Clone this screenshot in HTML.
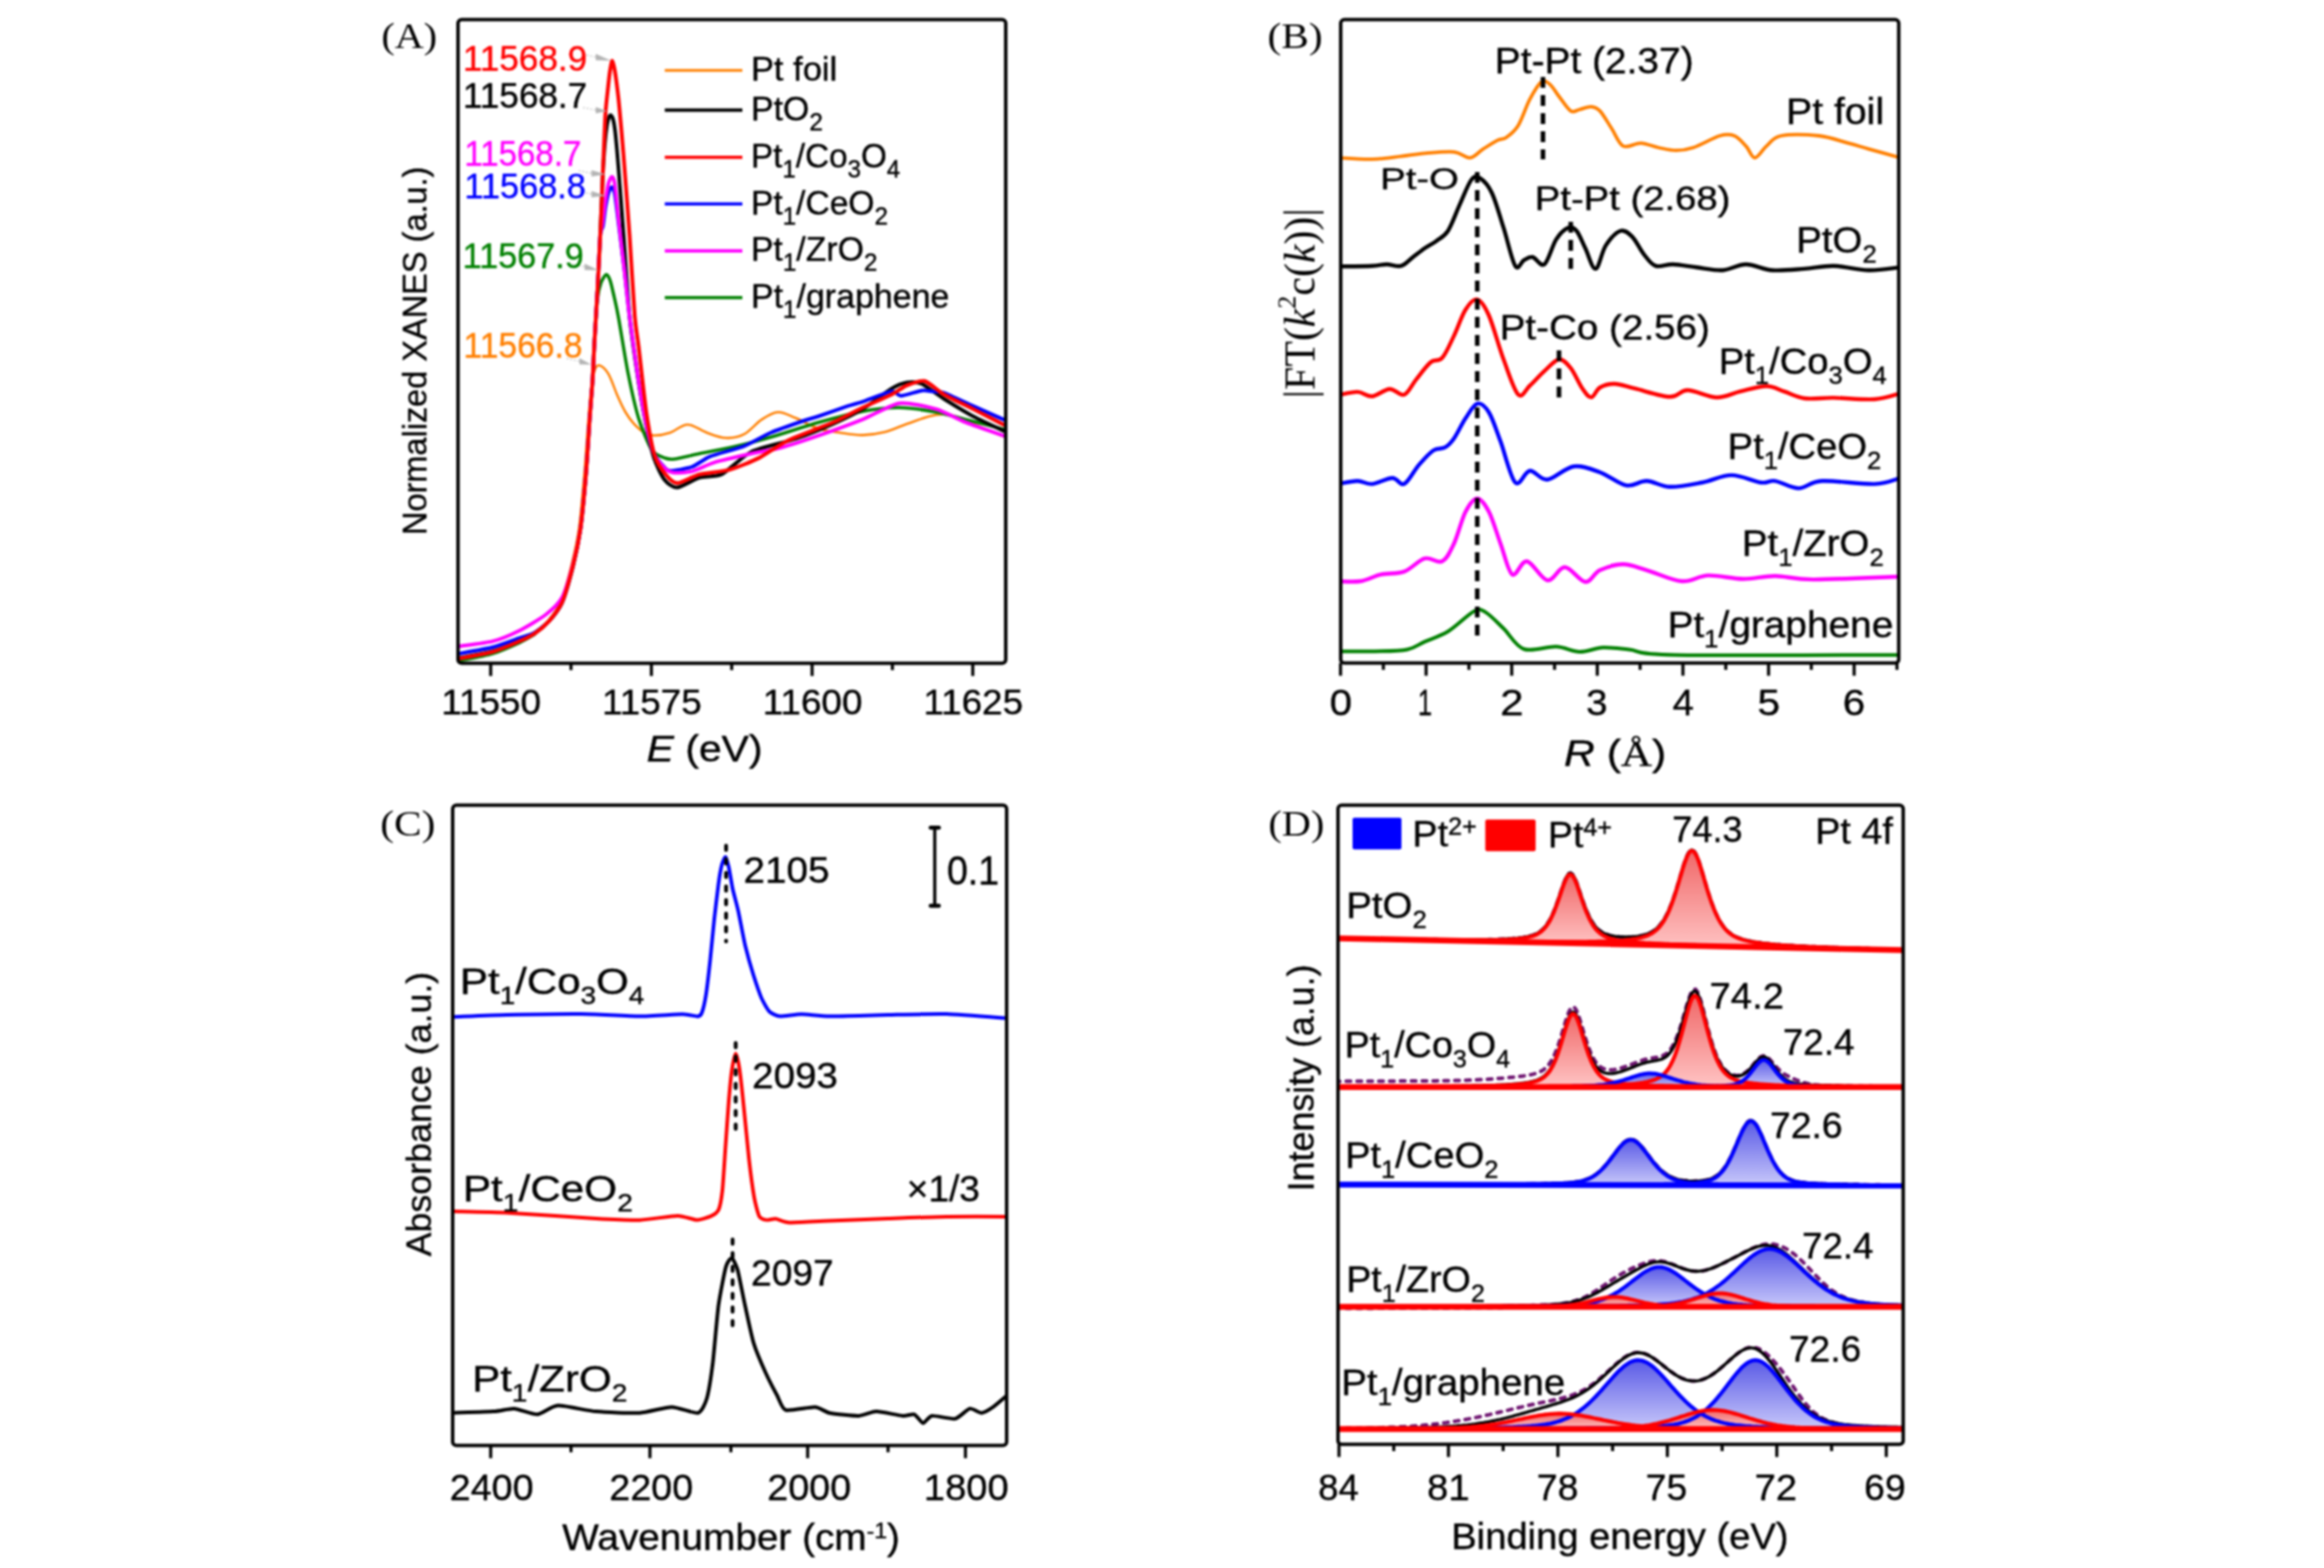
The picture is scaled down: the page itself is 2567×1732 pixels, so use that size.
<!DOCTYPE html>
<html><head><meta charset="utf-8"><style>
html,body{margin:0;padding:0;background:#fff;}
svg{display:block;}
#wrap{filter:blur(1px);width:2567px;height:1732px;overflow:hidden;}
</style></head><body><div id="wrap">
<svg width="2567" height="1732" viewBox="0 0 2567 1732">
<rect width="2567" height="1732" fill="#fff"/>
<line x1="542.0" y1="732.7" x2="542.0" y2="746.7" stroke="#000" stroke-width="3.4" />
<line x1="719.5" y1="732.7" x2="719.5" y2="746.7" stroke="#000" stroke-width="3.4" />
<line x1="897.0" y1="732.7" x2="897.0" y2="746.7" stroke="#000" stroke-width="3.4" />
<line x1="1074.5" y1="732.7" x2="1074.5" y2="746.7" stroke="#000" stroke-width="3.4" />
<line x1="630.7" y1="732.7" x2="630.7" y2="740.2" stroke="#000" stroke-width="3.4" />
<line x1="808.2" y1="732.7" x2="808.2" y2="740.2" stroke="#000" stroke-width="3.4" />
<line x1="985.7" y1="732.7" x2="985.7" y2="740.2" stroke="#000" stroke-width="3.4" />
<g clip-path="url(#clipA)">
<clipPath id="clipA"><rect x="505.9" y="21.6" width="605.0000000000001" height="711.1"/></clipPath>
<path d="M506.5,728.0 C512.8,726.8 532.9,724.2 544.0,721.0 C555.1,717.8 565.7,712.5 573.4,709.0 C581.1,705.5 584.6,704.0 590.0,700.0 C595.4,696.0 601.1,691.0 606.0,685.0 C610.9,679.0 615.3,674.0 619.5,664.0 C623.7,654.0 627.7,638.3 631.0,625.0 C634.3,611.7 637.1,601.0 639.5,584.0 C641.9,567.0 643.8,542.0 645.5,523.0 C647.2,504.0 648.2,485.5 649.5,470.0 C650.8,454.5 651.8,440.0 653.0,430.0 C654.2,420.0 655.1,414.4 656.5,410.0 C657.9,405.6 659.1,403.1 661.6,403.5 C664.1,403.9 668.4,407.1 671.8,412.7 C675.2,418.3 678.9,429.9 682.0,437.0 C685.1,444.1 687.7,449.9 690.7,455.0 C693.7,460.1 696.5,464.0 700.0,467.8 C703.5,471.6 708.2,475.8 712.0,478.0 C715.8,480.2 718.3,481.0 723.0,481.0 C727.7,481.0 733.9,480.0 740.0,478.0 C746.1,476.0 752.8,469.0 759.6,469.0 C766.4,469.0 773.8,475.5 780.9,478.0 C788.0,480.5 795.2,483.5 802.0,483.8 C808.8,484.1 815.2,483.1 821.8,479.7 C828.4,476.3 835.1,467.5 841.4,463.4 C847.7,459.3 853.1,455.5 859.4,455.2 C865.7,454.9 871.6,458.8 879.0,461.8 C886.4,464.8 895.3,470.5 903.5,473.2 C911.7,475.9 919.8,476.8 928.0,478.0 C936.2,479.2 944.4,480.7 952.6,480.6 C960.8,480.5 968.8,479.4 977.0,477.3 C985.2,475.2 993.4,471.2 1001.6,468.3 C1009.8,465.4 1019.2,461.8 1026.0,460.0 C1032.8,458.2 1037.0,457.5 1042.5,457.7 C1048.0,457.9 1052.0,458.7 1058.8,461.0 C1065.6,463.3 1074.5,467.9 1083.4,471.6 C1092.3,475.4 1107.2,481.5 1112.0,483.5" fill="none" stroke="#ff7f00" stroke-width="2.6" stroke-linejoin="round" stroke-linecap="round" />
<path d="M506.5,730.0 C511.5,728.9 535.1,724.7 544.0,722.0 C552.9,719.3 567.3,712.8 573.4,710.0 C579.5,707.2 587.8,702.3 590.0,701.0 C592.2,699.7 588.0,702.0 590.2,700.0 C592.4,698.0 602.4,690.6 606.5,686.0 C610.6,681.4 617.3,673.8 620.8,665.7 C624.3,657.6 630.3,635.9 633.0,625.0 C635.7,614.1 639.3,597.6 641.2,584.0 C643.1,570.4 645.9,539.2 647.3,522.9 C648.7,506.6 650.4,475.2 651.4,461.6 C652.4,448.0 653.8,431.7 654.5,420.8 C655.2,409.9 655.8,392.1 656.5,380.0 C657.2,367.9 659.0,339.1 660.0,330.0 C661.0,320.9 662.7,315.6 664.0,312.0 C665.3,308.4 668.3,303.6 669.6,303.3 C670.9,303.0 672.9,306.8 674.0,310.0 C675.1,313.2 677.0,321.9 678.2,327.2 C679.4,332.5 680.9,338.5 683.0,349.8 C685.1,361.1 690.7,397.0 693.7,412.0 C696.7,427.0 701.9,450.7 705.4,462.0 C708.9,473.3 716.1,491.1 720.0,497.0 C723.9,502.9 731.4,504.7 734.7,506.0 C738.0,507.3 739.9,507.7 745.0,507.0 C750.1,506.3 763.6,502.9 772.7,501.0 C781.8,499.1 802.7,495.3 813.6,492.8 C824.5,490.3 842.5,485.5 854.5,482.0 C866.5,478.5 890.4,470.4 903.5,466.7 C916.6,463.0 940.6,456.6 952.6,454.4 C964.6,452.2 982.5,450.2 993.4,450.3 C1004.3,450.4 1024.5,453.5 1034.3,455.2 C1044.1,456.9 1056.6,460.8 1067.0,463.4 C1077.4,466.0 1106.0,473.5 1112.0,475.0" fill="none" stroke="#008000" stroke-width="3.6" stroke-linejoin="round" stroke-linecap="round" />
<path d="M506.5,727.0 C510.9,726.1 536.2,721.7 544.0,719.5 C551.8,717.3 568.0,710.7 573.4,708.4 C578.8,706.1 586.3,702.6 590.2,700.0 C594.1,697.4 602.9,690.0 606.5,686.0 C610.1,682.0 617.7,672.8 620.8,665.7 C623.9,658.6 630.6,634.5 633.0,625.0 C635.4,615.5 639.5,595.9 641.2,584.0 C642.9,572.1 646.1,537.2 647.3,522.9 C648.5,508.6 650.6,473.5 651.4,461.6 C652.2,449.7 653.9,430.3 654.5,420.8 C655.1,411.3 655.9,391.8 656.5,380.0 C657.1,368.2 659.2,334.0 660.0,320.0 C660.8,306.0 662.3,274.8 663.0,260.0 C663.7,245.2 665.2,205.1 665.8,193.4 C666.4,181.7 667.5,166.5 668.0,160.0 C668.5,153.5 669.9,141.7 670.5,138.0 C671.1,134.3 672.5,129.7 673.0,128.5 C673.5,127.3 674.5,126.9 675.0,127.4 C675.5,127.9 676.9,130.4 677.5,133.0 C678.1,135.6 679.4,144.1 680.0,150.0 C680.6,155.9 682.0,171.0 683.0,183.8 C684.0,196.6 687.4,240.6 688.8,260.0 C690.2,279.4 693.9,333.5 695.4,349.8 C696.9,366.1 700.2,387.6 702.0,400.0 C703.8,412.4 708.7,443.8 711.0,456.0 C713.3,468.2 719.3,496.4 722.0,505.0 C724.7,513.6 731.0,526.1 734.0,530.0 C737.0,533.9 743.5,538.8 748.0,538.5 C752.5,538.2 767.0,529.2 772.7,527.5 C778.4,525.8 790.5,527.2 797.2,523.9 C803.9,520.6 820.5,503.6 830.0,499.0 C839.5,494.4 868.5,488.2 879.0,484.6 C889.5,481.0 911.3,472.1 919.9,468.3 C928.5,464.5 945.0,456.6 952.6,452.0 C960.2,447.4 979.5,432.4 985.2,429.0 C990.9,425.6 997.8,423.1 1001.6,422.5 C1005.4,421.9 1013.2,421.9 1018.0,424.0 C1022.8,426.1 1035.8,436.3 1042.5,440.5 C1049.2,444.7 1067.1,455.7 1075.2,460.0 C1083.3,464.3 1107.7,475.5 1112.0,477.5" fill="none" stroke="#000" stroke-width="4" stroke-linejoin="round" stroke-linecap="round" />
<path d="M506.5,722.0 C510.9,721.2 536.2,717.0 544.0,715.0 C551.8,713.0 568.0,706.9 573.4,705.0 C578.8,703.1 586.3,701.2 590.2,699.0 C594.1,696.8 602.9,689.9 606.5,686.0 C610.1,682.1 617.7,672.8 620.8,665.7 C623.9,658.6 630.6,634.5 633.0,625.0 C635.4,615.5 639.5,595.9 641.2,584.0 C642.9,572.1 646.1,537.2 647.3,522.9 C648.5,508.6 650.6,473.5 651.4,461.6 C652.2,449.7 653.9,430.3 654.5,420.8 C655.1,411.3 655.9,391.8 656.5,380.0 C657.1,368.2 659.2,334.0 660.0,320.0 C660.8,306.0 662.3,268.2 663.0,260.0 C663.7,251.8 665.3,253.7 666.0,250.0 C666.7,246.3 668.2,232.4 669.0,228.0 C669.8,223.6 671.7,214.5 672.5,212.0 C673.3,209.5 675.0,206.6 675.8,206.8 C676.6,207.0 678.2,209.5 679.0,214.0 C679.8,218.5 681.8,235.1 683.0,245.0 C684.2,254.9 688.3,286.4 689.7,298.6 C691.1,310.8 693.8,337.4 695.4,349.8 C697.0,362.2 701.1,392.1 703.0,405.0 C704.9,417.9 709.8,448.9 712.0,460.0 C714.2,471.1 719.7,493.7 722.0,500.0 C724.3,506.3 729.9,511.7 732.0,514.0 C734.1,516.3 736.2,519.8 740.0,520.0 C743.8,520.2 759.4,517.5 764.5,515.7 C769.6,513.9 777.3,507.0 784.0,504.3 C790.7,501.6 814.0,495.9 821.8,492.8 C829.6,489.7 843.6,481.2 851.2,478.0 C858.8,474.8 880.9,467.1 887.0,465.0 C893.1,462.9 897.8,461.9 903.5,460.0 C909.2,458.1 930.3,450.6 936.0,448.7 C941.7,446.8 946.9,445.7 952.6,443.8 C958.3,441.9 980.1,433.1 985.0,432.3 C989.9,431.5 991.1,437.3 995.0,437.2 C998.9,437.1 1014.0,432.1 1018.0,431.5 C1022.0,430.9 1026.5,432.0 1029.4,432.3 C1032.3,432.6 1037.2,432.1 1042.5,434.0 C1047.8,435.9 1067.1,445.1 1075.2,448.7 C1083.3,452.3 1107.7,463.1 1112.0,465.0" fill="none" stroke="#0000ff" stroke-width="4" stroke-linejoin="round" stroke-linecap="round" />
<path d="M506.5,714.0 C510.9,713.3 536.2,710.4 544.0,708.4 C551.8,706.4 566.6,700.1 573.4,696.7 C580.2,693.3 597.2,683.3 602.7,679.0 C608.2,674.7 617.3,666.5 620.8,660.0 C624.3,653.5 630.6,631.9 633.0,623.0 C635.4,614.1 639.5,595.7 641.2,584.0 C642.9,572.3 646.1,537.2 647.3,522.9 C648.5,508.6 650.6,473.5 651.4,461.6 C652.2,449.7 653.9,430.3 654.5,420.8 C655.1,411.3 655.9,391.8 656.5,380.0 C657.1,368.2 659.2,334.0 660.0,320.0 C660.8,306.0 662.4,268.2 663.0,260.0 C663.6,251.8 664.3,254.4 665.0,250.0 C665.7,245.6 667.9,227.5 668.7,222.0 C669.5,216.5 671.2,206.1 672.0,203.0 C672.8,199.9 675.0,195.3 675.8,195.3 C676.6,195.3 678.2,197.7 679.0,203.0 C679.8,208.3 681.8,229.8 683.0,241.0 C684.2,252.2 688.3,285.9 689.7,298.6 C691.1,311.3 693.8,337.4 695.4,349.8 C697.0,362.2 701.1,392.1 703.0,405.0 C704.9,417.9 709.8,448.9 712.0,460.0 C714.2,471.1 719.5,493.5 722.0,500.0 C724.5,506.5 730.5,513.4 733.0,516.0 C735.5,518.6 739.8,521.5 743.5,522.0 C747.2,522.5 759.2,521.9 764.5,520.6 C769.8,519.3 781.4,513.1 789.0,510.8 C796.6,508.5 821.4,502.9 830.0,501.0 C838.6,499.1 854.0,496.8 862.6,494.5 C871.2,492.2 893.0,485.0 903.5,481.4 C914.0,477.8 942.1,467.6 952.6,463.4 C963.1,459.2 983.9,446.7 993.4,445.4 C1002.9,444.1 1025.7,449.5 1034.3,452.0 C1042.9,454.5 1057.9,463.1 1067.0,466.7 C1076.1,470.3 1106.8,480.7 1112.0,482.5" fill="none" stroke="#ff00ff" stroke-width="4" stroke-linejoin="round" stroke-linecap="round" />
<path d="M506.5,727.5 C510.9,726.6 536.2,722.2 544.0,720.0 C551.8,717.8 568.0,710.7 573.4,708.4 C578.8,706.1 586.3,702.6 590.2,700.0 C594.1,697.4 602.9,690.0 606.5,686.0 C610.1,682.0 617.7,672.8 620.8,665.7 C623.9,658.6 630.6,634.5 633.0,625.0 C635.4,615.5 639.5,595.9 641.2,584.0 C642.9,572.1 646.1,537.2 647.3,522.9 C648.5,508.6 650.6,473.5 651.4,461.6 C652.2,449.7 653.9,430.3 654.5,420.8 C655.1,411.3 655.9,391.8 656.5,380.0 C657.1,368.2 659.2,334.0 660.0,320.0 C660.8,306.0 662.3,274.8 663.0,260.0 C663.7,245.2 665.1,209.0 665.8,193.4 C666.5,177.8 668.0,137.7 668.7,126.5 C669.4,115.3 670.9,103.6 671.5,97.8 C672.1,92.0 673.4,80.4 674.0,76.8 C674.6,73.2 675.7,67.0 676.3,67.2 C676.9,67.4 678.4,74.0 679.2,78.7 C680.0,83.4 682.1,99.7 683.0,107.4 C683.9,115.1 685.7,136.1 686.5,145.0 C687.3,153.9 688.7,170.4 689.7,183.8 C690.7,197.2 694.1,240.6 695.4,260.0 C696.7,279.4 700.0,335.5 701.2,349.8 C702.4,364.1 703.9,370.3 705.4,382.7 C706.9,395.1 711.9,442.0 714.0,456.0 C716.1,470.0 720.6,495.1 723.0,503.0 C725.4,510.9 731.8,519.9 734.7,523.5 C737.6,527.1 743.6,533.6 748.0,533.7 C752.4,533.8 766.0,525.7 772.7,524.0 C779.4,522.3 797.8,521.1 805.4,519.0 C813.0,516.9 830.4,509.8 838.0,506.0 C845.6,502.2 861.2,490.9 870.8,486.3 C880.4,481.7 910.4,470.9 919.9,466.7 C929.4,462.5 945.0,453.9 952.6,450.3 C960.2,446.7 979.5,438.5 985.2,435.6 C990.9,432.7 997.4,427.5 1001.6,425.8 C1005.8,424.1 1016.4,419.8 1021.2,420.9 C1026.0,422.0 1036.2,432.0 1042.5,435.6 C1048.8,439.2 1067.1,447.9 1075.2,452.0 C1083.3,456.1 1107.7,468.8 1112.0,471.0" fill="none" stroke="#ff0000" stroke-width="4.2" stroke-linejoin="round" stroke-linecap="round" />
</g>
<line x1="644.0" y1="60.0" x2="658.0" y2="63.0" stroke="#ccc" stroke-width="1.5" stroke-dasharray="2,2"/>
<polygon points="658.0,59.5 658.0,66.5 675.0,67.0" fill="#b4b4b4"/>
<line x1="644.0" y1="118.7" x2="658.0" y2="121.7" stroke="#ccc" stroke-width="1.5" stroke-dasharray="2,2"/>
<polygon points="658.0,118.2 658.0,125.2 670.6,122.7" fill="#b4b4b4"/>
<line x1="639.4" y1="188.5" x2="653.4" y2="191.5" stroke="#ccc" stroke-width="1.5" stroke-dasharray="2,2"/>
<polygon points="653.4,188.0 653.4,195.0 668.7,192.4" fill="#b4b4b4"/>
<line x1="639.4" y1="211.4" x2="653.4" y2="214.4" stroke="#ccc" stroke-width="1.5" stroke-dasharray="2,2"/>
<polygon points="653.4,210.9 653.4,217.9 668.7,216.3" fill="#b4b4b4"/>
<line x1="631.7" y1="291.7" x2="645.7" y2="294.7" stroke="#ccc" stroke-width="1.5" stroke-dasharray="2,2"/>
<polygon points="645.7,291.2 645.7,298.2 661.0,298.6" fill="#b4b4b4"/>
<line x1="626.0" y1="396.0" x2="640.0" y2="399.0" stroke="#ccc" stroke-width="1.5" stroke-dasharray="2,2"/>
<polygon points="640.0,395.5 640.0,402.5 653.0,402.8" fill="#b4b4b4"/>
<line x1="734.3" y1="77.8" x2="820.0" y2="77.8" stroke="#ff7f00" stroke-width="3" />
<line x1="734.3" y1="121.6" x2="820.0" y2="121.6" stroke="#000" stroke-width="3.6" />
<line x1="734.3" y1="173.7" x2="820.0" y2="173.7" stroke="#ff0000" stroke-width="3.6" />
<line x1="734.3" y1="225.3" x2="820.0" y2="225.3" stroke="#0000ff" stroke-width="3.6" />
<line x1="734.3" y1="277.1" x2="820.0" y2="277.1" stroke="#ff00ff" stroke-width="3.6" />
<line x1="734.3" y1="328.8" x2="820.0" y2="328.8" stroke="#008000" stroke-width="3.6" />
<rect x="505.9" y="21.6" width="605.0" height="711.1" rx="4" ry="4" fill="none" stroke="#000" stroke-width="3.8"/>
<line x1="1480.7" y1="732.4" x2="1480.7" y2="746.4" stroke="#000" stroke-width="3.4" />
<line x1="1575.2" y1="732.4" x2="1575.2" y2="746.4" stroke="#000" stroke-width="3.4" />
<line x1="1669.8" y1="732.4" x2="1669.8" y2="746.4" stroke="#000" stroke-width="3.4" />
<line x1="1764.3" y1="732.4" x2="1764.3" y2="746.4" stroke="#000" stroke-width="3.4" />
<line x1="1858.9" y1="732.4" x2="1858.9" y2="746.4" stroke="#000" stroke-width="3.4" />
<line x1="1953.5" y1="732.4" x2="1953.5" y2="746.4" stroke="#000" stroke-width="3.4" />
<line x1="2048.0" y1="732.4" x2="2048.0" y2="746.4" stroke="#000" stroke-width="3.4" />
<line x1="1528.0" y1="732.4" x2="1528.0" y2="739.9" stroke="#000" stroke-width="3.4" />
<line x1="1622.5" y1="732.4" x2="1622.5" y2="739.9" stroke="#000" stroke-width="3.4" />
<line x1="1717.1" y1="732.4" x2="1717.1" y2="739.9" stroke="#000" stroke-width="3.4" />
<line x1="1811.6" y1="732.4" x2="1811.6" y2="739.9" stroke="#000" stroke-width="3.4" />
<line x1="1906.2" y1="732.4" x2="1906.2" y2="739.9" stroke="#000" stroke-width="3.4" />
<line x1="2000.7" y1="732.4" x2="2000.7" y2="739.9" stroke="#000" stroke-width="3.4" />
<line x1="2095.3" y1="732.4" x2="2095.3" y2="739.9" stroke="#000" stroke-width="3.4" />
<clipPath id="clipB"><rect x="1480.9" y="21.6" width="616.4000000000001" height="710.8"/></clipPath>
<g clip-path="url(#clipB)">
<path d="M1478.0,174.3 C1484.2,174.6 1503.9,176.2 1515.5,175.9 C1527.1,175.6 1538.1,173.8 1547.8,172.7 C1557.5,171.6 1563.9,170.2 1573.6,169.4 C1583.3,168.6 1597.6,167.0 1605.9,167.8 C1614.2,168.6 1618.3,174.8 1623.7,174.3 C1629.1,173.8 1633.1,167.8 1638.2,164.6 C1643.3,161.4 1650.0,157.1 1654.3,154.9 C1658.6,152.8 1660.2,154.4 1664.0,151.7 C1667.8,149.0 1672.6,145.8 1676.9,138.8 C1681.2,131.8 1685.5,117.8 1689.8,109.7 C1694.1,101.6 1698.9,93.1 1702.7,90.4 C1706.5,87.7 1709.2,90.9 1712.4,93.6 C1715.6,96.3 1718.2,101.7 1722.0,106.5 C1725.8,111.3 1731.2,120.2 1735.0,122.6 C1738.8,125.0 1740.9,121.8 1744.7,121.0 C1748.5,120.2 1753.8,117.5 1757.6,117.8 C1761.4,118.1 1763.5,118.6 1767.3,122.6 C1771.1,126.6 1775.9,135.5 1780.2,142.0 C1784.5,148.5 1787.6,158.7 1793.0,161.4 C1798.4,164.1 1805.9,157.8 1812.4,158.1 C1818.9,158.4 1825.3,161.7 1831.8,163.0 C1838.3,164.3 1844.8,166.2 1851.2,166.2 C1857.7,166.2 1862.4,165.7 1870.5,163.0 C1878.6,160.3 1892.1,152.2 1899.6,150.0 C1907.1,147.8 1910.9,148.1 1915.7,150.0 C1920.5,151.9 1924.8,157.3 1928.6,161.4 C1932.4,165.5 1934.5,174.3 1938.3,174.3 C1942.1,174.3 1946.4,165.5 1951.2,161.4 C1956.0,157.3 1957.6,151.9 1967.3,150.0 C1977.0,148.1 1996.9,148.7 2009.3,150.0 C2021.7,151.3 2032.4,155.7 2041.6,158.1 C2050.8,160.5 2054.6,161.9 2064.2,164.6 C2073.8,167.3 2093.2,172.7 2099.0,174.3" fill="none" stroke="#ff7f00" stroke-width="3.8" stroke-linejoin="round" stroke-linecap="round" />
<path d="M1478.0,294.3 C1484.2,294.2 1506.5,294.1 1515.5,293.7 C1524.5,293.3 1526.3,292.0 1531.7,292.0 C1537.1,292.0 1543.0,295.0 1547.8,293.7 C1552.6,292.4 1556.4,287.2 1560.7,284.0 C1565.0,280.8 1569.3,277.3 1573.6,274.3 C1577.9,271.3 1582.2,269.4 1586.5,266.2 C1590.8,263.0 1595.1,261.7 1599.4,255.0 C1603.7,248.3 1608.1,235.3 1612.4,225.9 C1616.7,216.5 1621.5,203.3 1625.3,198.5 C1629.0,193.7 1631.2,194.5 1634.9,196.9 C1638.7,199.3 1643.5,203.9 1647.8,213.0 C1652.1,222.1 1656.5,238.2 1660.8,251.7 C1665.1,265.1 1669.9,287.8 1673.7,293.7 C1677.5,299.6 1680.2,288.8 1683.4,287.2 C1686.6,285.6 1689.2,283.2 1693.0,284.0 C1696.8,284.8 1701.6,295.2 1705.9,292.0 C1710.2,288.8 1714.5,271.3 1718.8,264.6 C1723.1,257.9 1728.0,253.3 1731.8,251.7 C1735.6,250.1 1738.2,251.2 1741.4,255.0 C1744.6,258.8 1747.6,267.3 1751.1,274.3 C1754.6,281.3 1758.6,297.4 1762.4,296.9 C1766.2,296.4 1769.1,278.1 1773.7,271.1 C1778.3,264.1 1785.0,256.6 1789.8,255.0 C1794.6,253.4 1798.5,257.1 1802.8,261.4 C1807.1,265.7 1811.4,275.4 1815.7,280.8 C1820.0,286.2 1823.2,291.8 1828.6,293.7 C1834.0,295.6 1840.5,291.7 1848.0,292.0 C1855.5,292.3 1864.7,294.2 1873.8,295.3 C1882.9,296.4 1893.7,299.1 1902.8,298.5 C1911.9,297.9 1919.4,292.0 1928.6,292.0 C1937.8,292.0 1946.9,297.7 1957.7,298.5 C1968.5,299.3 1981.9,297.7 1993.2,296.9 C2004.5,296.1 2013.6,293.4 2025.4,293.7 C2037.2,294.0 2051.9,298.2 2064.2,298.5 C2076.5,298.8 2093.2,295.8 2099.0,295.3" fill="none" stroke="#000" stroke-width="4.4" stroke-linejoin="round" stroke-linecap="round" />
<path d="M1478.0,436.5 C1481.6,435.9 1493.2,432.7 1499.4,432.9 C1505.7,433.1 1509.6,438.2 1515.5,437.7 C1521.4,437.2 1529.0,430.0 1534.9,429.7 C1540.8,429.4 1546.2,437.7 1551.0,436.0 C1555.8,434.3 1559.2,425.5 1564.0,419.5 C1568.8,413.5 1575.3,404.2 1580.1,400.2 C1584.9,396.2 1588.7,400.1 1593.0,395.3 C1597.3,390.5 1601.6,380.0 1605.9,371.1 C1610.2,362.2 1614.5,348.7 1618.8,342.0 C1623.1,335.3 1627.4,329.7 1631.7,330.8 C1636.0,331.9 1639.8,337.5 1644.6,348.5 C1649.4,359.5 1655.4,382.5 1660.8,397.0 C1666.2,411.5 1672.1,430.9 1676.9,435.7 C1681.7,440.5 1685.0,430.3 1689.8,426.0 C1694.6,421.7 1700.5,414.7 1705.9,409.9 C1711.3,405.1 1717.2,397.6 1722.0,397.0 C1726.8,396.4 1730.7,401.2 1735.0,406.6 C1739.3,412.0 1744.1,423.8 1747.9,429.2 C1751.7,434.6 1754.4,439.1 1757.6,438.9 C1760.8,438.7 1763.0,430.5 1767.3,428.0 C1771.6,425.5 1777.0,423.8 1783.4,424.0 C1789.9,424.2 1795.8,426.8 1806.0,429.2 C1816.2,431.6 1835.0,438.0 1844.7,438.3 C1854.4,438.6 1855.4,430.9 1864.0,431.0 C1872.6,431.1 1886.6,438.8 1896.3,439.0 C1906.0,439.2 1913.0,434.5 1922.2,432.4 C1931.4,430.3 1943.1,426.5 1951.2,426.5 C1959.3,426.5 1963.6,430.1 1970.6,432.4 C1977.6,434.6 1984.1,438.8 1993.2,440.0 C2002.3,441.2 2012.5,439.2 2025.4,439.4 C2038.3,439.6 2058.3,441.8 2070.6,441.0 C2082.9,440.2 2094.3,435.6 2099.0,434.5" fill="none" stroke="#ff0000" stroke-width="4.4" stroke-linejoin="round" stroke-linecap="round" />
<path d="M1478.0,534.6 C1481.6,534.0 1493.2,531.3 1499.4,531.3 C1505.7,531.3 1509.1,535.1 1515.5,534.6 C1521.9,534.1 1532.1,528.0 1538.0,528.0 C1543.9,528.0 1546.1,537.0 1551.0,534.6 C1555.9,532.2 1561.8,519.8 1567.2,513.6 C1572.6,507.4 1578.5,500.7 1583.3,497.5 C1588.1,494.3 1592.4,496.4 1596.2,494.2 C1600.0,492.0 1602.1,489.9 1605.9,484.5 C1609.7,479.1 1614.5,468.4 1618.8,462.0 C1623.1,455.6 1627.4,446.9 1631.7,445.8 C1636.0,444.7 1640.3,448.5 1644.6,455.5 C1648.9,462.5 1652.7,474.9 1657.5,487.8 C1662.3,500.7 1668.3,527.6 1673.7,533.0 C1679.1,538.4 1683.9,520.5 1689.8,520.0 C1695.7,519.5 1701.1,530.5 1709.2,529.7 C1717.3,528.9 1728.5,516.5 1738.2,515.2 C1747.9,513.9 1757.6,518.2 1767.3,521.7 C1777.0,525.2 1787.7,534.6 1796.3,536.2 C1804.9,537.8 1810.8,531.0 1818.9,531.3 C1827.0,531.6 1834.5,537.5 1844.7,537.8 C1854.9,538.1 1868.9,535.1 1880.2,533.0 C1891.5,530.9 1901.7,524.9 1912.5,524.9 C1923.3,524.9 1936.7,531.9 1944.8,533.0 C1952.9,534.1 1953.9,530.2 1960.9,531.3 C1967.9,532.4 1978.1,539.4 1986.7,539.4 C1995.3,539.4 1998.5,532.1 2012.5,531.3 C2026.5,530.5 2056.2,535.1 2070.6,534.6 C2085.0,534.1 2094.3,529.1 2099.0,528.0" fill="none" stroke="#0000ff" stroke-width="4.4" stroke-linejoin="round" stroke-linecap="round" />
<path d="M1478.0,642.0 C1482.1,642.0 1494.7,643.2 1502.6,642.0 C1510.5,640.8 1517.1,636.4 1525.2,634.6 C1533.3,632.8 1542.9,634.4 1551.0,631.4 C1559.1,628.4 1566.6,618.8 1573.6,616.9 C1580.6,615.0 1587.6,622.7 1593.0,620.0 C1598.4,617.3 1601.6,609.8 1605.9,600.7 C1610.2,591.6 1614.5,573.5 1618.8,565.2 C1623.1,556.9 1627.4,550.7 1631.7,550.7 C1636.0,550.7 1640.3,556.9 1644.6,565.2 C1648.9,573.5 1653.2,589.1 1657.5,600.7 C1661.8,612.3 1665.6,631.4 1670.4,634.6 C1675.2,637.8 1680.1,618.9 1686.6,620.0 C1693.1,621.1 1702.2,639.9 1709.2,641.0 C1716.2,642.1 1721.5,626.2 1728.5,626.5 C1735.5,626.8 1744.6,642.2 1751.1,642.7 C1757.6,643.2 1760.3,633.0 1767.3,629.8 C1774.3,626.6 1784.4,623.3 1793.0,623.3 C1801.6,623.3 1808.1,626.7 1818.9,629.8 C1829.7,632.9 1846.3,641.0 1857.6,642.0 C1868.9,643.0 1875.4,636.0 1886.7,635.6 C1898.0,635.2 1913.0,639.4 1925.4,639.5 C1937.8,639.6 1948.0,636.1 1960.9,636.2 C1973.8,636.3 1979.8,640.0 2002.8,640.1 C2025.8,640.2 2083.0,637.4 2099.0,636.9" fill="none" stroke="#ff00ff" stroke-width="4.4" stroke-linejoin="round" stroke-linecap="round" />
<path d="M1478.0,719.5 C1484.8,719.5 1506.1,719.8 1518.8,719.5 C1531.5,719.2 1545.2,719.3 1554.3,717.5 C1563.4,715.7 1566.1,712.1 1573.6,708.8 C1581.1,705.5 1590.2,703.1 1599.4,697.5 C1608.6,691.9 1621.5,678.5 1628.5,675.0 C1635.5,671.5 1636.0,673.4 1641.4,676.6 C1646.8,679.8 1653.8,687.6 1660.8,694.3 C1667.8,701.0 1673.7,713.7 1683.4,717.0 C1693.1,720.3 1708.6,713.8 1718.8,714.3 C1729.0,714.8 1736.1,719.8 1744.7,720.0 C1753.3,720.2 1761.4,715.7 1770.5,715.3 C1779.6,714.9 1786.0,716.1 1799.5,717.5 C1813.0,718.9 1801.3,722.4 1851.2,723.4 C1901.1,724.4 2057.7,723.4 2099.0,723.4" fill="none" stroke="#008000" stroke-width="4" stroke-linejoin="round" stroke-linecap="round" />
</g>
<line x1="1631.7" y1="190" x2="1631.7" y2="702" stroke="#000" stroke-width="5" stroke-dasharray="12,8"/>
<line x1="1704.3" y1="85" x2="1704.3" y2="176" stroke="#000" stroke-width="5" stroke-dasharray="12,8"/>
<line x1="1735" y1="245" x2="1735" y2="300" stroke="#000" stroke-width="5" stroke-dasharray="12,8"/>
<line x1="1722" y1="387" x2="1722" y2="441" stroke="#000" stroke-width="5" stroke-dasharray="12,8"/>
<rect x="1480.9" y="21.6" width="616.4" height="710.8" rx="4" ry="4" fill="none" stroke="#000" stroke-width="3.8"/>
<line x1="542.0" y1="1596.7" x2="542.0" y2="1610.7" stroke="#000" stroke-width="3.4" />
<line x1="717.9" y1="1596.7" x2="717.9" y2="1610.7" stroke="#000" stroke-width="3.4" />
<line x1="892.1" y1="1596.7" x2="892.1" y2="1610.7" stroke="#000" stroke-width="3.4" />
<line x1="1066.4" y1="1596.7" x2="1066.4" y2="1610.7" stroke="#000" stroke-width="3.4" />
<line x1="630.7" y1="1596.7" x2="630.7" y2="1604.2" stroke="#000" stroke-width="3.4" />
<line x1="807.3" y1="1596.7" x2="807.3" y2="1604.2" stroke="#000" stroke-width="3.4" />
<line x1="980.9" y1="1596.7" x2="980.9" y2="1604.2" stroke="#000" stroke-width="3.4" />
<clipPath id="clipC"><rect x="500" y="889.4" width="611.9000000000001" height="707.3000000000001"/></clipPath>
<g clip-path="url(#clipC)">
<path d="M498.0,1123.3 C504.2,1123.1 545.6,1121.3 560.0,1121.0 C574.4,1120.7 627.3,1119.8 642.0,1120.0 C656.7,1120.2 695.4,1122.5 706.6,1122.5 C717.8,1122.5 747.4,1120.3 753.8,1120.3 C760.2,1120.3 768.5,1122.9 770.6,1122.7 C772.7,1122.5 774.3,1121.2 775.2,1118.8 C776.1,1116.4 778.9,1104.7 779.8,1098.9 C780.7,1093.1 783.5,1069.1 784.4,1060.7 C785.3,1052.3 788.1,1023.2 789.0,1014.8 C789.9,1006.4 792.8,982.5 793.6,976.5 C794.4,970.5 796.6,958.1 797.4,955.1 C798.2,952.1 800.7,946.3 801.5,946.6 C802.3,946.9 804.2,954.6 805.0,958.0 C805.8,961.4 808.1,976.1 809.1,981.0 C810.1,985.9 814.1,1000.1 815.5,1006.5 C816.9,1012.9 821.5,1037.8 823.2,1044.8 C824.9,1051.8 830.3,1071.0 832.1,1076.7 C833.9,1082.4 839.2,1098.1 841.0,1102.2 C842.8,1106.3 848.0,1115.5 850.0,1117.5 C852.0,1119.5 857.9,1122.3 861.4,1122.6 C864.9,1122.9 879.9,1120.3 885.4,1120.3 C890.9,1120.3 906.8,1122.4 916.3,1122.5 C925.8,1122.6 968.0,1121.3 980.9,1121.1 C993.8,1120.8 1032.1,1119.6 1045.4,1120.0 C1058.7,1120.4 1107.1,1124.4 1114.0,1124.9" fill="none" stroke="#0000ff" stroke-width="4" stroke-linejoin="round" stroke-linecap="round" />
<path d="M498.0,1338.0 C504.3,1338.2 545.4,1338.9 561.4,1339.7 C577.4,1340.5 643.7,1345.3 658.2,1346.1 C672.7,1346.9 697.6,1348.0 706.6,1347.7 C715.6,1347.4 742.2,1342.9 748.5,1342.9 C754.8,1342.9 766.1,1347.5 769.8,1347.6 C773.5,1347.6 782.8,1344.5 785.2,1343.4 C787.6,1342.3 792.4,1339.2 793.7,1336.4 C795.0,1333.6 797.1,1322.3 797.9,1315.3 C798.7,1308.3 800.7,1276.0 801.4,1266.2 C802.1,1256.4 804.2,1225.5 804.9,1217.1 C805.6,1208.7 807.6,1187.4 808.4,1182.1 C809.2,1176.8 811.8,1163.9 812.6,1163.8 C813.4,1163.7 815.9,1174.7 816.8,1180.7 C817.7,1186.7 820.7,1214.2 821.7,1224.2 C822.8,1234.2 826.2,1270.5 827.3,1280.3 C828.4,1290.1 831.9,1316.1 833.0,1322.4 C834.1,1328.7 837.2,1340.9 838.6,1343.4 C840.0,1345.9 845.2,1347.3 847.0,1347.6 C848.8,1347.9 854.3,1345.9 856.8,1346.2 C859.3,1346.5 866.2,1350.2 872.2,1350.4 C878.2,1350.6 905.4,1348.8 916.3,1348.4 C927.2,1348.0 968.0,1346.5 980.9,1346.1 C993.8,1345.6 1032.1,1344.1 1045.4,1343.9 C1058.7,1343.7 1107.1,1343.9 1114.0,1343.9" fill="none" stroke="#ff0000" stroke-width="4" stroke-linejoin="round" stroke-linecap="round" />
<path d="M498.0,1560.7 C502.7,1560.5 538.2,1559.6 545.2,1559.1 C552.2,1558.6 563.0,1555.6 567.8,1555.9 C572.6,1556.2 588.8,1562.6 593.6,1562.3 C598.4,1562.0 609.7,1552.9 616.2,1552.6 C622.7,1552.3 649.2,1558.3 658.2,1559.1 C667.2,1559.9 698.2,1561.2 706.6,1560.7 C715.0,1560.2 735.5,1554.2 742.0,1554.2 C748.5,1554.2 767.2,1561.7 771.1,1560.7 C775.0,1559.7 779.2,1550.0 780.8,1544.5 C782.4,1539.0 786.0,1516.1 787.3,1505.8 C788.6,1495.5 792.2,1451.9 793.7,1441.3 C795.2,1430.7 800.3,1404.6 801.8,1399.4 C803.2,1394.2 806.9,1389.4 808.2,1389.7 C809.5,1390.0 813.2,1397.4 814.7,1402.6 C816.2,1407.8 821.0,1433.2 822.8,1441.3 C824.6,1449.4 830.1,1475.9 832.4,1483.3 C834.6,1490.7 842.7,1509.7 845.3,1515.5 C847.9,1521.3 856.0,1537.1 858.3,1541.3 C860.6,1545.5 863.7,1556.2 867.9,1557.5 C872.1,1558.8 895.4,1553.9 900.2,1554.2 C905.0,1554.5 911.5,1559.7 916.3,1560.7 C921.1,1561.7 943.4,1564.1 948.6,1563.9 C953.8,1563.7 963.2,1559.1 968.0,1559.1 C972.8,1559.1 992.8,1563.6 997.0,1563.9 C1001.2,1564.2 1007.6,1561.5 1009.9,1562.3 C1012.2,1563.1 1017.7,1571.8 1019.6,1572.0 C1021.5,1572.2 1025.8,1564.4 1029.3,1563.9 C1032.8,1563.4 1050.9,1567.9 1055.1,1567.1 C1059.3,1566.3 1068.3,1556.5 1071.2,1555.9 C1074.1,1555.3 1081.6,1560.9 1084.2,1560.7 C1086.8,1560.5 1094.0,1556.3 1097.0,1554.2 C1100.0,1552.1 1112.3,1541.4 1114.0,1540.0" fill="none" stroke="#000" stroke-width="4" stroke-linejoin="round" stroke-linecap="round" />
</g>
<line x1="802" y1="934" x2="802" y2="1040" stroke="#000" stroke-width="4.2" stroke-dasharray="5,10" stroke-linecap="round"/>
<line x1="812.6" y1="1152" x2="812.6" y2="1257" stroke="#000" stroke-width="4.2" stroke-dasharray="5,10" stroke-linecap="round"/>
<line x1="809.2" y1="1369" x2="809.2" y2="1474" stroke="#000" stroke-width="4.2" stroke-dasharray="5,10" stroke-linecap="round"/>
<line x1="1032.5" y1="913.6" x2="1032.5" y2="1000.7" stroke="#000" stroke-width="3.5" />
<line x1="1028.0" y1="914.3" x2="1037.0" y2="914.3" stroke="#000" stroke-width="4.5" stroke-linecap="round"/>
<line x1="1028.0" y1="1000.5" x2="1037.0" y2="1000.5" stroke="#000" stroke-width="4.5" stroke-linecap="round"/>
<rect x="500.0" y="889.4" width="611.9" height="707.3" rx="4" ry="4" fill="none" stroke="#000" stroke-width="3.8"/>
<line x1="1479.0" y1="1595.4" x2="1479.0" y2="1609.4" stroke="#000" stroke-width="3.4" />
<line x1="1599.9" y1="1595.4" x2="1599.9" y2="1609.4" stroke="#000" stroke-width="3.4" />
<line x1="1720.8" y1="1595.4" x2="1720.8" y2="1609.4" stroke="#000" stroke-width="3.4" />
<line x1="1841.7" y1="1595.4" x2="1841.7" y2="1609.4" stroke="#000" stroke-width="3.4" />
<line x1="1962.6" y1="1595.4" x2="1962.6" y2="1609.4" stroke="#000" stroke-width="3.4" />
<line x1="2083.5" y1="1595.4" x2="2083.5" y2="1609.4" stroke="#000" stroke-width="3.4" />
<line x1="1539.5" y1="1595.4" x2="1539.5" y2="1602.9" stroke="#000" stroke-width="3.4" />
<line x1="1660.3" y1="1595.4" x2="1660.3" y2="1602.9" stroke="#000" stroke-width="3.4" />
<line x1="1781.2" y1="1595.4" x2="1781.2" y2="1602.9" stroke="#000" stroke-width="3.4" />
<line x1="1902.2" y1="1595.4" x2="1902.2" y2="1602.9" stroke="#000" stroke-width="3.4" />
<line x1="2023.1" y1="1595.4" x2="2023.1" y2="1602.9" stroke="#000" stroke-width="3.4" />
<defs>
<linearGradient id="gR" x1="0" y1="0" x2="0" y2="1"><stop offset="0" stop-color="#f06868"/><stop offset="1" stop-color="#ffc4c4"/></linearGradient>
<linearGradient id="gB" x1="0" y1="0" x2="0" y2="1"><stop offset="0" stop-color="#5a5ae6"/><stop offset="1" stop-color="#c8c8fa"/></linearGradient>
</defs>
<clipPath id="clipD"><rect x="1477.9" y="889.3" width="624.2999999999997" height="706.1000000000001"/></clipPath>
<g clip-path="url(#clipD)">
<path d="M1586.9,1038.2 L1588.9,1038.2 L1590.9,1038.2 L1592.9,1038.2 L1594.9,1038.3 L1596.9,1038.3 L1598.9,1038.3 L1600.9,1038.3 L1602.9,1038.3 L1604.9,1038.4 L1606.9,1038.4 L1608.9,1038.4 L1610.9,1038.4 L1612.9,1038.4 L1614.9,1038.4 L1616.9,1038.4 L1618.9,1038.4 L1620.9,1038.5 L1622.9,1038.5 L1624.9,1038.5 L1626.9,1038.5 L1628.9,1038.5 L1630.9,1038.5 L1632.9,1038.5 L1634.9,1038.4 L1636.9,1038.4 L1638.9,1038.4 L1640.9,1038.4 L1642.9,1038.4 L1644.9,1038.4 L1646.9,1038.3 L1648.9,1038.3 L1650.9,1038.3 L1652.9,1038.2 L1654.9,1038.2 L1656.9,1038.1 L1658.9,1038.0 L1660.9,1037.9 L1662.9,1037.9 L1664.9,1037.8 L1666.9,1037.7 L1668.9,1037.5 L1670.9,1037.4 L1672.9,1037.3 L1674.9,1037.1 L1676.9,1036.9 L1678.9,1036.7 L1680.9,1036.4 L1682.9,1036.2 L1684.9,1035.8 L1686.9,1035.5 L1688.9,1035.0 L1690.9,1034.5 L1692.9,1033.9 L1694.9,1033.2 L1696.9,1032.4 L1698.9,1031.3 L1700.9,1030.0 L1702.9,1028.5 L1704.9,1026.7 L1706.9,1024.4 L1708.9,1021.8 L1710.9,1018.7 L1712.9,1015.1 L1714.9,1010.9 L1716.9,1006.3 L1718.9,1001.1 L1720.9,995.5 L1722.9,989.7 L1724.9,983.7 L1726.9,978.0 L1728.9,972.9 L1730.9,968.9 L1732.9,966.4 L1734.9,965.9 L1736.9,967.3 L1738.9,970.5 L1740.9,975.1 L1742.9,980.6 L1744.9,986.5 L1746.9,992.5 L1748.9,998.4 L1750.9,1003.9 L1752.9,1009.0 L1754.9,1013.5 L1756.9,1017.5 L1758.9,1021.0 L1760.9,1024.0 L1762.9,1026.6 L1764.9,1028.7 L1766.9,1030.5 L1768.9,1032.0 L1770.9,1033.3 L1772.9,1034.3 L1774.9,1035.2 L1776.9,1036.0 L1778.9,1036.6 L1780.9,1037.2 L1782.9,1037.6 L1784.9,1038.1 L1786.9,1038.5 L1788.9,1038.8 L1790.9,1039.1 L1792.9,1039.4 L1794.9,1039.7 L1796.9,1039.9 L1798.9,1040.1 L1800.9,1040.4 L1802.9,1040.6 L1804.9,1040.7 L1806.9,1040.9 L1808.9,1041.1 L1810.9,1041.2 L1812.9,1041.4 L1814.9,1041.5 L1816.9,1041.7 L1818.9,1041.8 L1820.9,1041.9 L1822.9,1042.0 L1824.9,1042.1 L1826.9,1042.2 L1828.9,1042.3 L1830.9,1042.4 L1832.9,1042.5 L1834.9,1042.6 L1836.9,1042.7 L1838.9,1042.8 L1840.9,1042.9 L1842.9,1043.0 L1844.9,1043.1 L1846.9,1043.1 L1848.9,1043.2 L1850.9,1043.3 L1852.9,1043.4 L1854.9,1043.4 L1856.9,1043.5 L1858.9,1043.6 L1860.9,1043.6 L1862.9,1043.7 L1864.9,1043.8 L1866.9,1043.8 L1868.9,1043.9 L1870.9,1044.0 L1872.9,1044.0 L1874.9,1044.1 L1876.9,1044.2 L1878.9,1044.2 L1880.9,1044.3 L1882.9,1044.3 L1882.9,1044.9 L1586.9,1038.8 Z" fill="url(#gR)" stroke="none"/>
<path d="M1656.9,1039.6 L1658.9,1039.7 L1660.9,1039.7 L1662.9,1039.7 L1664.9,1039.7 L1666.9,1039.8 L1668.9,1039.8 L1670.9,1039.8 L1672.9,1039.9 L1674.9,1039.9 L1676.9,1039.9 L1678.9,1039.9 L1680.9,1040.0 L1682.9,1040.0 L1684.9,1040.0 L1686.9,1040.0 L1688.9,1040.1 L1690.9,1040.1 L1692.9,1040.1 L1694.9,1040.1 L1696.9,1040.1 L1698.9,1040.2 L1700.9,1040.2 L1702.9,1040.2 L1704.9,1040.2 L1706.9,1040.2 L1708.9,1040.3 L1710.9,1040.3 L1712.9,1040.3 L1714.9,1040.3 L1716.9,1040.3 L1718.9,1040.3 L1720.9,1040.3 L1722.9,1040.3 L1724.9,1040.4 L1726.9,1040.4 L1728.9,1040.4 L1730.9,1040.4 L1732.9,1040.4 L1734.9,1040.4 L1736.9,1040.4 L1738.9,1040.4 L1740.9,1040.3 L1742.9,1040.3 L1744.9,1040.3 L1746.9,1040.3 L1748.9,1040.3 L1750.9,1040.3 L1752.9,1040.3 L1754.9,1040.2 L1756.9,1040.2 L1758.9,1040.2 L1760.9,1040.1 L1762.9,1040.1 L1764.9,1040.0 L1766.9,1040.0 L1768.9,1039.9 L1770.9,1039.9 L1772.9,1039.8 L1774.9,1039.7 L1776.9,1039.6 L1778.9,1039.6 L1780.9,1039.5 L1782.9,1039.3 L1784.9,1039.2 L1786.9,1039.1 L1788.9,1039.0 L1790.9,1038.8 L1792.9,1038.6 L1794.9,1038.5 L1796.9,1038.2 L1798.9,1038.0 L1800.9,1037.8 L1802.9,1037.5 L1804.9,1037.2 L1806.9,1036.9 L1808.9,1036.5 L1810.9,1036.1 L1812.9,1035.6 L1814.9,1035.0 L1816.9,1034.4 L1818.9,1033.7 L1820.9,1032.9 L1822.9,1031.9 L1824.9,1030.8 L1826.9,1029.4 L1828.9,1027.9 L1830.9,1026.0 L1832.9,1023.9 L1834.9,1021.4 L1836.9,1018.6 L1838.9,1015.3 L1840.9,1011.6 L1842.9,1007.3 L1844.9,1002.6 L1846.9,997.4 L1848.9,991.7 L1850.9,985.6 L1852.9,979.1 L1854.9,972.4 L1856.9,965.6 L1858.9,958.9 L1860.9,952.7 L1862.9,947.4 L1864.9,943.2 L1866.9,940.5 L1868.9,939.6 L1870.9,940.6 L1872.9,943.4 L1874.9,947.6 L1876.9,953.1 L1878.9,959.3 L1880.9,966.1 L1882.9,973.0 L1884.9,979.8 L1886.9,986.3 L1888.9,992.6 L1890.9,998.3 L1892.9,1003.6 L1894.9,1008.4 L1896.9,1012.7 L1898.9,1016.5 L1900.9,1019.9 L1902.9,1022.8 L1904.9,1025.4 L1906.9,1027.6 L1908.9,1029.5 L1910.9,1031.2 L1912.9,1032.6 L1914.9,1033.8 L1916.9,1034.9 L1918.9,1035.8 L1920.9,1036.6 L1922.9,1037.3 L1924.9,1037.9 L1926.9,1038.5 L1928.9,1039.0 L1930.9,1039.5 L1932.9,1039.9 L1934.9,1040.3 L1936.9,1040.6 L1938.9,1040.9 L1940.9,1041.2 L1942.9,1041.5 L1944.9,1041.8 L1946.9,1042.1 L1948.9,1042.3 L1950.9,1042.5 L1952.9,1042.7 L1954.9,1042.9 L1956.9,1043.1 L1958.9,1043.3 L1960.9,1043.5 L1962.9,1043.6 L1964.9,1043.8 L1966.9,1044.0 L1968.9,1044.1 L1970.9,1044.2 L1972.9,1044.4 L1974.9,1044.5 L1976.9,1044.6 L1978.9,1044.7 L1980.9,1044.9 L1982.9,1045.0 L1984.9,1045.1 L1986.9,1045.2 L1988.9,1045.3 L1990.9,1045.4 L1992.9,1045.5 L1994.9,1045.6 L1996.9,1045.7 L1998.9,1045.8 L2000.9,1045.9 L2002.9,1045.9 L2004.9,1046.0 L2006.9,1046.1 L2008.9,1046.2 L2010.9,1046.3 L2012.9,1046.3 L2014.9,1046.4 L2016.9,1046.5 L2018.9,1046.6 L2020.9,1046.6 L2022.9,1046.7 L2024.9,1046.8 L2026.9,1046.9 L2028.9,1046.9 L2030.9,1047.0 L2032.9,1047.1 L2034.9,1047.1 L2036.9,1047.2 L2038.9,1047.3 L2040.9,1047.3 L2042.9,1047.4 L2044.9,1047.4 L2046.9,1047.5 L2048.9,1047.6 L2050.9,1047.6 L2052.9,1047.7 L2054.9,1047.7 L2056.9,1047.8 L2058.9,1047.9 L2060.9,1047.9 L2062.9,1048.0 L2064.9,1048.0 L2066.9,1048.1 L2068.9,1048.1 L2070.9,1048.2 L2072.9,1048.2 L2074.9,1048.3 L2076.9,1048.3 L2078.9,1048.4 L2080.9,1048.5 L2080.9,1049.1 L1656.9,1040.2 Z" fill="url(#gR)" stroke="none"/>
<path d="M1474.9,1036.1 L1476.9,1036.1 L1478.9,1036.1 L1480.9,1036.2 L1482.9,1036.2 L1484.9,1036.2 L1486.9,1036.3 L1488.9,1036.3 L1490.9,1036.4 L1492.9,1036.4 L1494.9,1036.4 L1496.9,1036.5 L1498.9,1036.5 L1500.9,1036.5 L1502.9,1036.6 L1504.9,1036.6 L1506.9,1036.6 L1508.9,1036.7 L1510.9,1036.7 L1512.9,1036.7 L1514.9,1036.8 L1516.9,1036.8 L1518.9,1036.8 L1520.9,1036.9 L1522.9,1036.9 L1524.9,1036.9 L1526.9,1037.0 L1528.9,1037.0 L1530.9,1037.0 L1532.9,1037.1 L1534.9,1037.1 L1536.9,1037.1 L1538.9,1037.2 L1540.9,1037.2 L1542.9,1037.2 L1544.9,1037.3 L1546.9,1037.3 L1548.9,1037.3 L1550.9,1037.4 L1552.9,1037.4 L1554.9,1037.4 L1556.9,1037.4 L1558.9,1037.5 L1560.9,1037.5 L1562.9,1037.5 L1564.9,1037.6 L1566.9,1037.6 L1568.9,1037.6 L1570.9,1037.6 L1572.9,1037.7 L1574.9,1037.7 L1576.9,1037.7 L1578.9,1037.7 L1580.9,1037.8 L1582.9,1037.8 L1584.9,1037.8 L1586.9,1037.8 L1588.9,1037.8 L1590.9,1037.9 L1592.9,1037.9 L1594.9,1037.9 L1596.9,1037.9 L1598.9,1037.9 L1600.9,1037.9 L1602.9,1038.0 L1604.9,1038.0 L1606.9,1038.0 L1608.9,1038.0 L1610.9,1038.0 L1612.9,1038.0 L1614.9,1038.0 L1616.9,1038.0 L1618.9,1038.0 L1620.9,1038.0 L1622.9,1038.0 L1624.9,1038.0 L1626.9,1038.0 L1628.9,1038.0 L1630.9,1038.0 L1632.9,1038.0 L1634.9,1038.0 L1636.9,1037.9 L1638.9,1037.9 L1640.9,1037.9 L1642.9,1037.9 L1644.9,1037.8 L1646.9,1037.8 L1648.9,1037.7 L1650.9,1037.7 L1652.9,1037.6 L1654.9,1037.6 L1656.9,1037.5 L1658.9,1037.4 L1660.9,1037.3 L1662.9,1037.2 L1664.9,1037.1 L1666.9,1037.0 L1668.9,1036.9 L1670.9,1036.7 L1672.9,1036.5 L1674.9,1036.4 L1676.9,1036.2 L1678.9,1035.9 L1680.9,1035.7 L1682.9,1035.4 L1684.9,1035.0 L1686.9,1034.7 L1688.9,1034.2 L1690.9,1033.7 L1692.9,1033.1 L1694.9,1032.3 L1696.9,1031.4 L1698.9,1030.4 L1700.9,1029.1 L1702.9,1027.5 L1704.9,1025.7 L1706.9,1023.4 L1708.9,1020.7 L1710.9,1017.6 L1712.9,1014.0 L1714.9,1009.8 L1716.9,1005.1 L1718.9,999.9 L1720.9,994.3 L1722.9,988.4 L1724.9,982.4 L1726.9,976.6 L1728.9,971.5 L1730.9,967.5 L1732.9,965.0 L1734.9,964.4 L1736.9,965.8 L1738.9,968.9 L1740.9,973.4 L1742.9,978.9 L1744.9,984.8 L1746.9,990.8 L1748.9,996.6 L1750.9,1002.0 L1752.9,1007.0 L1754.9,1011.5 L1756.9,1015.4 L1758.9,1018.8 L1760.9,1021.7 L1762.9,1024.2 L1764.9,1026.3 L1766.9,1028.0 L1768.9,1029.4 L1770.9,1030.5 L1772.9,1031.5 L1774.9,1032.2 L1776.9,1032.9 L1778.9,1033.4 L1780.9,1033.8 L1782.9,1034.1 L1784.9,1034.4 L1786.9,1034.6 L1788.9,1034.8 L1790.9,1034.9 L1792.9,1035.0 L1794.9,1035.0 L1796.9,1035.0 L1798.9,1035.0 L1800.9,1034.9 L1802.9,1034.8 L1804.9,1034.6 L1806.9,1034.4 L1808.9,1034.2 L1810.9,1033.9 L1812.9,1033.5 L1814.9,1033.1 L1816.9,1032.5 L1818.9,1031.9 L1820.9,1031.1 L1822.9,1030.2 L1824.9,1029.2 L1826.9,1027.9 L1828.9,1026.4 L1830.9,1024.6 L1832.9,1022.6 L1834.9,1020.1 L1836.9,1017.3 L1838.9,1014.1 L1840.9,1010.4 L1842.9,1006.2 L1844.9,1001.5 L1846.9,996.4 L1848.9,990.7 L1850.9,984.6 L1852.9,978.2 L1854.9,971.5 L1856.9,964.7 L1858.9,958.1 L1860.9,951.9 L1862.9,946.6 L1864.9,942.4 L1866.9,939.8 L1868.9,938.9 L1870.9,939.9 L1872.9,942.7 L1874.9,947.0 L1876.9,952.4 L1878.9,958.7 L1880.9,965.5 L1882.9,972.4 L1884.9,979.2 L1886.9,985.8 L1888.9,992.0 L1890.9,997.8 L1892.9,1003.1 L1894.9,1007.9 L1896.9,1012.2 L1898.9,1016.0 L1900.9,1019.4 L1902.9,1022.4 L1904.9,1024.9 L1906.9,1027.2 L1908.9,1029.1 L1910.9,1030.7 L1912.9,1032.2 L1914.9,1033.4 L1916.9,1034.5 L1918.9,1035.4 L1920.9,1036.2 L1922.9,1036.9 L1924.9,1037.6 L1926.9,1038.1 L1928.9,1038.6 L1930.9,1039.1 L1932.9,1039.5 L1934.9,1039.9 L1936.9,1040.3 L1938.9,1040.6 L1940.9,1040.9 L1942.9,1041.2 L1944.9,1041.5 L1946.9,1041.8 L1948.9,1042.0 L1950.9,1042.2 L1952.9,1042.4 L1954.9,1042.7 L1956.9,1042.9 L1958.9,1043.0 L1960.9,1043.2 L1962.9,1043.4 L1964.9,1043.5 L1966.9,1043.7 L1968.9,1043.9 L1970.9,1044.0 L1972.9,1044.1 L1974.9,1044.3 L1976.9,1044.4 L1978.9,1044.5 L1980.9,1044.6 L1982.9,1044.8 L1984.9,1044.9 L1986.9,1045.0 L1988.9,1045.1 L1990.9,1045.2 L1992.9,1045.3 L1994.9,1045.4 L1996.9,1045.5 L1998.9,1045.6 L2000.9,1045.7 L2002.9,1045.8 L2004.9,1045.8 L2006.9,1045.9 L2008.9,1046.0 L2010.9,1046.1 L2012.9,1046.2 L2014.9,1046.3 L2016.9,1046.3 L2018.9,1046.4 L2020.9,1046.5 L2022.9,1046.6 L2024.9,1046.6 L2026.9,1046.7 L2028.9,1046.8 L2030.9,1046.8 L2032.9,1046.9 L2034.9,1047.0 L2036.9,1047.0 L2038.9,1047.1 L2040.9,1047.2 L2042.9,1047.2 L2044.9,1047.3 L2046.9,1047.4 L2048.9,1047.4 L2050.9,1047.5 L2052.9,1047.5 L2054.9,1047.6 L2056.9,1047.7 L2058.9,1047.7 L2060.9,1047.8 L2062.9,1047.8 L2064.9,1047.9 L2066.9,1048.0 L2068.9,1048.0 L2070.9,1048.1 L2072.9,1048.1 L2074.9,1048.2 L2076.9,1048.2 L2078.9,1048.3 L2080.9,1048.3 L2082.9,1048.4 L2084.9,1048.5 L2086.9,1048.5 L2088.9,1048.6 L2090.9,1048.6 L2092.9,1048.7 L2094.9,1048.7 L2096.9,1048.8 L2098.9,1048.8 L2100.9,1048.9 L2102.9,1048.9 L2104.9,1049.0" fill="none" stroke="#6e1470" stroke-width="4" stroke-dasharray="5,7" stroke-linecap="round"/>
<path d="M1474.9,1036.1 L1476.9,1036.1 L1478.9,1036.1 L1480.9,1036.2 L1482.9,1036.2 L1484.9,1036.2 L1486.9,1036.3 L1488.9,1036.3 L1490.9,1036.4 L1492.9,1036.4 L1494.9,1036.4 L1496.9,1036.5 L1498.9,1036.5 L1500.9,1036.5 L1502.9,1036.6 L1504.9,1036.6 L1506.9,1036.6 L1508.9,1036.7 L1510.9,1036.7 L1512.9,1036.7 L1514.9,1036.8 L1516.9,1036.8 L1518.9,1036.8 L1520.9,1036.9 L1522.9,1036.9 L1524.9,1036.9 L1526.9,1037.0 L1528.9,1037.0 L1530.9,1037.0 L1532.9,1037.1 L1534.9,1037.1 L1536.9,1037.1 L1538.9,1037.2 L1540.9,1037.2 L1542.9,1037.2 L1544.9,1037.3 L1546.9,1037.3 L1548.9,1037.3 L1550.9,1037.4 L1552.9,1037.4 L1554.9,1037.4 L1556.9,1037.4 L1558.9,1037.5 L1560.9,1037.5 L1562.9,1037.5 L1564.9,1037.6 L1566.9,1037.6 L1568.9,1037.6 L1570.9,1037.6 L1572.9,1037.7 L1574.9,1037.7 L1576.9,1037.7 L1578.9,1037.7 L1580.9,1037.8 L1582.9,1037.8 L1584.9,1037.8 L1586.9,1037.8 L1588.9,1037.8 L1590.9,1037.9 L1592.9,1037.9 L1594.9,1037.9 L1596.9,1037.9 L1598.9,1037.9 L1600.9,1037.9 L1602.9,1038.0 L1604.9,1038.0 L1606.9,1038.0 L1608.9,1038.0 L1610.9,1038.0 L1612.9,1038.0 L1614.9,1038.0 L1616.9,1038.0 L1618.9,1038.0 L1620.9,1038.0 L1622.9,1038.0 L1624.9,1038.0 L1626.9,1038.0 L1628.9,1038.0 L1630.9,1038.0 L1632.9,1038.0 L1634.9,1038.0 L1636.9,1037.9 L1638.9,1037.9 L1640.9,1037.9 L1642.9,1037.9 L1644.9,1037.8 L1646.9,1037.8 L1648.9,1037.7 L1650.9,1037.7 L1652.9,1037.6 L1654.9,1037.6 L1656.9,1037.5 L1658.9,1037.4 L1660.9,1037.3 L1662.9,1037.2 L1664.9,1037.1 L1666.9,1037.0 L1668.9,1036.9 L1670.9,1036.7 L1672.9,1036.5 L1674.9,1036.4 L1676.9,1036.2 L1678.9,1035.9 L1680.9,1035.7 L1682.9,1035.4 L1684.9,1035.0 L1686.9,1034.7 L1688.9,1034.2 L1690.9,1033.7 L1692.9,1033.1 L1694.9,1032.3 L1696.9,1031.4 L1698.9,1030.4 L1700.9,1029.1 L1702.9,1027.5 L1704.9,1025.7 L1706.9,1023.4 L1708.9,1020.7 L1710.9,1017.6 L1712.9,1014.0 L1714.9,1009.8 L1716.9,1005.1 L1718.9,999.9 L1720.9,994.3 L1722.9,988.4 L1724.9,982.4 L1726.9,976.6 L1728.9,971.5 L1730.9,967.5 L1732.9,965.0 L1734.9,964.4 L1736.9,965.8 L1738.9,968.9 L1740.9,973.4 L1742.9,978.9 L1744.9,984.8 L1746.9,990.8 L1748.9,996.6 L1750.9,1002.0 L1752.9,1007.0 L1754.9,1011.5 L1756.9,1015.4 L1758.9,1018.8 L1760.9,1021.7 L1762.9,1024.2 L1764.9,1026.3 L1766.9,1028.0 L1768.9,1029.4 L1770.9,1030.5 L1772.9,1031.5 L1774.9,1032.2 L1776.9,1032.9 L1778.9,1033.4 L1780.9,1033.8 L1782.9,1034.1 L1784.9,1034.4 L1786.9,1034.6 L1788.9,1034.8 L1790.9,1034.9 L1792.9,1035.0 L1794.9,1035.0 L1796.9,1035.0 L1798.9,1035.0 L1800.9,1034.9 L1802.9,1034.8 L1804.9,1034.6 L1806.9,1034.4 L1808.9,1034.2 L1810.9,1033.9 L1812.9,1033.5 L1814.9,1033.1 L1816.9,1032.5 L1818.9,1031.9 L1820.9,1031.1 L1822.9,1030.2 L1824.9,1029.2 L1826.9,1027.9 L1828.9,1026.4 L1830.9,1024.6 L1832.9,1022.6 L1834.9,1020.1 L1836.9,1017.3 L1838.9,1014.1 L1840.9,1010.4 L1842.9,1006.2 L1844.9,1001.5 L1846.9,996.4 L1848.9,990.7 L1850.9,984.6 L1852.9,978.2 L1854.9,971.5 L1856.9,964.7 L1858.9,958.1 L1860.9,951.9 L1862.9,946.6 L1864.9,942.4 L1866.9,939.8 L1868.9,938.9 L1870.9,939.9 L1872.9,942.7 L1874.9,947.0 L1876.9,952.4 L1878.9,958.7 L1880.9,965.5 L1882.9,972.4 L1884.9,979.2 L1886.9,985.8 L1888.9,992.0 L1890.9,997.8 L1892.9,1003.1 L1894.9,1007.9 L1896.9,1012.2 L1898.9,1016.0 L1900.9,1019.4 L1902.9,1022.4 L1904.9,1024.9 L1906.9,1027.2 L1908.9,1029.1 L1910.9,1030.7 L1912.9,1032.2 L1914.9,1033.4 L1916.9,1034.5 L1918.9,1035.4 L1920.9,1036.2 L1922.9,1036.9 L1924.9,1037.6 L1926.9,1038.1 L1928.9,1038.6 L1930.9,1039.1 L1932.9,1039.5 L1934.9,1039.9 L1936.9,1040.3 L1938.9,1040.6 L1940.9,1040.9 L1942.9,1041.2 L1944.9,1041.5 L1946.9,1041.8 L1948.9,1042.0 L1950.9,1042.2 L1952.9,1042.4 L1954.9,1042.7 L1956.9,1042.9 L1958.9,1043.0 L1960.9,1043.2 L1962.9,1043.4 L1964.9,1043.5 L1966.9,1043.7 L1968.9,1043.9 L1970.9,1044.0 L1972.9,1044.1 L1974.9,1044.3 L1976.9,1044.4 L1978.9,1044.5 L1980.9,1044.6 L1982.9,1044.8 L1984.9,1044.9 L1986.9,1045.0 L1988.9,1045.1 L1990.9,1045.2 L1992.9,1045.3 L1994.9,1045.4 L1996.9,1045.5 L1998.9,1045.6 L2000.9,1045.7 L2002.9,1045.8 L2004.9,1045.8 L2006.9,1045.9 L2008.9,1046.0 L2010.9,1046.1 L2012.9,1046.2 L2014.9,1046.3 L2016.9,1046.3 L2018.9,1046.4 L2020.9,1046.5 L2022.9,1046.6 L2024.9,1046.6 L2026.9,1046.7 L2028.9,1046.8 L2030.9,1046.8 L2032.9,1046.9 L2034.9,1047.0 L2036.9,1047.0 L2038.9,1047.1 L2040.9,1047.2 L2042.9,1047.2 L2044.9,1047.3 L2046.9,1047.4 L2048.9,1047.4 L2050.9,1047.5 L2052.9,1047.5 L2054.9,1047.6 L2056.9,1047.7 L2058.9,1047.7 L2060.9,1047.8 L2062.9,1047.8 L2064.9,1047.9 L2066.9,1048.0 L2068.9,1048.0 L2070.9,1048.1 L2072.9,1048.1 L2074.9,1048.2 L2076.9,1048.2 L2078.9,1048.3 L2080.9,1048.3 L2082.9,1048.4 L2084.9,1048.5 L2086.9,1048.5 L2088.9,1048.6 L2090.9,1048.6 L2092.9,1048.7 L2094.9,1048.7 L2096.9,1048.8 L2098.9,1048.8 L2100.9,1048.9 L2102.9,1048.9 L2104.9,1049.0" fill="none" stroke="#000" stroke-width="3.4" stroke-linejoin="round"/>
<path d="M1586.9,1038.2 L1588.9,1038.2 L1590.9,1038.2 L1592.9,1038.2 L1594.9,1038.3 L1596.9,1038.3 L1598.9,1038.3 L1600.9,1038.3 L1602.9,1038.3 L1604.9,1038.4 L1606.9,1038.4 L1608.9,1038.4 L1610.9,1038.4 L1612.9,1038.4 L1614.9,1038.4 L1616.9,1038.4 L1618.9,1038.4 L1620.9,1038.5 L1622.9,1038.5 L1624.9,1038.5 L1626.9,1038.5 L1628.9,1038.5 L1630.9,1038.5 L1632.9,1038.5 L1634.9,1038.4 L1636.9,1038.4 L1638.9,1038.4 L1640.9,1038.4 L1642.9,1038.4 L1644.9,1038.4 L1646.9,1038.3 L1648.9,1038.3 L1650.9,1038.3 L1652.9,1038.2 L1654.9,1038.2 L1656.9,1038.1 L1658.9,1038.0 L1660.9,1037.9 L1662.9,1037.9 L1664.9,1037.8 L1666.9,1037.7 L1668.9,1037.5 L1670.9,1037.4 L1672.9,1037.3 L1674.9,1037.1 L1676.9,1036.9 L1678.9,1036.7 L1680.9,1036.4 L1682.9,1036.2 L1684.9,1035.8 L1686.9,1035.5 L1688.9,1035.0 L1690.9,1034.5 L1692.9,1033.9 L1694.9,1033.2 L1696.9,1032.4 L1698.9,1031.3 L1700.9,1030.0 L1702.9,1028.5 L1704.9,1026.7 L1706.9,1024.4 L1708.9,1021.8 L1710.9,1018.7 L1712.9,1015.1 L1714.9,1010.9 L1716.9,1006.3 L1718.9,1001.1 L1720.9,995.5 L1722.9,989.7 L1724.9,983.7 L1726.9,978.0 L1728.9,972.9 L1730.9,968.9 L1732.9,966.4 L1734.9,965.9 L1736.9,967.3 L1738.9,970.5 L1740.9,975.1 L1742.9,980.6 L1744.9,986.5 L1746.9,992.5 L1748.9,998.4 L1750.9,1003.9 L1752.9,1009.0 L1754.9,1013.5 L1756.9,1017.5 L1758.9,1021.0 L1760.9,1024.0 L1762.9,1026.6 L1764.9,1028.7 L1766.9,1030.5 L1768.9,1032.0 L1770.9,1033.3 L1772.9,1034.3 L1774.9,1035.2 L1776.9,1036.0 L1778.9,1036.6 L1780.9,1037.2 L1782.9,1037.6 L1784.9,1038.1 L1786.9,1038.5 L1788.9,1038.8 L1790.9,1039.1 L1792.9,1039.4 L1794.9,1039.7 L1796.9,1039.9 L1798.9,1040.1 L1800.9,1040.4 L1802.9,1040.6 L1804.9,1040.7 L1806.9,1040.9 L1808.9,1041.1 L1810.9,1041.2 L1812.9,1041.4 L1814.9,1041.5 L1816.9,1041.7 L1818.9,1041.8 L1820.9,1041.9 L1822.9,1042.0 L1824.9,1042.1 L1826.9,1042.2 L1828.9,1042.3 L1830.9,1042.4 L1832.9,1042.5 L1834.9,1042.6 L1836.9,1042.7 L1838.9,1042.8 L1840.9,1042.9 L1842.9,1043.0 L1844.9,1043.1 L1846.9,1043.1 L1848.9,1043.2 L1850.9,1043.3 L1852.9,1043.4 L1854.9,1043.4 L1856.9,1043.5 L1858.9,1043.6 L1860.9,1043.6 L1862.9,1043.7 L1864.9,1043.8 L1866.9,1043.8 L1868.9,1043.9 L1870.9,1044.0 L1872.9,1044.0 L1874.9,1044.1 L1876.9,1044.2 L1878.9,1044.2 L1880.9,1044.3 L1882.9,1044.3" fill="none" stroke="#ff0000" stroke-width="4.3" stroke-linejoin="round"/>
<path d="M1656.9,1039.6 L1658.9,1039.7 L1660.9,1039.7 L1662.9,1039.7 L1664.9,1039.7 L1666.9,1039.8 L1668.9,1039.8 L1670.9,1039.8 L1672.9,1039.9 L1674.9,1039.9 L1676.9,1039.9 L1678.9,1039.9 L1680.9,1040.0 L1682.9,1040.0 L1684.9,1040.0 L1686.9,1040.0 L1688.9,1040.1 L1690.9,1040.1 L1692.9,1040.1 L1694.9,1040.1 L1696.9,1040.1 L1698.9,1040.2 L1700.9,1040.2 L1702.9,1040.2 L1704.9,1040.2 L1706.9,1040.2 L1708.9,1040.3 L1710.9,1040.3 L1712.9,1040.3 L1714.9,1040.3 L1716.9,1040.3 L1718.9,1040.3 L1720.9,1040.3 L1722.9,1040.3 L1724.9,1040.4 L1726.9,1040.4 L1728.9,1040.4 L1730.9,1040.4 L1732.9,1040.4 L1734.9,1040.4 L1736.9,1040.4 L1738.9,1040.4 L1740.9,1040.3 L1742.9,1040.3 L1744.9,1040.3 L1746.9,1040.3 L1748.9,1040.3 L1750.9,1040.3 L1752.9,1040.3 L1754.9,1040.2 L1756.9,1040.2 L1758.9,1040.2 L1760.9,1040.1 L1762.9,1040.1 L1764.9,1040.0 L1766.9,1040.0 L1768.9,1039.9 L1770.9,1039.9 L1772.9,1039.8 L1774.9,1039.7 L1776.9,1039.6 L1778.9,1039.6 L1780.9,1039.5 L1782.9,1039.3 L1784.9,1039.2 L1786.9,1039.1 L1788.9,1039.0 L1790.9,1038.8 L1792.9,1038.6 L1794.9,1038.5 L1796.9,1038.2 L1798.9,1038.0 L1800.9,1037.8 L1802.9,1037.5 L1804.9,1037.2 L1806.9,1036.9 L1808.9,1036.5 L1810.9,1036.1 L1812.9,1035.6 L1814.9,1035.0 L1816.9,1034.4 L1818.9,1033.7 L1820.9,1032.9 L1822.9,1031.9 L1824.9,1030.8 L1826.9,1029.4 L1828.9,1027.9 L1830.9,1026.0 L1832.9,1023.9 L1834.9,1021.4 L1836.9,1018.6 L1838.9,1015.3 L1840.9,1011.6 L1842.9,1007.3 L1844.9,1002.6 L1846.9,997.4 L1848.9,991.7 L1850.9,985.6 L1852.9,979.1 L1854.9,972.4 L1856.9,965.6 L1858.9,958.9 L1860.9,952.7 L1862.9,947.4 L1864.9,943.2 L1866.9,940.5 L1868.9,939.6 L1870.9,940.6 L1872.9,943.4 L1874.9,947.6 L1876.9,953.1 L1878.9,959.3 L1880.9,966.1 L1882.9,973.0 L1884.9,979.8 L1886.9,986.3 L1888.9,992.6 L1890.9,998.3 L1892.9,1003.6 L1894.9,1008.4 L1896.9,1012.7 L1898.9,1016.5 L1900.9,1019.9 L1902.9,1022.8 L1904.9,1025.4 L1906.9,1027.6 L1908.9,1029.5 L1910.9,1031.2 L1912.9,1032.6 L1914.9,1033.8 L1916.9,1034.9 L1918.9,1035.8 L1920.9,1036.6 L1922.9,1037.3 L1924.9,1037.9 L1926.9,1038.5 L1928.9,1039.0 L1930.9,1039.5 L1932.9,1039.9 L1934.9,1040.3 L1936.9,1040.6 L1938.9,1040.9 L1940.9,1041.2 L1942.9,1041.5 L1944.9,1041.8 L1946.9,1042.1 L1948.9,1042.3 L1950.9,1042.5 L1952.9,1042.7 L1954.9,1042.9 L1956.9,1043.1 L1958.9,1043.3 L1960.9,1043.5 L1962.9,1043.6 L1964.9,1043.8 L1966.9,1044.0 L1968.9,1044.1 L1970.9,1044.2 L1972.9,1044.4 L1974.9,1044.5 L1976.9,1044.6 L1978.9,1044.7 L1980.9,1044.9 L1982.9,1045.0 L1984.9,1045.1 L1986.9,1045.2 L1988.9,1045.3 L1990.9,1045.4 L1992.9,1045.5 L1994.9,1045.6 L1996.9,1045.7 L1998.9,1045.8 L2000.9,1045.9 L2002.9,1045.9 L2004.9,1046.0 L2006.9,1046.1 L2008.9,1046.2 L2010.9,1046.3 L2012.9,1046.3 L2014.9,1046.4 L2016.9,1046.5 L2018.9,1046.6 L2020.9,1046.6 L2022.9,1046.7 L2024.9,1046.8 L2026.9,1046.9 L2028.9,1046.9 L2030.9,1047.0 L2032.9,1047.1 L2034.9,1047.1 L2036.9,1047.2 L2038.9,1047.3 L2040.9,1047.3 L2042.9,1047.4 L2044.9,1047.4 L2046.9,1047.5 L2048.9,1047.6 L2050.9,1047.6 L2052.9,1047.7 L2054.9,1047.7 L2056.9,1047.8 L2058.9,1047.9 L2060.9,1047.9 L2062.9,1048.0 L2064.9,1048.0 L2066.9,1048.1 L2068.9,1048.1 L2070.9,1048.2 L2072.9,1048.2 L2074.9,1048.3 L2076.9,1048.3 L2078.9,1048.4 L2080.9,1048.5" fill="none" stroke="#ff0000" stroke-width="4.3" stroke-linejoin="round"/>
<line x1="1474.9" y1="1036.4" x2="2105.2" y2="1049.6" stroke="#ff0000" stroke-width="6.5"/>
<path d="M1598.9,1200.1 L1600.9,1200.1 L1602.9,1200.1 L1604.9,1200.0 L1606.9,1200.0 L1608.9,1200.0 L1610.9,1200.0 L1612.9,1200.0 L1614.9,1199.9 L1616.9,1199.9 L1618.9,1199.9 L1620.9,1199.9 L1622.9,1199.8 L1624.9,1199.8 L1626.9,1199.8 L1628.9,1199.7 L1630.9,1199.7 L1632.9,1199.7 L1634.9,1199.6 L1636.9,1199.6 L1638.9,1199.5 L1640.9,1199.5 L1642.9,1199.4 L1644.9,1199.4 L1646.9,1199.3 L1648.9,1199.3 L1650.9,1199.2 L1652.9,1199.1 L1654.9,1199.0 L1656.9,1199.0 L1658.9,1198.9 L1660.9,1198.8 L1662.9,1198.7 L1664.9,1198.6 L1666.9,1198.5 L1668.9,1198.3 L1670.9,1198.2 L1672.9,1198.1 L1674.9,1197.9 L1676.9,1197.7 L1678.9,1197.5 L1680.9,1197.3 L1682.9,1197.1 L1684.9,1196.8 L1686.9,1196.5 L1688.9,1196.2 L1690.9,1195.8 L1692.9,1195.4 L1694.9,1194.8 L1696.9,1194.2 L1698.9,1193.5 L1700.9,1192.6 L1702.9,1191.6 L1704.9,1190.2 L1706.9,1188.6 L1708.9,1186.6 L1710.9,1184.2 L1712.9,1181.2 L1714.9,1177.7 L1716.9,1173.6 L1718.9,1168.8 L1720.9,1163.4 L1722.9,1157.4 L1724.9,1150.9 L1726.9,1144.2 L1728.9,1137.4 L1730.9,1131.0 L1732.9,1125.6 L1734.9,1121.7 L1736.9,1119.8 L1738.9,1120.3 L1740.9,1123.0 L1742.9,1127.6 L1744.9,1133.5 L1746.9,1140.1 L1748.9,1146.9 L1750.9,1153.6 L1752.9,1159.9 L1754.9,1165.7 L1756.9,1170.8 L1758.9,1175.3 L1760.9,1179.2 L1762.9,1182.5 L1764.9,1185.2 L1766.9,1187.5 L1768.9,1189.3 L1770.9,1190.8 L1772.9,1192.0 L1774.9,1193.0 L1776.9,1193.8 L1778.9,1194.5 L1780.9,1195.1 L1782.9,1195.5 L1784.9,1196.0 L1786.9,1196.3 L1788.9,1196.6 L1790.9,1196.9 L1792.9,1197.2 L1794.9,1197.4 L1796.9,1197.6 L1798.9,1197.8 L1800.9,1198.0 L1802.9,1198.1 L1804.9,1198.3 L1806.9,1198.4 L1808.9,1198.5 L1810.9,1198.6 L1812.9,1198.7 L1814.9,1198.8 L1816.9,1198.9 L1818.9,1199.0 L1820.9,1199.1 L1822.9,1199.2 L1824.9,1199.2 L1826.9,1199.3 L1828.9,1199.3 L1830.9,1199.4 L1832.9,1199.5 L1834.9,1199.5 L1836.9,1199.5 L1838.9,1199.6 L1840.9,1199.6 L1842.9,1199.7 L1844.9,1199.7 L1846.9,1199.7 L1848.9,1199.8 L1850.9,1199.8 L1852.9,1199.8 L1854.9,1199.9 L1856.9,1199.9 L1858.9,1199.9 L1860.9,1199.9 L1862.9,1200.0 L1864.9,1200.0 L1866.9,1200.0 L1868.9,1200.0 L1870.9,1200.1 L1872.9,1200.1 L1874.9,1200.1 L1874.9,1200.7 L1598.9,1200.7 Z" fill="url(#gR)" stroke="none"/>
<path d="M1702.9,1200.1 L1704.9,1200.1 L1706.9,1200.1 L1708.9,1200.1 L1710.9,1200.0 L1712.9,1200.0 L1714.9,1200.0 L1716.9,1200.0 L1718.9,1200.0 L1720.9,1199.9 L1722.9,1199.9 L1724.9,1199.9 L1726.9,1199.9 L1728.9,1199.9 L1730.9,1199.8 L1732.9,1199.8 L1734.9,1199.8 L1736.9,1199.8 L1738.9,1199.7 L1740.9,1199.7 L1742.9,1199.7 L1744.9,1199.6 L1746.9,1199.6 L1748.9,1199.6 L1750.9,1199.5 L1752.9,1199.5 L1754.9,1199.5 L1756.9,1199.4 L1758.9,1199.4 L1760.9,1199.3 L1762.9,1199.3 L1764.9,1199.2 L1766.9,1199.2 L1768.9,1199.1 L1770.9,1199.0 L1772.9,1199.0 L1774.9,1198.9 L1776.9,1198.8 L1778.9,1198.8 L1780.9,1198.7 L1782.9,1198.6 L1784.9,1198.5 L1786.9,1198.4 L1788.9,1198.3 L1790.9,1198.2 L1792.9,1198.0 L1794.9,1197.9 L1796.9,1197.8 L1798.9,1197.6 L1800.9,1197.4 L1802.9,1197.3 L1804.9,1197.1 L1806.9,1196.9 L1808.9,1196.6 L1810.9,1196.4 L1812.9,1196.1 L1814.9,1195.8 L1816.9,1195.4 L1818.9,1195.1 L1820.9,1194.6 L1822.9,1194.1 L1824.9,1193.6 L1826.9,1192.9 L1828.9,1192.2 L1830.9,1191.2 L1832.9,1190.2 L1834.9,1188.8 L1836.9,1187.3 L1838.9,1185.3 L1840.9,1183.0 L1842.9,1180.3 L1844.9,1177.0 L1846.9,1173.1 L1848.9,1168.7 L1850.9,1163.5 L1852.9,1157.7 L1854.9,1151.2 L1856.9,1144.2 L1858.9,1136.7 L1860.9,1128.9 L1862.9,1121.2 L1864.9,1114.0 L1866.9,1107.7 L1868.9,1102.9 L1870.9,1100.2 L1872.9,1099.9 L1874.9,1101.9 L1876.9,1106.1 L1878.9,1112.0 L1880.9,1119.0 L1882.9,1126.6 L1884.9,1134.4 L1886.9,1142.0 L1888.9,1149.2 L1890.9,1155.8 L1892.9,1161.8 L1894.9,1167.2 L1896.9,1171.9 L1898.9,1175.9 L1900.9,1179.4 L1902.9,1182.3 L1904.9,1184.7 L1906.9,1186.7 L1908.9,1188.4 L1910.9,1189.8 L1912.9,1190.9 L1914.9,1191.9 L1916.9,1192.7 L1918.9,1193.4 L1920.9,1194.0 L1922.9,1194.5 L1924.9,1194.9 L1926.9,1195.3 L1928.9,1195.7 L1930.9,1196.0 L1932.9,1196.3 L1934.9,1196.5 L1936.9,1196.8 L1938.9,1197.0 L1940.9,1197.2 L1942.9,1197.4 L1944.9,1197.6 L1946.9,1197.7 L1948.9,1197.9 L1950.9,1198.0 L1952.9,1198.1 L1954.9,1198.2 L1956.9,1198.4 L1958.9,1198.5 L1960.9,1198.6 L1962.9,1198.6 L1964.9,1198.7 L1966.9,1198.8 L1968.9,1198.9 L1970.9,1199.0 L1972.9,1199.0 L1974.9,1199.1 L1976.9,1199.1 L1978.9,1199.2 L1980.9,1199.3 L1982.9,1199.3 L1984.9,1199.4 L1986.9,1199.4 L1988.9,1199.4 L1990.9,1199.5 L1992.9,1199.5 L1994.9,1199.6 L1996.9,1199.6 L1998.9,1199.6 L2000.9,1199.7 L2002.9,1199.7 L2004.9,1199.7 L2006.9,1199.7 L2008.9,1199.8 L2010.9,1199.8 L2012.9,1199.8 L2014.9,1199.9 L2016.9,1199.9 L2018.9,1199.9 L2020.9,1199.9 L2022.9,1199.9 L2024.9,1200.0 L2026.9,1200.0 L2028.9,1200.0 L2030.9,1200.0 L2032.9,1200.0 L2034.9,1200.0 L2036.9,1200.1 L2038.9,1200.1 L2040.9,1200.1 L2040.9,1200.7 L1702.9,1200.7 Z" fill="url(#gR)" stroke="none"/>
<path d="M1732.9,1200.1 L1734.9,1200.1 L1736.9,1200.0 L1738.9,1200.0 L1740.9,1199.9 L1742.9,1199.9 L1744.9,1199.8 L1746.9,1199.8 L1748.9,1199.7 L1750.9,1199.6 L1752.9,1199.6 L1754.9,1199.5 L1756.9,1199.4 L1758.9,1199.2 L1760.9,1199.1 L1762.9,1198.9 L1764.9,1198.7 L1766.9,1198.5 L1768.9,1198.3 L1770.9,1198.1 L1772.9,1197.8 L1774.9,1197.5 L1776.9,1197.1 L1778.9,1196.7 L1780.9,1196.3 L1782.9,1195.9 L1784.9,1195.4 L1786.9,1194.9 L1788.9,1194.4 L1790.9,1193.8 L1792.9,1193.2 L1794.9,1192.5 L1796.9,1191.9 L1798.9,1191.2 L1800.9,1190.6 L1802.9,1189.9 L1804.9,1189.2 L1806.9,1188.6 L1808.9,1188.0 L1810.9,1187.4 L1812.9,1186.9 L1814.9,1186.5 L1816.9,1186.2 L1818.9,1185.9 L1820.9,1185.7 L1822.9,1185.7 L1824.9,1185.8 L1826.9,1185.9 L1828.9,1186.2 L1830.9,1186.6 L1832.9,1187.0 L1834.9,1187.5 L1836.9,1188.1 L1838.9,1188.7 L1840.9,1189.3 L1842.9,1190.0 L1844.9,1190.6 L1846.9,1191.3 L1848.9,1192.0 L1850.9,1192.6 L1852.9,1193.2 L1854.9,1193.8 L1856.9,1194.4 L1858.9,1195.0 L1860.9,1195.5 L1862.9,1195.9 L1864.9,1196.4 L1866.9,1196.8 L1868.9,1197.2 L1870.9,1197.5 L1872.9,1197.8 L1874.9,1198.1 L1876.9,1198.3 L1878.9,1198.6 L1880.9,1198.8 L1882.9,1198.9 L1884.9,1199.1 L1886.9,1199.2 L1888.9,1199.4 L1890.9,1199.5 L1892.9,1199.6 L1894.9,1199.7 L1896.9,1199.7 L1898.9,1199.8 L1900.9,1199.8 L1902.9,1199.9 L1904.9,1199.9 L1906.9,1200.0 L1908.9,1200.0 L1910.9,1200.1 L1912.9,1200.1 L1912.9,1200.7 L1732.9,1200.7 Z" fill="url(#gB)" stroke="none"/>
<path d="M1882.9,1200.1 L1884.9,1200.1 L1886.9,1200.0 L1888.9,1200.0 L1890.9,1199.9 L1892.9,1199.9 L1894.9,1199.8 L1896.9,1199.7 L1898.9,1199.7 L1900.9,1199.6 L1902.9,1199.5 L1904.9,1199.4 L1906.9,1199.2 L1908.9,1199.0 L1910.9,1198.8 L1912.9,1198.5 L1914.9,1198.1 L1916.9,1197.6 L1918.9,1196.9 L1920.9,1196.1 L1922.9,1195.1 L1924.9,1193.8 L1926.9,1192.3 L1928.9,1190.5 L1930.9,1188.4 L1932.9,1186.1 L1934.9,1183.5 L1936.9,1180.9 L1938.9,1178.2 L1940.9,1175.7 L1942.9,1173.5 L1944.9,1171.8 L1946.9,1170.9 L1948.9,1170.8 L1950.9,1171.5 L1952.9,1173.0 L1954.9,1175.0 L1956.9,1177.5 L1958.9,1180.1 L1960.9,1182.8 L1962.9,1185.3 L1964.9,1187.7 L1966.9,1189.9 L1968.9,1191.8 L1970.9,1193.4 L1972.9,1194.7 L1974.9,1195.8 L1976.9,1196.7 L1978.9,1197.4 L1980.9,1197.9 L1982.9,1198.4 L1984.9,1198.7 L1986.9,1199.0 L1988.9,1199.2 L1990.9,1199.3 L1992.9,1199.4 L1994.9,1199.6 L1996.9,1199.6 L1998.9,1199.7 L2000.9,1199.8 L2002.9,1199.9 L2004.9,1199.9 L2006.9,1200.0 L2008.9,1200.0 L2010.9,1200.1 L2012.9,1200.1 L2012.9,1200.7 L1882.9,1200.7 Z" fill="url(#gB)" stroke="none"/>
<path d="M1474.9,1194.4 L1476.9,1194.4 L1478.9,1194.4 L1480.9,1194.4 L1482.9,1194.3 L1484.9,1194.3 L1486.9,1194.3 L1488.9,1194.3 L1490.9,1194.3 L1492.9,1194.3 L1494.9,1194.3 L1496.9,1194.3 L1498.9,1194.3 L1500.9,1194.3 L1502.9,1194.3 L1504.9,1194.3 L1506.9,1194.3 L1508.9,1194.3 L1510.9,1194.3 L1512.9,1194.3 L1514.9,1194.3 L1516.9,1194.3 L1518.9,1194.3 L1520.9,1194.2 L1522.9,1194.2 L1524.9,1194.2 L1526.9,1194.2 L1528.9,1194.2 L1530.9,1194.2 L1532.9,1194.2 L1534.9,1194.2 L1536.9,1194.2 L1538.9,1194.2 L1540.9,1194.2 L1542.9,1194.2 L1544.9,1194.2 L1546.9,1194.1 L1548.9,1194.1 L1550.9,1194.1 L1552.9,1194.1 L1554.9,1194.1 L1556.9,1194.1 L1558.9,1194.1 L1560.9,1194.1 L1562.9,1194.1 L1564.9,1194.0 L1566.9,1194.0 L1568.9,1194.0 L1570.9,1194.0 L1572.9,1194.0 L1574.9,1194.0 L1576.9,1194.0 L1578.9,1193.9 L1580.9,1193.9 L1582.9,1193.9 L1584.9,1193.9 L1586.9,1193.9 L1588.9,1193.8 L1590.9,1193.8 L1592.9,1193.8 L1594.9,1193.8 L1596.9,1193.7 L1598.9,1193.7 L1600.9,1193.7 L1602.9,1193.6 L1604.9,1193.6 L1606.9,1193.6 L1608.9,1193.5 L1610.9,1193.5 L1612.9,1193.4 L1614.9,1193.4 L1616.9,1193.3 L1618.9,1193.2 L1620.9,1193.2 L1622.9,1193.1 L1624.9,1193.0 L1626.9,1193.0 L1628.9,1192.9 L1630.9,1192.8 L1632.9,1192.7 L1634.9,1192.6 L1636.9,1192.5 L1638.9,1192.4 L1640.9,1192.3 L1642.9,1192.2 L1644.9,1192.0 L1646.9,1191.9 L1648.9,1191.8 L1650.9,1191.6 L1652.9,1191.5 L1654.9,1191.3 L1656.9,1191.2 L1658.9,1191.0 L1660.9,1190.8 L1662.9,1190.7 L1664.9,1190.5 L1666.9,1190.3 L1668.9,1190.1 L1670.9,1189.9 L1672.9,1189.7 L1674.9,1189.5 L1676.9,1189.2 L1678.9,1189.0 L1680.9,1188.7 L1682.9,1188.5 L1684.9,1188.2 L1686.9,1187.8 L1688.9,1187.5 L1690.9,1187.1 L1692.9,1186.6 L1694.9,1186.1 L1696.9,1185.5 L1698.9,1184.8 L1700.9,1183.9 L1702.9,1182.9 L1704.9,1181.6 L1706.9,1180.0 L1708.9,1178.0 L1710.9,1175.6 L1712.9,1172.7 L1714.9,1169.3 L1716.9,1165.2 L1718.9,1160.5 L1720.9,1155.1 L1722.9,1149.2 L1724.9,1142.8 L1726.9,1136.1 L1728.9,1129.3 L1730.9,1123.0 L1732.9,1117.7 L1734.9,1113.8 L1736.9,1112.0 L1738.9,1112.6 L1740.9,1115.3 L1742.9,1119.9 L1744.9,1125.8 L1746.9,1132.4 L1748.9,1139.2 L1750.9,1145.8 L1752.9,1152.0 L1754.9,1157.6 L1756.9,1162.6 L1758.9,1166.9 L1760.9,1170.5 L1762.9,1173.5 L1764.9,1175.9 L1766.9,1177.8 L1768.9,1179.2 L1770.9,1180.3 L1772.9,1181.0 L1774.9,1181.5 L1776.9,1181.7 L1778.9,1181.8 L1780.9,1181.7 L1782.9,1181.5 L1784.9,1181.1 L1786.9,1180.7 L1788.9,1180.2 L1790.9,1179.6 L1792.9,1179.0 L1794.9,1178.3 L1796.9,1177.6 L1798.9,1176.8 L1800.9,1176.1 L1802.9,1175.3 L1804.9,1174.5 L1806.9,1173.7 L1808.9,1172.9 L1810.9,1172.2 L1812.9,1171.5 L1814.9,1170.9 L1816.9,1170.3 L1818.9,1169.8 L1820.9,1169.4 L1822.9,1169.0 L1824.9,1168.7 L1826.9,1168.4 L1828.9,1168.1 L1830.9,1167.7 L1832.9,1167.3 L1834.9,1166.7 L1836.9,1165.9 L1838.9,1164.9 L1840.9,1163.5 L1842.9,1161.6 L1844.9,1159.2 L1846.9,1156.3 L1848.9,1152.7 L1850.9,1148.5 L1852.9,1143.6 L1854.9,1138.0 L1856.9,1131.7 L1858.9,1125.1 L1860.9,1118.1 L1862.9,1111.1 L1864.9,1104.6 L1866.9,1098.9 L1868.9,1094.8 L1870.9,1092.7 L1872.9,1092.8 L1874.9,1095.4 L1876.9,1100.0 L1878.9,1106.3 L1880.9,1113.7 L1882.9,1121.7 L1884.9,1129.7 L1886.9,1137.6 L1888.9,1145.0 L1890.9,1151.8 L1892.9,1158.0 L1894.9,1163.5 L1896.9,1168.2 L1898.9,1172.3 L1900.9,1175.8 L1902.9,1178.7 L1904.9,1181.1 L1906.9,1183.1 L1908.9,1184.7 L1910.9,1185.9 L1912.9,1186.8 L1914.9,1187.4 L1916.9,1187.8 L1918.9,1187.9 L1920.9,1187.7 L1922.9,1187.2 L1924.9,1186.4 L1926.9,1185.3 L1928.9,1183.9 L1930.9,1182.2 L1932.9,1180.2 L1934.9,1178.0 L1936.9,1175.6 L1938.9,1173.2 L1940.9,1170.8 L1942.9,1168.8 L1944.9,1167.3 L1946.9,1166.4 L1948.9,1166.3 L1950.9,1167.0 L1952.9,1168.3 L1954.9,1170.3 L1956.9,1172.5 L1958.9,1174.8 L1960.9,1177.2 L1962.9,1179.4 L1964.9,1181.4 L1966.9,1183.2 L1968.9,1184.9 L1970.9,1186.3 L1972.9,1187.5 L1974.9,1188.6 L1976.9,1189.7 L1978.9,1190.6 L1980.9,1191.5 L1982.9,1192.3 L1984.9,1193.2 L1986.9,1193.9 L1988.9,1194.7 L1990.9,1195.4 L1992.9,1196.0 L1994.9,1196.5 L1996.9,1197.0 L1998.9,1197.4 L2000.9,1197.7 L2002.9,1198.0 L2004.9,1198.2 L2006.9,1198.4 L2008.9,1198.6 L2010.9,1198.7 L2012.9,1198.8 L2014.9,1198.9 L2016.9,1199.0 L2018.9,1199.0 L2020.9,1199.1 L2022.9,1199.1 L2024.9,1199.2 L2026.9,1199.2 L2028.9,1199.3 L2030.9,1199.3 L2032.9,1199.4 L2034.9,1199.4 L2036.9,1199.4 L2038.9,1199.5 L2040.9,1199.5 L2042.9,1199.5 L2044.9,1199.6 L2046.9,1199.6 L2048.9,1199.6 L2050.9,1199.7 L2052.9,1199.7 L2054.9,1199.7 L2056.9,1199.7 L2058.9,1199.8 L2060.9,1199.8 L2062.9,1199.8 L2064.9,1199.8 L2066.9,1199.8 L2068.9,1199.9 L2070.9,1199.9 L2072.9,1199.9 L2074.9,1199.9 L2076.9,1199.9 L2078.9,1199.9 L2080.9,1200.0 L2082.9,1200.0 L2084.9,1200.0 L2086.9,1200.0 L2088.9,1200.0 L2090.9,1200.0 L2092.9,1200.0 L2094.9,1200.1 L2096.9,1200.1 L2098.9,1200.1 L2100.9,1200.1 L2102.9,1200.1 L2104.9,1200.1" fill="none" stroke="#6e1470" stroke-width="4" stroke-dasharray="5,7" stroke-linecap="round"/>
<path d="M1474.9,1200.4 L1476.9,1200.4 L1478.9,1200.4 L1480.9,1200.4 L1482.9,1200.3 L1484.9,1200.3 L1486.9,1200.3 L1488.9,1200.3 L1490.9,1200.3 L1492.9,1200.3 L1494.9,1200.3 L1496.9,1200.3 L1498.9,1200.3 L1500.9,1200.3 L1502.9,1200.3 L1504.9,1200.3 L1506.9,1200.3 L1508.9,1200.3 L1510.9,1200.3 L1512.9,1200.3 L1514.9,1200.3 L1516.9,1200.3 L1518.9,1200.2 L1520.9,1200.2 L1522.9,1200.2 L1524.9,1200.2 L1526.9,1200.2 L1528.9,1200.2 L1530.9,1200.2 L1532.9,1200.2 L1534.9,1200.2 L1536.9,1200.2 L1538.9,1200.2 L1540.9,1200.2 L1542.9,1200.1 L1544.9,1200.1 L1546.9,1200.1 L1548.9,1200.1 L1550.9,1200.1 L1552.9,1200.1 L1554.9,1200.1 L1556.9,1200.1 L1558.9,1200.1 L1560.9,1200.1 L1562.9,1200.0 L1564.9,1200.0 L1566.9,1200.0 L1568.9,1200.0 L1570.9,1200.0 L1572.9,1200.0 L1574.9,1200.0 L1576.9,1199.9 L1578.9,1199.9 L1580.9,1199.9 L1582.9,1199.9 L1584.9,1199.9 L1586.9,1199.9 L1588.9,1199.8 L1590.9,1199.8 L1592.9,1199.8 L1594.9,1199.8 L1596.9,1199.8 L1598.9,1199.7 L1600.9,1199.7 L1602.9,1199.7 L1604.9,1199.7 L1606.9,1199.6 L1608.9,1199.6 L1610.9,1199.6 L1612.9,1199.6 L1614.9,1199.5 L1616.9,1199.5 L1618.9,1199.5 L1620.9,1199.4 L1622.9,1199.4 L1624.9,1199.4 L1626.9,1199.3 L1628.9,1199.3 L1630.9,1199.2 L1632.9,1199.2 L1634.9,1199.1 L1636.9,1199.1 L1638.9,1199.0 L1640.9,1199.0 L1642.9,1198.9 L1644.9,1198.8 L1646.9,1198.8 L1648.9,1198.7 L1650.9,1198.6 L1652.9,1198.5 L1654.9,1198.5 L1656.9,1198.4 L1658.9,1198.3 L1660.9,1198.2 L1662.9,1198.1 L1664.9,1197.9 L1666.9,1197.8 L1668.9,1197.7 L1670.9,1197.5 L1672.9,1197.3 L1674.9,1197.2 L1676.9,1197.0 L1678.9,1196.8 L1680.9,1196.5 L1682.9,1196.3 L1684.9,1196.0 L1686.9,1195.7 L1688.9,1195.3 L1690.9,1194.9 L1692.9,1194.5 L1694.9,1193.9 L1696.9,1193.3 L1698.9,1192.6 L1700.9,1191.6 L1702.9,1190.5 L1704.9,1189.2 L1706.9,1187.5 L1708.9,1185.5 L1710.9,1183.0 L1712.9,1180.1 L1714.9,1176.5 L1716.9,1172.3 L1718.9,1167.5 L1720.9,1162.1 L1722.9,1156.0 L1724.9,1149.5 L1726.9,1142.6 L1728.9,1135.8 L1730.9,1129.3 L1732.9,1123.8 L1734.9,1119.8 L1736.9,1117.9 L1738.9,1118.2 L1740.9,1120.8 L1742.9,1125.3 L1744.9,1131.0 L1746.9,1137.5 L1748.9,1144.1 L1750.9,1150.6 L1752.9,1156.7 L1754.9,1162.3 L1756.9,1167.2 L1758.9,1171.4 L1760.9,1175.0 L1762.9,1177.9 L1764.9,1180.2 L1766.9,1182.1 L1768.9,1183.5 L1770.9,1184.5 L1772.9,1185.2 L1774.9,1185.6 L1776.9,1185.8 L1778.9,1185.9 L1780.9,1185.8 L1782.9,1185.5 L1784.9,1185.2 L1786.9,1184.7 L1788.9,1184.2 L1790.9,1183.6 L1792.9,1182.9 L1794.9,1182.2 L1796.9,1181.5 L1798.9,1180.7 L1800.9,1179.9 L1802.9,1179.1 L1804.9,1178.3 L1806.9,1177.5 L1808.9,1176.7 L1810.9,1175.9 L1812.9,1175.2 L1814.9,1174.6 L1816.9,1174.0 L1818.9,1173.4 L1820.9,1173.0 L1822.9,1172.6 L1824.9,1172.2 L1826.9,1171.9 L1828.9,1171.6 L1830.9,1171.2 L1832.9,1170.7 L1834.9,1170.1 L1836.9,1169.3 L1838.9,1168.2 L1840.9,1166.8 L1842.9,1164.9 L1844.9,1162.5 L1846.9,1159.5 L1848.9,1155.9 L1850.9,1151.6 L1852.9,1146.6 L1854.9,1140.9 L1856.9,1134.7 L1858.9,1127.9 L1860.9,1120.8 L1862.9,1113.8 L1864.9,1107.1 L1866.9,1101.4 L1868.9,1097.1 L1870.9,1094.9 L1872.9,1094.9 L1874.9,1097.3 L1876.9,1101.9 L1878.9,1108.1 L1880.9,1115.3 L1882.9,1123.2 L1884.9,1131.2 L1886.9,1138.9 L1888.9,1146.3 L1890.9,1153.0 L1892.9,1159.1 L1894.9,1164.6 L1896.9,1169.3 L1898.9,1173.4 L1900.9,1176.8 L1902.9,1179.7 L1904.9,1182.1 L1906.9,1184.0 L1908.9,1185.6 L1910.9,1186.8 L1912.9,1187.7 L1914.9,1188.3 L1916.9,1188.6 L1918.9,1188.7 L1920.9,1188.5 L1922.9,1188.0 L1924.9,1187.2 L1926.9,1186.1 L1928.9,1184.7 L1930.9,1182.9 L1932.9,1180.9 L1934.9,1178.7 L1936.9,1176.3 L1938.9,1173.9 L1940.9,1171.6 L1942.9,1169.6 L1944.9,1168.1 L1946.9,1167.3 L1948.9,1167.3 L1950.9,1168.2 L1952.9,1169.8 L1954.9,1172.0 L1956.9,1174.6 L1958.9,1177.3 L1960.9,1180.1 L1962.9,1182.8 L1964.9,1185.3 L1966.9,1187.5 L1968.9,1189.5 L1970.9,1191.2 L1972.9,1192.6 L1974.9,1193.8 L1976.9,1194.7 L1978.9,1195.5 L1980.9,1196.1 L1982.9,1196.6 L1984.9,1197.0 L1986.9,1197.3 L1988.9,1197.5 L1990.9,1197.7 L1992.9,1197.9 L1994.9,1198.1 L1996.9,1198.2 L1998.9,1198.3 L2000.9,1198.4 L2002.9,1198.5 L2004.9,1198.6 L2006.9,1198.7 L2008.9,1198.8 L2010.9,1198.8 L2012.9,1198.9 L2014.9,1199.0 L2016.9,1199.0 L2018.9,1199.1 L2020.9,1199.1 L2022.9,1199.2 L2024.9,1199.2 L2026.9,1199.3 L2028.9,1199.3 L2030.9,1199.4 L2032.9,1199.4 L2034.9,1199.4 L2036.9,1199.5 L2038.9,1199.5 L2040.9,1199.5 L2042.9,1199.6 L2044.9,1199.6 L2046.9,1199.6 L2048.9,1199.7 L2050.9,1199.7 L2052.9,1199.7 L2054.9,1199.7 L2056.9,1199.8 L2058.9,1199.8 L2060.9,1199.8 L2062.9,1199.8 L2064.9,1199.8 L2066.9,1199.9 L2068.9,1199.9 L2070.9,1199.9 L2072.9,1199.9 L2074.9,1199.9 L2076.9,1199.9 L2078.9,1200.0 L2080.9,1200.0 L2082.9,1200.0 L2084.9,1200.0 L2086.9,1200.0 L2088.9,1200.0 L2090.9,1200.0 L2092.9,1200.0 L2094.9,1200.1 L2096.9,1200.1 L2098.9,1200.1 L2100.9,1200.1 L2102.9,1200.1 L2104.9,1200.1" fill="none" stroke="#000" stroke-width="3.4" stroke-linejoin="round"/>
<path d="M1598.9,1200.1 L1600.9,1200.1 L1602.9,1200.1 L1604.9,1200.0 L1606.9,1200.0 L1608.9,1200.0 L1610.9,1200.0 L1612.9,1200.0 L1614.9,1199.9 L1616.9,1199.9 L1618.9,1199.9 L1620.9,1199.9 L1622.9,1199.8 L1624.9,1199.8 L1626.9,1199.8 L1628.9,1199.7 L1630.9,1199.7 L1632.9,1199.7 L1634.9,1199.6 L1636.9,1199.6 L1638.9,1199.5 L1640.9,1199.5 L1642.9,1199.4 L1644.9,1199.4 L1646.9,1199.3 L1648.9,1199.3 L1650.9,1199.2 L1652.9,1199.1 L1654.9,1199.0 L1656.9,1199.0 L1658.9,1198.9 L1660.9,1198.8 L1662.9,1198.7 L1664.9,1198.6 L1666.9,1198.5 L1668.9,1198.3 L1670.9,1198.2 L1672.9,1198.1 L1674.9,1197.9 L1676.9,1197.7 L1678.9,1197.5 L1680.9,1197.3 L1682.9,1197.1 L1684.9,1196.8 L1686.9,1196.5 L1688.9,1196.2 L1690.9,1195.8 L1692.9,1195.4 L1694.9,1194.8 L1696.9,1194.2 L1698.9,1193.5 L1700.9,1192.6 L1702.9,1191.6 L1704.9,1190.2 L1706.9,1188.6 L1708.9,1186.6 L1710.9,1184.2 L1712.9,1181.2 L1714.9,1177.7 L1716.9,1173.6 L1718.9,1168.8 L1720.9,1163.4 L1722.9,1157.4 L1724.9,1150.9 L1726.9,1144.2 L1728.9,1137.4 L1730.9,1131.0 L1732.9,1125.6 L1734.9,1121.7 L1736.9,1119.8 L1738.9,1120.3 L1740.9,1123.0 L1742.9,1127.6 L1744.9,1133.5 L1746.9,1140.1 L1748.9,1146.9 L1750.9,1153.6 L1752.9,1159.9 L1754.9,1165.7 L1756.9,1170.8 L1758.9,1175.3 L1760.9,1179.2 L1762.9,1182.5 L1764.9,1185.2 L1766.9,1187.5 L1768.9,1189.3 L1770.9,1190.8 L1772.9,1192.0 L1774.9,1193.0 L1776.9,1193.8 L1778.9,1194.5 L1780.9,1195.1 L1782.9,1195.5 L1784.9,1196.0 L1786.9,1196.3 L1788.9,1196.6 L1790.9,1196.9 L1792.9,1197.2 L1794.9,1197.4 L1796.9,1197.6 L1798.9,1197.8 L1800.9,1198.0 L1802.9,1198.1 L1804.9,1198.3 L1806.9,1198.4 L1808.9,1198.5 L1810.9,1198.6 L1812.9,1198.7 L1814.9,1198.8 L1816.9,1198.9 L1818.9,1199.0 L1820.9,1199.1 L1822.9,1199.2 L1824.9,1199.2 L1826.9,1199.3 L1828.9,1199.3 L1830.9,1199.4 L1832.9,1199.5 L1834.9,1199.5 L1836.9,1199.5 L1838.9,1199.6 L1840.9,1199.6 L1842.9,1199.7 L1844.9,1199.7 L1846.9,1199.7 L1848.9,1199.8 L1850.9,1199.8 L1852.9,1199.8 L1854.9,1199.9 L1856.9,1199.9 L1858.9,1199.9 L1860.9,1199.9 L1862.9,1200.0 L1864.9,1200.0 L1866.9,1200.0 L1868.9,1200.0 L1870.9,1200.1 L1872.9,1200.1 L1874.9,1200.1" fill="none" stroke="#ff0000" stroke-width="4.3" stroke-linejoin="round"/>
<path d="M1702.9,1200.1 L1704.9,1200.1 L1706.9,1200.1 L1708.9,1200.1 L1710.9,1200.0 L1712.9,1200.0 L1714.9,1200.0 L1716.9,1200.0 L1718.9,1200.0 L1720.9,1199.9 L1722.9,1199.9 L1724.9,1199.9 L1726.9,1199.9 L1728.9,1199.9 L1730.9,1199.8 L1732.9,1199.8 L1734.9,1199.8 L1736.9,1199.8 L1738.9,1199.7 L1740.9,1199.7 L1742.9,1199.7 L1744.9,1199.6 L1746.9,1199.6 L1748.9,1199.6 L1750.9,1199.5 L1752.9,1199.5 L1754.9,1199.5 L1756.9,1199.4 L1758.9,1199.4 L1760.9,1199.3 L1762.9,1199.3 L1764.9,1199.2 L1766.9,1199.2 L1768.9,1199.1 L1770.9,1199.0 L1772.9,1199.0 L1774.9,1198.9 L1776.9,1198.8 L1778.9,1198.8 L1780.9,1198.7 L1782.9,1198.6 L1784.9,1198.5 L1786.9,1198.4 L1788.9,1198.3 L1790.9,1198.2 L1792.9,1198.0 L1794.9,1197.9 L1796.9,1197.8 L1798.9,1197.6 L1800.9,1197.4 L1802.9,1197.3 L1804.9,1197.1 L1806.9,1196.9 L1808.9,1196.6 L1810.9,1196.4 L1812.9,1196.1 L1814.9,1195.8 L1816.9,1195.4 L1818.9,1195.1 L1820.9,1194.6 L1822.9,1194.1 L1824.9,1193.6 L1826.9,1192.9 L1828.9,1192.2 L1830.9,1191.2 L1832.9,1190.2 L1834.9,1188.8 L1836.9,1187.3 L1838.9,1185.3 L1840.9,1183.0 L1842.9,1180.3 L1844.9,1177.0 L1846.9,1173.1 L1848.9,1168.7 L1850.9,1163.5 L1852.9,1157.7 L1854.9,1151.2 L1856.9,1144.2 L1858.9,1136.7 L1860.9,1128.9 L1862.9,1121.2 L1864.9,1114.0 L1866.9,1107.7 L1868.9,1102.9 L1870.9,1100.2 L1872.9,1099.9 L1874.9,1101.9 L1876.9,1106.1 L1878.9,1112.0 L1880.9,1119.0 L1882.9,1126.6 L1884.9,1134.4 L1886.9,1142.0 L1888.9,1149.2 L1890.9,1155.8 L1892.9,1161.8 L1894.9,1167.2 L1896.9,1171.9 L1898.9,1175.9 L1900.9,1179.4 L1902.9,1182.3 L1904.9,1184.7 L1906.9,1186.7 L1908.9,1188.4 L1910.9,1189.8 L1912.9,1190.9 L1914.9,1191.9 L1916.9,1192.7 L1918.9,1193.4 L1920.9,1194.0 L1922.9,1194.5 L1924.9,1194.9 L1926.9,1195.3 L1928.9,1195.7 L1930.9,1196.0 L1932.9,1196.3 L1934.9,1196.5 L1936.9,1196.8 L1938.9,1197.0 L1940.9,1197.2 L1942.9,1197.4 L1944.9,1197.6 L1946.9,1197.7 L1948.9,1197.9 L1950.9,1198.0 L1952.9,1198.1 L1954.9,1198.2 L1956.9,1198.4 L1958.9,1198.5 L1960.9,1198.6 L1962.9,1198.6 L1964.9,1198.7 L1966.9,1198.8 L1968.9,1198.9 L1970.9,1199.0 L1972.9,1199.0 L1974.9,1199.1 L1976.9,1199.1 L1978.9,1199.2 L1980.9,1199.3 L1982.9,1199.3 L1984.9,1199.4 L1986.9,1199.4 L1988.9,1199.4 L1990.9,1199.5 L1992.9,1199.5 L1994.9,1199.6 L1996.9,1199.6 L1998.9,1199.6 L2000.9,1199.7 L2002.9,1199.7 L2004.9,1199.7 L2006.9,1199.7 L2008.9,1199.8 L2010.9,1199.8 L2012.9,1199.8 L2014.9,1199.9 L2016.9,1199.9 L2018.9,1199.9 L2020.9,1199.9 L2022.9,1199.9 L2024.9,1200.0 L2026.9,1200.0 L2028.9,1200.0 L2030.9,1200.0 L2032.9,1200.0 L2034.9,1200.0 L2036.9,1200.1 L2038.9,1200.1 L2040.9,1200.1" fill="none" stroke="#ff0000" stroke-width="4.3" stroke-linejoin="round"/>
<path d="M1732.9,1200.1 L1734.9,1200.1 L1736.9,1200.0 L1738.9,1200.0 L1740.9,1199.9 L1742.9,1199.9 L1744.9,1199.8 L1746.9,1199.8 L1748.9,1199.7 L1750.9,1199.6 L1752.9,1199.6 L1754.9,1199.5 L1756.9,1199.4 L1758.9,1199.2 L1760.9,1199.1 L1762.9,1198.9 L1764.9,1198.7 L1766.9,1198.5 L1768.9,1198.3 L1770.9,1198.1 L1772.9,1197.8 L1774.9,1197.5 L1776.9,1197.1 L1778.9,1196.7 L1780.9,1196.3 L1782.9,1195.9 L1784.9,1195.4 L1786.9,1194.9 L1788.9,1194.4 L1790.9,1193.8 L1792.9,1193.2 L1794.9,1192.5 L1796.9,1191.9 L1798.9,1191.2 L1800.9,1190.6 L1802.9,1189.9 L1804.9,1189.2 L1806.9,1188.6 L1808.9,1188.0 L1810.9,1187.4 L1812.9,1186.9 L1814.9,1186.5 L1816.9,1186.2 L1818.9,1185.9 L1820.9,1185.7 L1822.9,1185.7 L1824.9,1185.8 L1826.9,1185.9 L1828.9,1186.2 L1830.9,1186.6 L1832.9,1187.0 L1834.9,1187.5 L1836.9,1188.1 L1838.9,1188.7 L1840.9,1189.3 L1842.9,1190.0 L1844.9,1190.6 L1846.9,1191.3 L1848.9,1192.0 L1850.9,1192.6 L1852.9,1193.2 L1854.9,1193.8 L1856.9,1194.4 L1858.9,1195.0 L1860.9,1195.5 L1862.9,1195.9 L1864.9,1196.4 L1866.9,1196.8 L1868.9,1197.2 L1870.9,1197.5 L1872.9,1197.8 L1874.9,1198.1 L1876.9,1198.3 L1878.9,1198.6 L1880.9,1198.8 L1882.9,1198.9 L1884.9,1199.1 L1886.9,1199.2 L1888.9,1199.4 L1890.9,1199.5 L1892.9,1199.6 L1894.9,1199.7 L1896.9,1199.7 L1898.9,1199.8 L1900.9,1199.8 L1902.9,1199.9 L1904.9,1199.9 L1906.9,1200.0 L1908.9,1200.0 L1910.9,1200.1 L1912.9,1200.1" fill="none" stroke="#0000ff" stroke-width="4.3" stroke-linejoin="round"/>
<path d="M1882.9,1200.1 L1884.9,1200.1 L1886.9,1200.0 L1888.9,1200.0 L1890.9,1199.9 L1892.9,1199.9 L1894.9,1199.8 L1896.9,1199.7 L1898.9,1199.7 L1900.9,1199.6 L1902.9,1199.5 L1904.9,1199.4 L1906.9,1199.2 L1908.9,1199.0 L1910.9,1198.8 L1912.9,1198.5 L1914.9,1198.1 L1916.9,1197.6 L1918.9,1196.9 L1920.9,1196.1 L1922.9,1195.1 L1924.9,1193.8 L1926.9,1192.3 L1928.9,1190.5 L1930.9,1188.4 L1932.9,1186.1 L1934.9,1183.5 L1936.9,1180.9 L1938.9,1178.2 L1940.9,1175.7 L1942.9,1173.5 L1944.9,1171.8 L1946.9,1170.9 L1948.9,1170.8 L1950.9,1171.5 L1952.9,1173.0 L1954.9,1175.0 L1956.9,1177.5 L1958.9,1180.1 L1960.9,1182.8 L1962.9,1185.3 L1964.9,1187.7 L1966.9,1189.9 L1968.9,1191.8 L1970.9,1193.4 L1972.9,1194.7 L1974.9,1195.8 L1976.9,1196.7 L1978.9,1197.4 L1980.9,1197.9 L1982.9,1198.4 L1984.9,1198.7 L1986.9,1199.0 L1988.9,1199.2 L1990.9,1199.3 L1992.9,1199.4 L1994.9,1199.6 L1996.9,1199.6 L1998.9,1199.7 L2000.9,1199.8 L2002.9,1199.9 L2004.9,1199.9 L2006.9,1200.0 L2008.9,1200.0 L2010.9,1200.1 L2012.9,1200.1" fill="none" stroke="#0000ff" stroke-width="4.3" stroke-linejoin="round"/>
<line x1="1474.9" y1="1200.7" x2="2105.2" y2="1200.7" stroke="#ff0000" stroke-width="6.5"/>
<path d="M1668.9,1308.2 L1670.9,1308.2 L1672.9,1308.2 L1674.9,1308.2 L1676.9,1308.1 L1678.9,1308.1 L1680.9,1308.1 L1682.9,1308.1 L1684.9,1308.1 L1686.9,1308.0 L1688.9,1308.0 L1690.9,1308.0 L1692.9,1308.0 L1694.9,1307.9 L1696.9,1307.9 L1698.9,1307.9 L1700.9,1307.8 L1702.9,1307.8 L1704.9,1307.8 L1706.9,1307.7 L1708.9,1307.7 L1710.9,1307.6 L1712.9,1307.6 L1714.9,1307.5 L1716.9,1307.5 L1718.9,1307.4 L1720.9,1307.3 L1722.9,1307.2 L1724.9,1307.2 L1726.9,1307.1 L1728.9,1306.9 L1730.9,1306.8 L1732.9,1306.7 L1734.9,1306.5 L1736.9,1306.3 L1738.9,1306.1 L1740.9,1305.8 L1742.9,1305.5 L1744.9,1305.1 L1746.9,1304.7 L1748.9,1304.1 L1750.9,1303.5 L1752.9,1302.8 L1754.9,1302.0 L1756.9,1301.1 L1758.9,1300.0 L1760.9,1298.8 L1762.9,1297.4 L1764.9,1295.9 L1766.9,1294.2 L1768.9,1292.3 L1770.9,1290.2 L1772.9,1288.0 L1774.9,1285.7 L1776.9,1283.2 L1778.9,1280.6 L1780.9,1278.0 L1782.9,1275.3 L1784.9,1272.6 L1786.9,1270.0 L1788.9,1267.5 L1790.9,1265.3 L1792.9,1263.2 L1794.9,1261.5 L1796.9,1260.2 L1798.9,1259.4 L1800.9,1259.0 L1802.9,1259.2 L1804.9,1259.8 L1806.9,1261.0 L1808.9,1262.5 L1810.9,1264.4 L1812.9,1266.6 L1814.9,1269.1 L1816.9,1271.6 L1818.9,1274.3 L1820.9,1277.0 L1822.9,1279.7 L1824.9,1282.3 L1826.9,1284.8 L1828.9,1287.2 L1830.9,1289.5 L1832.9,1291.6 L1834.9,1293.5 L1836.9,1295.3 L1838.9,1296.9 L1840.9,1298.4 L1842.9,1299.7 L1844.9,1300.8 L1846.9,1301.8 L1848.9,1302.7 L1850.9,1303.4 L1852.9,1304.1 L1854.9,1304.6 L1856.9,1305.1 L1858.9,1305.5 L1860.9,1305.9 L1862.9,1306.2 L1864.9,1306.4 L1866.9,1306.6 L1868.9,1306.8 L1870.9,1307.0 L1872.9,1307.1 L1874.9,1307.2 L1876.9,1307.4 L1878.9,1307.5 L1880.9,1307.5 L1882.9,1307.6 L1884.9,1307.7 L1886.9,1307.8 L1888.9,1307.8 L1890.9,1307.9 L1892.9,1307.9 L1894.9,1308.0 L1896.9,1308.0 L1898.9,1308.1 L1900.9,1308.1 L1902.9,1308.2 L1904.9,1308.2 L1906.9,1308.3 L1908.9,1308.3 L1910.9,1308.3 L1912.9,1308.4 L1914.9,1308.4 L1916.9,1308.4 L1918.9,1308.4 L1920.9,1308.5 L1922.9,1308.5 L1924.9,1308.5 L1926.9,1308.6 L1928.9,1308.6 L1930.9,1308.6 L1932.9,1308.6 L1932.9,1309.2 L1668.9,1308.8 Z" fill="url(#gB)" stroke="none"/>
<path d="M1806.9,1308.4 L1808.9,1308.4 L1810.9,1308.4 L1812.9,1308.4 L1814.9,1308.4 L1816.9,1308.3 L1818.9,1308.3 L1820.9,1308.3 L1822.9,1308.3 L1824.9,1308.2 L1826.9,1308.2 L1828.9,1308.2 L1830.9,1308.2 L1832.9,1308.1 L1834.9,1308.1 L1836.9,1308.1 L1838.9,1308.0 L1840.9,1308.0 L1842.9,1307.9 L1844.9,1307.9 L1846.9,1307.8 L1848.9,1307.8 L1850.9,1307.7 L1852.9,1307.7 L1854.9,1307.6 L1856.9,1307.5 L1858.9,1307.5 L1860.9,1307.4 L1862.9,1307.3 L1864.9,1307.2 L1866.9,1307.1 L1868.9,1307.0 L1870.9,1306.8 L1872.9,1306.7 L1874.9,1306.5 L1876.9,1306.3 L1878.9,1306.0 L1880.9,1305.7 L1882.9,1305.3 L1884.9,1304.9 L1886.9,1304.4 L1888.9,1303.7 L1890.9,1302.9 L1892.9,1301.9 L1894.9,1300.8 L1896.9,1299.3 L1898.9,1297.6 L1900.9,1295.6 L1902.9,1293.3 L1904.9,1290.6 L1906.9,1287.5 L1908.9,1284.1 L1910.9,1280.2 L1912.9,1276.1 L1914.9,1271.7 L1916.9,1267.0 L1918.9,1262.3 L1920.9,1257.5 L1922.9,1252.9 L1924.9,1248.6 L1926.9,1244.9 L1928.9,1241.8 L1930.9,1239.6 L1932.9,1238.4 L1934.9,1238.3 L1936.9,1239.4 L1938.9,1241.5 L1940.9,1244.5 L1942.9,1248.3 L1944.9,1252.5 L1946.9,1257.1 L1948.9,1261.9 L1950.9,1266.6 L1952.9,1271.3 L1954.9,1275.7 L1956.9,1279.9 L1958.9,1283.8 L1960.9,1287.3 L1962.9,1290.4 L1964.9,1293.1 L1966.9,1295.5 L1968.9,1297.6 L1970.9,1299.3 L1972.9,1300.7 L1974.9,1302.0 L1976.9,1303.0 L1978.9,1303.8 L1980.9,1304.5 L1982.9,1305.0 L1984.9,1305.5 L1986.9,1305.8 L1988.9,1306.2 L1990.9,1306.4 L1992.9,1306.6 L1994.9,1306.8 L1996.9,1307.0 L1998.9,1307.1 L2000.9,1307.3 L2002.9,1307.4 L2004.9,1307.5 L2006.9,1307.6 L2008.9,1307.7 L2010.9,1307.8 L2012.9,1307.9 L2014.9,1307.9 L2016.9,1308.0 L2018.9,1308.1 L2020.9,1308.1 L2022.9,1308.2 L2024.9,1308.2 L2026.9,1308.3 L2028.9,1308.3 L2030.9,1308.4 L2032.9,1308.4 L2034.9,1308.5 L2036.9,1308.5 L2038.9,1308.5 L2040.9,1308.6 L2042.9,1308.6 L2044.9,1308.6 L2046.9,1308.7 L2048.9,1308.7 L2050.9,1308.7 L2052.9,1308.7 L2054.9,1308.8 L2056.9,1308.8 L2058.9,1308.8 L2060.9,1308.8 L2060.9,1309.4 L1806.9,1309.0 Z" fill="url(#gB)" stroke="none"/>
<path d="M1474.9,1308.3 L1476.9,1308.3 L1478.9,1308.3 L1480.9,1308.4 L1482.9,1308.4 L1484.9,1308.4 L1486.9,1308.4 L1488.9,1308.4 L1490.9,1308.4 L1492.9,1308.4 L1494.9,1308.4 L1496.9,1308.4 L1498.9,1308.4 L1500.9,1308.4 L1502.9,1308.4 L1504.9,1308.4 L1506.9,1308.4 L1508.9,1308.4 L1510.9,1308.4 L1512.9,1308.4 L1514.9,1308.4 L1516.9,1308.4 L1518.9,1308.4 L1520.9,1308.4 L1522.9,1308.4 L1524.9,1308.4 L1526.9,1308.4 L1528.9,1308.4 L1530.9,1308.4 L1532.9,1308.4 L1534.9,1308.4 L1536.9,1308.4 L1538.9,1308.4 L1540.9,1308.4 L1542.9,1308.4 L1544.9,1308.4 L1546.9,1308.4 L1548.9,1308.4 L1550.9,1308.4 L1552.9,1308.4 L1554.9,1308.4 L1556.9,1308.4 L1558.9,1308.4 L1560.9,1308.4 L1562.9,1308.4 L1564.9,1308.4 L1566.9,1308.4 L1568.9,1308.4 L1570.9,1308.4 L1572.9,1308.4 L1574.9,1308.4 L1576.9,1308.4 L1578.9,1308.4 L1580.9,1308.4 L1582.9,1308.4 L1584.9,1308.4 L1586.9,1308.4 L1588.9,1308.4 L1590.9,1308.4 L1592.9,1308.4 L1594.9,1308.3 L1596.9,1308.3 L1598.9,1308.3 L1600.9,1308.3 L1602.9,1308.3 L1604.9,1308.3 L1606.9,1308.3 L1608.9,1308.3 L1610.9,1308.3 L1612.9,1308.3 L1614.9,1308.3 L1616.9,1308.3 L1618.9,1308.3 L1620.9,1308.3 L1622.9,1308.3 L1624.9,1308.3 L1626.9,1308.3 L1628.9,1308.3 L1630.9,1308.3 L1632.9,1308.3 L1634.9,1308.3 L1636.9,1308.2 L1638.9,1308.2 L1640.9,1308.2 L1642.9,1308.2 L1644.9,1308.2 L1646.9,1308.2 L1648.9,1308.2 L1650.9,1308.2 L1652.9,1308.2 L1654.9,1308.2 L1656.9,1308.1 L1658.9,1308.1 L1660.9,1308.1 L1662.9,1308.1 L1664.9,1308.1 L1666.9,1308.1 L1668.9,1308.1 L1670.9,1308.0 L1672.9,1308.0 L1674.9,1308.0 L1676.9,1308.0 L1678.9,1308.0 L1680.9,1307.9 L1682.9,1307.9 L1684.9,1307.9 L1686.9,1307.9 L1688.9,1307.8 L1690.9,1307.8 L1692.9,1307.8 L1694.9,1307.8 L1696.9,1307.7 L1698.9,1307.7 L1700.9,1307.7 L1702.9,1307.6 L1704.9,1307.6 L1706.9,1307.5 L1708.9,1307.5 L1710.9,1307.4 L1712.9,1307.4 L1714.9,1307.3 L1716.9,1307.3 L1718.9,1307.2 L1720.9,1307.1 L1722.9,1307.0 L1724.9,1306.9 L1726.9,1306.8 L1728.9,1306.7 L1730.9,1306.6 L1732.9,1306.4 L1734.9,1306.2 L1736.9,1306.0 L1738.9,1305.8 L1740.9,1305.5 L1742.9,1305.2 L1744.9,1304.8 L1746.9,1304.4 L1748.9,1303.9 L1750.9,1303.2 L1752.9,1302.5 L1754.9,1301.7 L1756.9,1300.8 L1758.9,1299.7 L1760.9,1298.5 L1762.9,1297.1 L1764.9,1295.5 L1766.9,1293.8 L1768.9,1291.9 L1770.9,1289.9 L1772.9,1287.7 L1774.9,1285.3 L1776.9,1282.8 L1778.9,1280.2 L1780.9,1277.6 L1782.9,1274.9 L1784.9,1272.2 L1786.9,1269.6 L1788.9,1267.1 L1790.9,1264.8 L1792.9,1262.7 L1794.9,1261.0 L1796.9,1259.7 L1798.9,1258.8 L1800.9,1258.5 L1802.9,1258.6 L1804.9,1259.3 L1806.9,1260.4 L1808.9,1261.9 L1810.9,1263.8 L1812.9,1266.0 L1814.9,1268.4 L1816.9,1270.9 L1818.9,1273.6 L1820.9,1276.2 L1822.9,1278.9 L1824.9,1281.5 L1826.9,1284.0 L1828.9,1286.3 L1830.9,1288.6 L1832.9,1290.7 L1834.9,1292.6 L1836.9,1294.3 L1838.9,1295.9 L1840.9,1297.3 L1842.9,1298.5 L1844.9,1299.6 L1846.9,1300.6 L1848.9,1301.4 L1850.9,1302.1 L1852.9,1302.7 L1854.9,1303.1 L1856.9,1303.5 L1858.9,1303.9 L1860.9,1304.1 L1862.9,1304.3 L1864.9,1304.5 L1866.9,1304.6 L1868.9,1304.6 L1870.9,1304.7 L1872.9,1304.6 L1874.9,1304.6 L1876.9,1304.5 L1878.9,1304.3 L1880.9,1304.1 L1882.9,1303.8 L1884.9,1303.5 L1886.9,1303.0 L1888.9,1302.4 L1890.9,1301.6 L1892.9,1300.7 L1894.9,1299.6 L1896.9,1298.2 L1898.9,1296.5 L1900.9,1294.6 L1902.9,1292.3 L1904.9,1289.6 L1906.9,1286.6 L1908.9,1283.2 L1910.9,1279.4 L1912.9,1275.3 L1914.9,1270.9 L1916.9,1266.3 L1918.9,1261.5 L1920.9,1256.8 L1922.9,1252.2 L1924.9,1248.0 L1926.9,1244.2 L1928.9,1241.1 L1930.9,1238.9 L1932.9,1237.8 L1934.9,1237.8 L1936.9,1238.8 L1938.9,1241.0 L1940.9,1244.0 L1942.9,1247.7 L1944.9,1252.0 L1946.9,1256.6 L1948.9,1261.4 L1950.9,1266.2 L1952.9,1270.8 L1954.9,1275.3 L1956.9,1279.5 L1958.9,1283.3 L1960.9,1286.8 L1962.9,1290.0 L1964.9,1292.7 L1966.9,1295.1 L1968.9,1297.2 L1970.9,1298.9 L1972.9,1300.4 L1974.9,1301.6 L1976.9,1302.6 L1978.9,1303.4 L1980.9,1304.1 L1982.9,1304.7 L1984.9,1305.2 L1986.9,1305.5 L1988.9,1305.9 L1990.9,1306.1 L1992.9,1306.3 L1994.9,1306.5 L1996.9,1306.7 L1998.9,1306.9 L2000.9,1307.0 L2002.9,1307.1 L2004.9,1307.2 L2006.9,1307.3 L2008.9,1307.4 L2010.9,1307.5 L2012.9,1307.6 L2014.9,1307.7 L2016.9,1307.8 L2018.9,1307.8 L2020.9,1307.9 L2022.9,1308.0 L2024.9,1308.0 L2026.9,1308.1 L2028.9,1308.1 L2030.9,1308.2 L2032.9,1308.2 L2034.9,1308.3 L2036.9,1308.3 L2038.9,1308.3 L2040.9,1308.4 L2042.9,1308.4 L2044.9,1308.4 L2046.9,1308.5 L2048.9,1308.5 L2050.9,1308.5 L2052.9,1308.6 L2054.9,1308.6 L2056.9,1308.6 L2058.9,1308.6 L2060.9,1308.7 L2062.9,1308.7 L2064.9,1308.7 L2066.9,1308.7 L2068.9,1308.8 L2070.9,1308.8 L2072.9,1308.8 L2074.9,1308.8 L2076.9,1308.8 L2078.9,1308.9 L2080.9,1308.9 L2082.9,1308.9 L2084.9,1308.9 L2086.9,1308.9 L2088.9,1308.9 L2090.9,1309.0 L2092.9,1309.0 L2094.9,1309.0 L2096.9,1309.0 L2098.9,1309.0 L2100.9,1309.0 L2102.9,1309.0 L2104.9,1309.1" fill="none" stroke="#6e1470" stroke-width="4" stroke-dasharray="5,7" stroke-linecap="round"/>
<path d="M1474.9,1308.3 L1476.9,1308.3 L1478.9,1308.3 L1480.9,1308.4 L1482.9,1308.4 L1484.9,1308.4 L1486.9,1308.4 L1488.9,1308.4 L1490.9,1308.4 L1492.9,1308.4 L1494.9,1308.4 L1496.9,1308.4 L1498.9,1308.4 L1500.9,1308.4 L1502.9,1308.4 L1504.9,1308.4 L1506.9,1308.4 L1508.9,1308.4 L1510.9,1308.4 L1512.9,1308.4 L1514.9,1308.4 L1516.9,1308.4 L1518.9,1308.4 L1520.9,1308.4 L1522.9,1308.4 L1524.9,1308.4 L1526.9,1308.4 L1528.9,1308.4 L1530.9,1308.4 L1532.9,1308.4 L1534.9,1308.4 L1536.9,1308.4 L1538.9,1308.4 L1540.9,1308.4 L1542.9,1308.4 L1544.9,1308.4 L1546.9,1308.4 L1548.9,1308.4 L1550.9,1308.4 L1552.9,1308.4 L1554.9,1308.4 L1556.9,1308.4 L1558.9,1308.4 L1560.9,1308.4 L1562.9,1308.4 L1564.9,1308.4 L1566.9,1308.4 L1568.9,1308.4 L1570.9,1308.4 L1572.9,1308.4 L1574.9,1308.4 L1576.9,1308.4 L1578.9,1308.4 L1580.9,1308.4 L1582.9,1308.4 L1584.9,1308.4 L1586.9,1308.4 L1588.9,1308.4 L1590.9,1308.4 L1592.9,1308.4 L1594.9,1308.3 L1596.9,1308.3 L1598.9,1308.3 L1600.9,1308.3 L1602.9,1308.3 L1604.9,1308.3 L1606.9,1308.3 L1608.9,1308.3 L1610.9,1308.3 L1612.9,1308.3 L1614.9,1308.3 L1616.9,1308.3 L1618.9,1308.3 L1620.9,1308.3 L1622.9,1308.3 L1624.9,1308.3 L1626.9,1308.3 L1628.9,1308.3 L1630.9,1308.3 L1632.9,1308.3 L1634.9,1308.3 L1636.9,1308.2 L1638.9,1308.2 L1640.9,1308.2 L1642.9,1308.2 L1644.9,1308.2 L1646.9,1308.2 L1648.9,1308.2 L1650.9,1308.2 L1652.9,1308.2 L1654.9,1308.2 L1656.9,1308.1 L1658.9,1308.1 L1660.9,1308.1 L1662.9,1308.1 L1664.9,1308.1 L1666.9,1308.1 L1668.9,1308.1 L1670.9,1308.0 L1672.9,1308.0 L1674.9,1308.0 L1676.9,1308.0 L1678.9,1308.0 L1680.9,1307.9 L1682.9,1307.9 L1684.9,1307.9 L1686.9,1307.9 L1688.9,1307.8 L1690.9,1307.8 L1692.9,1307.8 L1694.9,1307.8 L1696.9,1307.7 L1698.9,1307.7 L1700.9,1307.7 L1702.9,1307.6 L1704.9,1307.6 L1706.9,1307.5 L1708.9,1307.5 L1710.9,1307.4 L1712.9,1307.4 L1714.9,1307.3 L1716.9,1307.3 L1718.9,1307.2 L1720.9,1307.1 L1722.9,1307.0 L1724.9,1306.9 L1726.9,1306.8 L1728.9,1306.7 L1730.9,1306.6 L1732.9,1306.4 L1734.9,1306.2 L1736.9,1306.0 L1738.9,1305.8 L1740.9,1305.5 L1742.9,1305.2 L1744.9,1304.8 L1746.9,1304.4 L1748.9,1303.9 L1750.9,1303.2 L1752.9,1302.5 L1754.9,1301.7 L1756.9,1300.8 L1758.9,1299.7 L1760.9,1298.5 L1762.9,1297.1 L1764.9,1295.5 L1766.9,1293.8 L1768.9,1291.9 L1770.9,1289.9 L1772.9,1287.7 L1774.9,1285.3 L1776.9,1282.8 L1778.9,1280.2 L1780.9,1277.6 L1782.9,1274.9 L1784.9,1272.2 L1786.9,1269.6 L1788.9,1267.1 L1790.9,1264.8 L1792.9,1262.7 L1794.9,1261.0 L1796.9,1259.7 L1798.9,1258.8 L1800.9,1258.5 L1802.9,1258.6 L1804.9,1259.3 L1806.9,1260.4 L1808.9,1261.9 L1810.9,1263.8 L1812.9,1266.0 L1814.9,1268.4 L1816.9,1270.9 L1818.9,1273.6 L1820.9,1276.2 L1822.9,1278.9 L1824.9,1281.5 L1826.9,1284.0 L1828.9,1286.3 L1830.9,1288.6 L1832.9,1290.7 L1834.9,1292.6 L1836.9,1294.3 L1838.9,1295.9 L1840.9,1297.3 L1842.9,1298.5 L1844.9,1299.6 L1846.9,1300.6 L1848.9,1301.4 L1850.9,1302.1 L1852.9,1302.7 L1854.9,1303.1 L1856.9,1303.5 L1858.9,1303.9 L1860.9,1304.1 L1862.9,1304.3 L1864.9,1304.5 L1866.9,1304.6 L1868.9,1304.6 L1870.9,1304.7 L1872.9,1304.6 L1874.9,1304.6 L1876.9,1304.5 L1878.9,1304.3 L1880.9,1304.1 L1882.9,1303.8 L1884.9,1303.5 L1886.9,1303.0 L1888.9,1302.4 L1890.9,1301.6 L1892.9,1300.7 L1894.9,1299.6 L1896.9,1298.2 L1898.9,1296.5 L1900.9,1294.6 L1902.9,1292.3 L1904.9,1289.6 L1906.9,1286.6 L1908.9,1283.2 L1910.9,1279.4 L1912.9,1275.3 L1914.9,1270.9 L1916.9,1266.3 L1918.9,1261.5 L1920.9,1256.8 L1922.9,1252.2 L1924.9,1248.0 L1926.9,1244.2 L1928.9,1241.1 L1930.9,1238.9 L1932.9,1237.8 L1934.9,1237.8 L1936.9,1238.8 L1938.9,1241.0 L1940.9,1244.0 L1942.9,1247.7 L1944.9,1252.0 L1946.9,1256.6 L1948.9,1261.4 L1950.9,1266.2 L1952.9,1270.8 L1954.9,1275.3 L1956.9,1279.5 L1958.9,1283.3 L1960.9,1286.8 L1962.9,1290.0 L1964.9,1292.7 L1966.9,1295.1 L1968.9,1297.2 L1970.9,1298.9 L1972.9,1300.4 L1974.9,1301.6 L1976.9,1302.6 L1978.9,1303.4 L1980.9,1304.1 L1982.9,1304.7 L1984.9,1305.2 L1986.9,1305.5 L1988.9,1305.9 L1990.9,1306.1 L1992.9,1306.3 L1994.9,1306.5 L1996.9,1306.7 L1998.9,1306.9 L2000.9,1307.0 L2002.9,1307.1 L2004.9,1307.2 L2006.9,1307.3 L2008.9,1307.4 L2010.9,1307.5 L2012.9,1307.6 L2014.9,1307.7 L2016.9,1307.8 L2018.9,1307.8 L2020.9,1307.9 L2022.9,1308.0 L2024.9,1308.0 L2026.9,1308.1 L2028.9,1308.1 L2030.9,1308.2 L2032.9,1308.2 L2034.9,1308.3 L2036.9,1308.3 L2038.9,1308.3 L2040.9,1308.4 L2042.9,1308.4 L2044.9,1308.4 L2046.9,1308.5 L2048.9,1308.5 L2050.9,1308.5 L2052.9,1308.6 L2054.9,1308.6 L2056.9,1308.6 L2058.9,1308.6 L2060.9,1308.7 L2062.9,1308.7 L2064.9,1308.7 L2066.9,1308.7 L2068.9,1308.8 L2070.9,1308.8 L2072.9,1308.8 L2074.9,1308.8 L2076.9,1308.8 L2078.9,1308.9 L2080.9,1308.9 L2082.9,1308.9 L2084.9,1308.9 L2086.9,1308.9 L2088.9,1308.9 L2090.9,1309.0 L2092.9,1309.0 L2094.9,1309.0 L2096.9,1309.0 L2098.9,1309.0 L2100.9,1309.0 L2102.9,1309.0 L2104.9,1309.1" fill="none" stroke="#000" stroke-width="3.4" stroke-linejoin="round"/>
<path d="M1668.9,1308.2 L1670.9,1308.2 L1672.9,1308.2 L1674.9,1308.2 L1676.9,1308.1 L1678.9,1308.1 L1680.9,1308.1 L1682.9,1308.1 L1684.9,1308.1 L1686.9,1308.0 L1688.9,1308.0 L1690.9,1308.0 L1692.9,1308.0 L1694.9,1307.9 L1696.9,1307.9 L1698.9,1307.9 L1700.9,1307.8 L1702.9,1307.8 L1704.9,1307.8 L1706.9,1307.7 L1708.9,1307.7 L1710.9,1307.6 L1712.9,1307.6 L1714.9,1307.5 L1716.9,1307.5 L1718.9,1307.4 L1720.9,1307.3 L1722.9,1307.2 L1724.9,1307.2 L1726.9,1307.1 L1728.9,1306.9 L1730.9,1306.8 L1732.9,1306.7 L1734.9,1306.5 L1736.9,1306.3 L1738.9,1306.1 L1740.9,1305.8 L1742.9,1305.5 L1744.9,1305.1 L1746.9,1304.7 L1748.9,1304.1 L1750.9,1303.5 L1752.9,1302.8 L1754.9,1302.0 L1756.9,1301.1 L1758.9,1300.0 L1760.9,1298.8 L1762.9,1297.4 L1764.9,1295.9 L1766.9,1294.2 L1768.9,1292.3 L1770.9,1290.2 L1772.9,1288.0 L1774.9,1285.7 L1776.9,1283.2 L1778.9,1280.6 L1780.9,1278.0 L1782.9,1275.3 L1784.9,1272.6 L1786.9,1270.0 L1788.9,1267.5 L1790.9,1265.3 L1792.9,1263.2 L1794.9,1261.5 L1796.9,1260.2 L1798.9,1259.4 L1800.9,1259.0 L1802.9,1259.2 L1804.9,1259.8 L1806.9,1261.0 L1808.9,1262.5 L1810.9,1264.4 L1812.9,1266.6 L1814.9,1269.1 L1816.9,1271.6 L1818.9,1274.3 L1820.9,1277.0 L1822.9,1279.7 L1824.9,1282.3 L1826.9,1284.8 L1828.9,1287.2 L1830.9,1289.5 L1832.9,1291.6 L1834.9,1293.5 L1836.9,1295.3 L1838.9,1296.9 L1840.9,1298.4 L1842.9,1299.7 L1844.9,1300.8 L1846.9,1301.8 L1848.9,1302.7 L1850.9,1303.4 L1852.9,1304.1 L1854.9,1304.6 L1856.9,1305.1 L1858.9,1305.5 L1860.9,1305.9 L1862.9,1306.2 L1864.9,1306.4 L1866.9,1306.6 L1868.9,1306.8 L1870.9,1307.0 L1872.9,1307.1 L1874.9,1307.2 L1876.9,1307.4 L1878.9,1307.5 L1880.9,1307.5 L1882.9,1307.6 L1884.9,1307.7 L1886.9,1307.8 L1888.9,1307.8 L1890.9,1307.9 L1892.9,1307.9 L1894.9,1308.0 L1896.9,1308.0 L1898.9,1308.1 L1900.9,1308.1 L1902.9,1308.2 L1904.9,1308.2 L1906.9,1308.3 L1908.9,1308.3 L1910.9,1308.3 L1912.9,1308.4 L1914.9,1308.4 L1916.9,1308.4 L1918.9,1308.4 L1920.9,1308.5 L1922.9,1308.5 L1924.9,1308.5 L1926.9,1308.6 L1928.9,1308.6 L1930.9,1308.6 L1932.9,1308.6" fill="none" stroke="#0000ff" stroke-width="4.3" stroke-linejoin="round"/>
<path d="M1806.9,1308.4 L1808.9,1308.4 L1810.9,1308.4 L1812.9,1308.4 L1814.9,1308.4 L1816.9,1308.3 L1818.9,1308.3 L1820.9,1308.3 L1822.9,1308.3 L1824.9,1308.2 L1826.9,1308.2 L1828.9,1308.2 L1830.9,1308.2 L1832.9,1308.1 L1834.9,1308.1 L1836.9,1308.1 L1838.9,1308.0 L1840.9,1308.0 L1842.9,1307.9 L1844.9,1307.9 L1846.9,1307.8 L1848.9,1307.8 L1850.9,1307.7 L1852.9,1307.7 L1854.9,1307.6 L1856.9,1307.5 L1858.9,1307.5 L1860.9,1307.4 L1862.9,1307.3 L1864.9,1307.2 L1866.9,1307.1 L1868.9,1307.0 L1870.9,1306.8 L1872.9,1306.7 L1874.9,1306.5 L1876.9,1306.3 L1878.9,1306.0 L1880.9,1305.7 L1882.9,1305.3 L1884.9,1304.9 L1886.9,1304.4 L1888.9,1303.7 L1890.9,1302.9 L1892.9,1301.9 L1894.9,1300.8 L1896.9,1299.3 L1898.9,1297.6 L1900.9,1295.6 L1902.9,1293.3 L1904.9,1290.6 L1906.9,1287.5 L1908.9,1284.1 L1910.9,1280.2 L1912.9,1276.1 L1914.9,1271.7 L1916.9,1267.0 L1918.9,1262.3 L1920.9,1257.5 L1922.9,1252.9 L1924.9,1248.6 L1926.9,1244.9 L1928.9,1241.8 L1930.9,1239.6 L1932.9,1238.4 L1934.9,1238.3 L1936.9,1239.4 L1938.9,1241.5 L1940.9,1244.5 L1942.9,1248.3 L1944.9,1252.5 L1946.9,1257.1 L1948.9,1261.9 L1950.9,1266.6 L1952.9,1271.3 L1954.9,1275.7 L1956.9,1279.9 L1958.9,1283.8 L1960.9,1287.3 L1962.9,1290.4 L1964.9,1293.1 L1966.9,1295.5 L1968.9,1297.6 L1970.9,1299.3 L1972.9,1300.7 L1974.9,1302.0 L1976.9,1303.0 L1978.9,1303.8 L1980.9,1304.5 L1982.9,1305.0 L1984.9,1305.5 L1986.9,1305.8 L1988.9,1306.2 L1990.9,1306.4 L1992.9,1306.6 L1994.9,1306.8 L1996.9,1307.0 L1998.9,1307.1 L2000.9,1307.3 L2002.9,1307.4 L2004.9,1307.5 L2006.9,1307.6 L2008.9,1307.7 L2010.9,1307.8 L2012.9,1307.9 L2014.9,1307.9 L2016.9,1308.0 L2018.9,1308.1 L2020.9,1308.1 L2022.9,1308.2 L2024.9,1308.2 L2026.9,1308.3 L2028.9,1308.3 L2030.9,1308.4 L2032.9,1308.4 L2034.9,1308.5 L2036.9,1308.5 L2038.9,1308.5 L2040.9,1308.6 L2042.9,1308.6 L2044.9,1308.6 L2046.9,1308.7 L2048.9,1308.7 L2050.9,1308.7 L2052.9,1308.7 L2054.9,1308.8 L2056.9,1308.8 L2058.9,1308.8 L2060.9,1308.8" fill="none" stroke="#0000ff" stroke-width="4.3" stroke-linejoin="round"/>
<line x1="1474.9" y1="1308.5" x2="2105.2" y2="1309.5" stroke="#0000ff" stroke-width="6.5"/>
<path d="M1658.9,1443.0 L1660.9,1443.0 L1662.9,1443.0 L1664.9,1443.0 L1666.9,1442.9 L1668.9,1442.9 L1670.9,1442.9 L1672.9,1442.9 L1674.9,1442.9 L1676.9,1442.9 L1678.9,1442.8 L1680.9,1442.8 L1682.9,1442.8 L1684.9,1442.8 L1686.9,1442.8 L1688.9,1442.7 L1690.9,1442.7 L1692.9,1442.7 L1694.9,1442.7 L1696.9,1442.6 L1698.9,1442.6 L1700.9,1442.6 L1702.9,1442.5 L1704.9,1442.5 L1706.9,1442.5 L1708.9,1442.4 L1710.9,1442.4 L1712.9,1442.4 L1714.9,1442.3 L1716.9,1442.3 L1718.9,1442.2 L1720.9,1442.2 L1722.9,1442.1 L1724.9,1442.0 L1726.9,1441.9 L1728.9,1441.9 L1730.9,1441.8 L1732.9,1441.7 L1734.9,1441.6 L1736.9,1441.4 L1738.9,1441.3 L1740.9,1441.1 L1742.9,1441.0 L1744.9,1440.8 L1746.9,1440.5 L1748.9,1440.3 L1750.9,1440.0 L1752.9,1439.7 L1754.9,1439.4 L1756.9,1439.0 L1758.9,1438.6 L1760.9,1438.1 L1762.9,1437.6 L1764.9,1437.1 L1766.9,1436.4 L1768.9,1435.8 L1770.9,1435.1 L1772.9,1434.3 L1774.9,1433.4 L1776.9,1432.5 L1778.9,1431.5 L1780.9,1430.5 L1782.9,1429.4 L1784.9,1428.2 L1786.9,1427.0 L1788.9,1425.7 L1790.9,1424.3 L1792.9,1422.9 L1794.9,1421.5 L1796.9,1420.0 L1798.9,1418.4 L1800.9,1416.9 L1802.9,1415.3 L1804.9,1413.7 L1806.9,1412.2 L1808.9,1410.7 L1810.9,1409.2 L1812.9,1407.7 L1814.9,1406.3 L1816.9,1405.0 L1818.9,1403.8 L1820.9,1402.8 L1822.9,1401.8 L1824.9,1401.0 L1826.9,1400.4 L1828.9,1399.9 L1830.9,1399.7 L1832.9,1399.6 L1834.9,1399.7 L1836.9,1400.0 L1838.9,1400.5 L1840.9,1401.2 L1842.9,1402.0 L1844.9,1403.0 L1846.9,1404.1 L1848.9,1405.3 L1850.9,1406.6 L1852.9,1408.0 L1854.9,1409.4 L1856.9,1411.0 L1858.9,1412.5 L1860.9,1414.1 L1862.9,1415.6 L1864.9,1417.2 L1866.9,1418.7 L1868.9,1420.3 L1870.9,1421.7 L1872.9,1423.2 L1874.9,1424.6 L1876.9,1425.9 L1878.9,1427.2 L1880.9,1428.4 L1882.9,1429.6 L1884.9,1430.7 L1886.9,1431.7 L1888.9,1432.7 L1890.9,1433.6 L1892.9,1434.4 L1894.9,1435.2 L1896.9,1435.9 L1898.9,1436.6 L1900.9,1437.2 L1902.9,1437.7 L1904.9,1438.2 L1906.9,1438.7 L1908.9,1439.1 L1910.9,1439.4 L1912.9,1439.8 L1914.9,1440.1 L1916.9,1440.3 L1918.9,1440.6 L1920.9,1440.8 L1922.9,1441.0 L1924.9,1441.2 L1926.9,1441.3 L1928.9,1441.5 L1930.9,1441.6 L1932.9,1441.7 L1934.9,1441.8 L1936.9,1441.9 L1938.9,1442.0 L1940.9,1442.0 L1942.9,1442.1 L1944.9,1442.2 L1946.9,1442.2 L1948.9,1442.3 L1950.9,1442.3 L1952.9,1442.4 L1954.9,1442.4 L1956.9,1442.5 L1958.9,1442.5 L1960.9,1442.5 L1962.9,1442.6 L1964.9,1442.6 L1966.9,1442.6 L1968.9,1442.6 L1970.9,1442.7 L1972.9,1442.7 L1974.9,1442.7 L1976.9,1442.7 L1978.9,1442.8 L1980.9,1442.8 L1982.9,1442.8 L1984.9,1442.8 L1986.9,1442.8 L1988.9,1442.9 L1990.9,1442.9 L1992.9,1442.9 L1994.9,1442.9 L1996.9,1442.9 L1998.9,1442.9 L2000.9,1443.0 L2002.9,1443.0 L2004.9,1443.0 L2004.9,1443.6 L1658.9,1443.6 Z" fill="url(#gB)" stroke="none"/>
<path d="M1698.9,1443.0 L1700.9,1443.0 L1702.9,1443.0 L1704.9,1443.0 L1706.9,1443.0 L1708.9,1442.9 L1710.9,1442.9 L1712.9,1442.9 L1714.9,1442.9 L1716.9,1442.9 L1718.9,1442.9 L1720.9,1442.9 L1722.9,1442.9 L1724.9,1442.9 L1726.9,1442.8 L1728.9,1442.8 L1730.9,1442.8 L1732.9,1442.8 L1734.9,1442.8 L1736.9,1442.8 L1738.9,1442.8 L1740.9,1442.7 L1742.9,1442.7 L1744.9,1442.7 L1746.9,1442.7 L1748.9,1442.7 L1750.9,1442.7 L1752.9,1442.7 L1754.9,1442.6 L1756.9,1442.6 L1758.9,1442.6 L1760.9,1442.6 L1762.9,1442.6 L1764.9,1442.5 L1766.9,1442.5 L1768.9,1442.5 L1770.9,1442.5 L1772.9,1442.4 L1774.9,1442.4 L1776.9,1442.4 L1778.9,1442.4 L1780.9,1442.3 L1782.9,1442.3 L1784.9,1442.3 L1786.9,1442.3 L1788.9,1442.2 L1790.9,1442.2 L1792.9,1442.2 L1794.9,1442.1 L1796.9,1442.1 L1798.9,1442.0 L1800.9,1442.0 L1802.9,1442.0 L1804.9,1441.9 L1806.9,1441.9 L1808.9,1441.8 L1810.9,1441.8 L1812.9,1441.7 L1814.9,1441.6 L1816.9,1441.6 L1818.9,1441.5 L1820.9,1441.4 L1822.9,1441.4 L1824.9,1441.3 L1826.9,1441.2 L1828.9,1441.1 L1830.9,1441.0 L1832.9,1440.8 L1834.9,1440.7 L1836.9,1440.6 L1838.9,1440.4 L1840.9,1440.3 L1842.9,1440.1 L1844.9,1439.9 L1846.9,1439.6 L1848.9,1439.4 L1850.9,1439.1 L1852.9,1438.8 L1854.9,1438.5 L1856.9,1438.2 L1858.9,1437.8 L1860.9,1437.3 L1862.9,1436.9 L1864.9,1436.4 L1866.9,1435.9 L1868.9,1435.3 L1870.9,1434.6 L1872.9,1433.9 L1874.9,1433.2 L1876.9,1432.4 L1878.9,1431.6 L1880.9,1430.7 L1882.9,1429.7 L1884.9,1428.7 L1886.9,1427.6 L1888.9,1426.4 L1890.9,1425.2 L1892.9,1423.9 L1894.9,1422.5 L1896.9,1421.1 L1898.9,1419.6 L1900.9,1418.1 L1902.9,1416.5 L1904.9,1414.8 L1906.9,1413.1 L1908.9,1411.3 L1910.9,1409.5 L1912.9,1407.7 L1914.9,1405.9 L1916.9,1404.0 L1918.9,1402.1 L1920.9,1400.2 L1922.9,1398.3 L1924.9,1396.5 L1926.9,1394.7 L1928.9,1392.9 L1930.9,1391.2 L1932.9,1389.5 L1934.9,1387.9 L1936.9,1386.4 L1938.9,1385.1 L1940.9,1383.8 L1942.9,1382.7 L1944.9,1381.8 L1946.9,1381.0 L1948.9,1380.4 L1950.9,1379.9 L1952.9,1379.7 L1954.9,1379.6 L1956.9,1379.7 L1958.9,1380.0 L1960.9,1380.5 L1962.9,1381.2 L1964.9,1382.0 L1966.9,1383.0 L1968.9,1384.2 L1970.9,1385.5 L1972.9,1386.9 L1974.9,1388.4 L1976.9,1390.0 L1978.9,1391.7 L1980.9,1393.4 L1982.9,1395.2 L1984.9,1397.0 L1986.9,1398.9 L1988.9,1400.8 L1990.9,1402.7 L1992.9,1404.6 L1994.9,1406.4 L1996.9,1408.3 L1998.9,1410.1 L2000.9,1411.9 L2002.9,1413.6 L2004.9,1415.3 L2006.9,1416.9 L2008.9,1418.5 L2010.9,1420.1 L2012.9,1421.5 L2014.9,1422.9 L2016.9,1424.3 L2018.9,1425.5 L2020.9,1426.7 L2022.9,1427.9 L2024.9,1429.0 L2026.9,1430.0 L2028.9,1430.9 L2030.9,1431.8 L2032.9,1432.7 L2034.9,1433.4 L2036.9,1434.2 L2038.9,1434.8 L2040.9,1435.4 L2042.9,1436.0 L2044.9,1436.5 L2046.9,1437.0 L2048.9,1437.5 L2050.9,1437.9 L2052.9,1438.3 L2054.9,1438.6 L2056.9,1438.9 L2058.9,1439.2 L2060.9,1439.5 L2062.9,1439.7 L2064.9,1439.9 L2066.9,1440.1 L2068.9,1440.3 L2070.9,1440.5 L2072.9,1440.6 L2074.9,1440.8 L2076.9,1440.9 L2078.9,1441.0 L2080.9,1441.1 L2082.9,1441.2 L2084.9,1441.3 L2086.9,1441.4 L2088.9,1441.5 L2090.9,1441.5 L2092.9,1441.6 L2094.9,1441.7 L2096.9,1441.7 L2098.9,1441.8 L2100.9,1441.8 L2102.9,1441.9 L2104.9,1441.9 L2104.9,1443.6 L1698.9,1443.6 Z" fill="url(#gB)" stroke="none"/>
<path d="M1716.9,1442.9 L1718.9,1442.8 L1720.9,1442.7 L1722.9,1442.6 L1724.9,1442.5 L1726.9,1442.3 L1728.9,1442.2 L1730.9,1442.0 L1732.9,1441.8 L1734.9,1441.5 L1736.9,1441.3 L1738.9,1441.0 L1740.9,1440.6 L1742.9,1440.3 L1744.9,1439.9 L1746.9,1439.5 L1748.9,1439.1 L1750.9,1438.6 L1752.9,1438.2 L1754.9,1437.7 L1756.9,1437.2 L1758.9,1436.7 L1760.9,1436.2 L1762.9,1435.7 L1764.9,1435.2 L1766.9,1434.7 L1768.9,1434.3 L1770.9,1433.9 L1772.9,1433.5 L1774.9,1433.2 L1776.9,1433.0 L1778.9,1432.8 L1780.9,1432.6 L1782.9,1432.6 L1784.9,1432.6 L1786.9,1432.7 L1788.9,1432.9 L1790.9,1433.1 L1792.9,1433.4 L1794.9,1433.8 L1796.9,1434.2 L1798.9,1434.6 L1800.9,1435.1 L1802.9,1435.5 L1804.9,1436.0 L1806.9,1436.5 L1808.9,1437.0 L1810.9,1437.5 L1812.9,1438.0 L1814.9,1438.5 L1816.9,1439.0 L1818.9,1439.4 L1820.9,1439.8 L1822.9,1440.2 L1824.9,1440.5 L1826.9,1440.9 L1828.9,1441.2 L1830.9,1441.5 L1832.9,1441.7 L1834.9,1441.9 L1836.9,1442.1 L1838.9,1442.3 L1840.9,1442.5 L1842.9,1442.6 L1844.9,1442.7 L1846.9,1442.8 L1848.9,1442.9 L1850.9,1443.0 L1850.9,1443.6 L1716.9,1443.6 Z" fill="url(#gR)" stroke="none"/>
<path d="M1820.9,1443.0 L1822.9,1442.9 L1824.9,1442.9 L1826.9,1442.8 L1828.9,1442.7 L1830.9,1442.6 L1832.9,1442.5 L1834.9,1442.3 L1836.9,1442.2 L1838.9,1442.0 L1840.9,1441.8 L1842.9,1441.5 L1844.9,1441.3 L1846.9,1441.0 L1848.9,1440.7 L1850.9,1440.3 L1852.9,1439.9 L1854.9,1439.5 L1856.9,1439.1 L1858.9,1438.6 L1860.9,1438.1 L1862.9,1437.5 L1864.9,1437.0 L1866.9,1436.4 L1868.9,1435.8 L1870.9,1435.1 L1872.9,1434.5 L1874.9,1433.8 L1876.9,1433.2 L1878.9,1432.6 L1880.9,1432.0 L1882.9,1431.4 L1884.9,1430.8 L1886.9,1430.3 L1888.9,1429.8 L1890.9,1429.4 L1892.9,1429.1 L1894.9,1428.9 L1896.9,1428.7 L1898.9,1428.6 L1900.9,1428.6 L1902.9,1428.7 L1904.9,1428.9 L1906.9,1429.1 L1908.9,1429.5 L1910.9,1429.9 L1912.9,1430.3 L1914.9,1430.9 L1916.9,1431.4 L1918.9,1432.0 L1920.9,1432.6 L1922.9,1433.3 L1924.9,1433.9 L1926.9,1434.6 L1928.9,1435.2 L1930.9,1435.8 L1932.9,1436.4 L1934.9,1437.0 L1936.9,1437.6 L1938.9,1438.1 L1940.9,1438.6 L1942.9,1439.1 L1944.9,1439.6 L1946.9,1440.0 L1948.9,1440.4 L1950.9,1440.7 L1952.9,1441.0 L1954.9,1441.3 L1956.9,1441.6 L1958.9,1441.8 L1960.9,1442.0 L1962.9,1442.2 L1964.9,1442.3 L1966.9,1442.5 L1968.9,1442.6 L1970.9,1442.7 L1972.9,1442.8 L1974.9,1442.9 L1976.9,1442.9 L1976.9,1443.6 L1820.9,1443.6 Z" fill="url(#gR)" stroke="none"/>
<path d="M1474.9,1445.2 L1476.9,1445.2 L1478.9,1445.2 L1480.9,1445.2 L1482.9,1445.2 L1484.9,1445.2 L1486.9,1445.2 L1488.9,1445.2 L1490.9,1445.2 L1492.9,1445.2 L1494.9,1445.2 L1496.9,1445.2 L1498.9,1445.2 L1500.9,1445.2 L1502.9,1445.2 L1504.9,1445.2 L1506.9,1445.2 L1508.9,1445.2 L1510.9,1445.2 L1512.9,1445.2 L1514.9,1445.2 L1516.9,1445.2 L1518.9,1445.1 L1520.9,1445.1 L1522.9,1445.1 L1524.9,1445.1 L1526.9,1445.1 L1528.9,1445.1 L1530.9,1445.1 L1532.9,1445.1 L1534.9,1445.1 L1536.9,1445.1 L1538.9,1445.1 L1540.9,1445.1 L1542.9,1445.1 L1544.9,1445.1 L1546.9,1445.1 L1548.9,1445.1 L1550.9,1445.1 L1552.9,1445.1 L1554.9,1445.0 L1556.9,1445.0 L1558.9,1445.0 L1560.9,1445.0 L1562.9,1445.0 L1564.9,1445.0 L1566.9,1445.0 L1568.9,1445.0 L1570.9,1445.0 L1572.9,1445.0 L1574.9,1445.0 L1576.9,1445.0 L1578.9,1445.0 L1580.9,1444.9 L1582.9,1444.9 L1584.9,1444.9 L1586.9,1444.9 L1588.9,1444.9 L1590.9,1444.9 L1592.9,1444.9 L1594.9,1444.9 L1596.9,1444.9 L1598.9,1444.9 L1600.9,1444.8 L1602.9,1444.8 L1604.9,1444.8 L1606.9,1444.8 L1608.9,1444.8 L1610.9,1444.8 L1612.9,1444.8 L1614.9,1444.8 L1616.9,1444.7 L1618.9,1444.7 L1620.9,1444.7 L1622.9,1444.7 L1624.9,1444.7 L1626.9,1444.7 L1628.9,1444.7 L1630.9,1444.6 L1632.9,1444.6 L1634.9,1444.6 L1636.9,1444.6 L1638.9,1444.6 L1640.9,1444.6 L1642.9,1444.5 L1644.9,1444.5 L1646.9,1444.5 L1648.9,1444.5 L1650.9,1444.5 L1652.9,1444.4 L1654.9,1444.4 L1656.9,1444.4 L1658.9,1444.4 L1660.9,1442.3 L1662.9,1442.3 L1664.9,1442.3 L1666.9,1442.3 L1668.9,1442.2 L1670.9,1442.2 L1672.9,1442.2 L1674.9,1442.2 L1676.9,1442.1 L1678.9,1442.1 L1680.9,1442.1 L1682.9,1442.0 L1684.9,1442.0 L1686.9,1441.9 L1688.9,1441.9 L1690.9,1441.9 L1692.9,1441.8 L1694.9,1441.8 L1696.9,1441.7 L1698.9,1441.6 L1700.9,1441.6 L1702.9,1441.5 L1704.9,1441.4 L1706.9,1441.3 L1708.9,1441.3 L1710.9,1441.1 L1712.9,1441.0 L1714.9,1440.9 L1716.9,1440.7 L1718.9,1440.6 L1720.9,1440.4 L1722.9,1440.2 L1724.9,1439.9 L1726.9,1439.7 L1728.9,1439.3 L1730.9,1439.0 L1732.9,1438.6 L1734.9,1438.1 L1736.9,1437.7 L1738.9,1437.1 L1740.9,1436.5 L1742.9,1435.8 L1744.9,1435.1 L1746.9,1434.3 L1748.9,1433.5 L1750.9,1432.6 L1752.9,1431.6 L1754.9,1430.5 L1756.9,1429.4 L1758.9,1428.2 L1760.9,1427.0 L1762.9,1425.7 L1764.9,1424.4 L1766.9,1423.1 L1768.9,1421.7 L1770.9,1420.3 L1772.9,1418.9 L1774.9,1417.5 L1776.9,1416.1 L1778.9,1414.7 L1780.9,1413.4 L1782.9,1412.1 L1784.9,1410.8 L1786.9,1409.6 L1788.9,1408.4 L1790.9,1407.2 L1792.9,1406.1 L1794.9,1405.0 L1796.9,1403.9 L1798.9,1402.9 L1800.9,1401.9 L1802.9,1400.9 L1804.9,1400.0 L1806.9,1399.1 L1808.9,1398.2 L1810.9,1397.4 L1812.9,1396.5 L1814.9,1395.8 L1816.9,1395.1 L1818.9,1394.5 L1820.9,1393.9 L1822.9,1393.4 L1824.9,1393.1 L1826.9,1392.8 L1828.9,1392.6 L1830.9,1392.6 L1832.9,1392.7 L1834.9,1392.9 L1836.9,1393.2 L1838.9,1393.7 L1840.9,1394.2 L1842.9,1394.9 L1844.9,1395.6 L1846.9,1396.3 L1848.9,1397.1 L1850.9,1398.0 L1852.9,1398.8 L1854.9,1399.6 L1856.9,1400.4 L1858.9,1401.2 L1860.9,1401.8 L1862.9,1402.5 L1864.9,1403.0 L1866.9,1403.4 L1868.9,1403.8 L1870.9,1404.0 L1872.9,1404.2 L1874.9,1404.2 L1876.9,1404.1 L1878.9,1403.9 L1880.9,1403.7 L1882.9,1403.3 L1884.9,1402.8 L1886.9,1402.2 L1888.9,1401.6 L1890.9,1400.8 L1892.9,1400.1 L1894.9,1399.2 L1896.9,1398.3 L1898.9,1397.4 L1900.9,1396.5 L1902.9,1395.5 L1904.9,1394.6 L1906.9,1393.6 L1908.9,1392.6 L1910.9,1391.5 L1912.9,1390.5 L1914.9,1389.5 L1916.9,1388.4 L1918.9,1387.4 L1920.9,1386.3 L1922.9,1385.3 L1924.9,1384.2 L1926.9,1383.1 L1928.9,1382.1 L1930.9,1381.1 L1932.9,1380.1 L1934.9,1379.2 L1936.9,1378.3 L1938.9,1377.5 L1940.9,1376.7 L1942.9,1376.0 L1944.9,1375.4 L1946.9,1374.9 L1948.9,1374.5 L1950.9,1374.2 L1952.9,1374.1 L1954.9,1374.0 L1956.9,1374.1 L1958.9,1374.3 L1960.9,1374.7 L1962.9,1375.1 L1964.9,1375.7 L1966.9,1376.5 L1968.9,1377.3 L1970.9,1378.3 L1972.9,1379.3 L1974.9,1380.5 L1976.9,1381.8 L1978.9,1383.2 L1980.9,1384.7 L1982.9,1386.3 L1984.9,1388.0 L1986.9,1389.8 L1988.9,1391.6 L1990.9,1393.5 L1992.9,1395.5 L1994.9,1397.6 L1996.9,1399.7 L1998.9,1401.8 L2000.9,1403.9 L2002.9,1406.0 L2004.9,1408.1 L2006.9,1410.2 L2008.9,1412.3 L2010.9,1414.3 L2012.9,1416.2 L2014.9,1418.1 L2016.9,1419.9 L2018.9,1421.6 L2020.9,1423.2 L2022.9,1424.8 L2024.9,1426.2 L2026.9,1427.5 L2028.9,1428.8 L2030.9,1429.9 L2032.9,1431.0 L2034.9,1431.9 L2036.9,1432.8 L2038.9,1433.7 L2040.9,1434.4 L2042.9,1435.1 L2044.9,1435.7 L2046.9,1436.2 L2048.9,1436.8 L2050.9,1437.2 L2052.9,1437.6 L2054.9,1438.0 L2056.9,1438.3 L2058.9,1438.7 L2060.9,1440.9 L2062.9,1441.2 L2064.9,1441.4 L2066.9,1441.6 L2068.9,1441.8 L2070.9,1442.0 L2072.9,1442.2 L2074.9,1442.3 L2076.9,1442.5 L2078.9,1442.6 L2080.9,1442.7 L2082.9,1442.8 L2084.9,1442.9 L2086.9,1443.0 L2088.9,1443.1 L2090.9,1443.2 L2092.9,1443.2 L2094.9,1443.3 L2096.9,1443.4 L2098.9,1443.4 L2100.9,1443.5 L2102.9,1443.5 L2104.9,1443.6" fill="none" stroke="#6e1470" stroke-width="4" stroke-dasharray="5,7" stroke-linecap="round"/>
<path d="M1474.9,1443.2 L1476.9,1443.2 L1478.9,1443.2 L1480.9,1443.2 L1482.9,1443.2 L1484.9,1443.2 L1486.9,1443.2 L1488.9,1443.2 L1490.9,1443.2 L1492.9,1443.2 L1494.9,1443.2 L1496.9,1443.2 L1498.9,1443.2 L1500.9,1443.2 L1502.9,1443.2 L1504.9,1443.2 L1506.9,1443.2 L1508.9,1443.2 L1510.9,1443.2 L1512.9,1443.2 L1514.9,1443.2 L1516.9,1443.2 L1518.9,1443.1 L1520.9,1443.1 L1522.9,1443.1 L1524.9,1443.1 L1526.9,1443.1 L1528.9,1443.1 L1530.9,1443.1 L1532.9,1443.1 L1534.9,1443.1 L1536.9,1443.1 L1538.9,1443.1 L1540.9,1443.1 L1542.9,1443.1 L1544.9,1443.1 L1546.9,1443.1 L1548.9,1443.1 L1550.9,1443.1 L1552.9,1443.1 L1554.9,1443.0 L1556.9,1443.0 L1558.9,1443.0 L1560.9,1443.0 L1562.9,1443.0 L1564.9,1443.0 L1566.9,1443.0 L1568.9,1443.0 L1570.9,1443.0 L1572.9,1443.0 L1574.9,1443.0 L1576.9,1443.0 L1578.9,1443.0 L1580.9,1442.9 L1582.9,1442.9 L1584.9,1442.9 L1586.9,1442.9 L1588.9,1442.9 L1590.9,1442.9 L1592.9,1442.9 L1594.9,1442.9 L1596.9,1442.9 L1598.9,1442.9 L1600.9,1442.8 L1602.9,1442.8 L1604.9,1442.8 L1606.9,1442.8 L1608.9,1442.8 L1610.9,1442.8 L1612.9,1442.8 L1614.9,1442.8 L1616.9,1442.7 L1618.9,1442.7 L1620.9,1442.7 L1622.9,1442.7 L1624.9,1442.7 L1626.9,1442.7 L1628.9,1442.7 L1630.9,1442.6 L1632.9,1442.6 L1634.9,1442.6 L1636.9,1442.6 L1638.9,1442.6 L1640.9,1442.6 L1642.9,1442.5 L1644.9,1442.5 L1646.9,1442.5 L1648.9,1442.5 L1650.9,1442.5 L1652.9,1442.4 L1654.9,1442.4 L1656.9,1442.4 L1658.9,1442.4 L1660.9,1442.3 L1662.9,1442.3 L1664.9,1442.3 L1666.9,1442.3 L1668.9,1442.2 L1670.9,1442.2 L1672.9,1442.2 L1674.9,1442.2 L1676.9,1442.1 L1678.9,1442.1 L1680.9,1442.1 L1682.9,1442.0 L1684.9,1442.0 L1686.9,1441.9 L1688.9,1441.9 L1690.9,1441.9 L1692.9,1441.8 L1694.9,1441.8 L1696.9,1441.7 L1698.9,1441.6 L1700.9,1441.6 L1702.9,1441.5 L1704.9,1441.4 L1706.9,1441.4 L1708.9,1441.3 L1710.9,1441.2 L1712.9,1441.1 L1714.9,1440.9 L1716.9,1440.8 L1718.9,1440.7 L1720.9,1440.5 L1722.9,1440.3 L1724.9,1440.1 L1726.9,1439.8 L1728.9,1439.6 L1730.9,1439.3 L1732.9,1438.9 L1734.9,1438.6 L1736.9,1438.2 L1738.9,1437.7 L1740.9,1437.2 L1742.9,1436.7 L1744.9,1436.1 L1746.9,1435.4 L1748.9,1434.7 L1750.9,1434.0 L1752.9,1433.2 L1754.9,1432.4 L1756.9,1431.5 L1758.9,1430.5 L1760.9,1429.5 L1762.9,1428.5 L1764.9,1427.4 L1766.9,1426.3 L1768.9,1425.2 L1770.9,1424.0 L1772.9,1422.9 L1774.9,1421.7 L1776.9,1420.5 L1778.9,1419.3 L1780.9,1418.1 L1782.9,1416.9 L1784.9,1415.7 L1786.9,1414.5 L1788.9,1413.3 L1790.9,1412.2 L1792.9,1411.0 L1794.9,1409.9 L1796.9,1408.7 L1798.9,1407.6 L1800.9,1406.4 L1802.9,1405.3 L1804.9,1404.2 L1806.9,1403.0 L1808.9,1401.9 L1810.9,1400.9 L1812.9,1399.8 L1814.9,1398.8 L1816.9,1397.9 L1818.9,1397.0 L1820.9,1396.2 L1822.9,1395.5 L1824.9,1394.9 L1826.9,1394.4 L1828.9,1394.1 L1830.9,1393.9 L1832.9,1393.8 L1834.9,1393.9 L1836.9,1394.1 L1838.9,1394.4 L1840.9,1394.8 L1842.9,1395.4 L1844.9,1396.0 L1846.9,1396.7 L1848.9,1397.4 L1850.9,1398.2 L1852.9,1399.0 L1854.9,1399.8 L1856.9,1400.5 L1858.9,1401.3 L1860.9,1401.9 L1862.9,1402.5 L1864.9,1403.0 L1866.9,1403.5 L1868.9,1403.8 L1870.9,1404.1 L1872.9,1404.2 L1874.9,1404.2 L1876.9,1404.1 L1878.9,1403.9 L1880.9,1403.7 L1882.9,1403.3 L1884.9,1402.8 L1886.9,1402.2 L1888.9,1401.6 L1890.9,1400.8 L1892.9,1400.1 L1894.9,1399.2 L1896.9,1398.4 L1898.9,1397.4 L1900.9,1396.5 L1902.9,1395.5 L1904.9,1394.6 L1906.9,1393.6 L1908.9,1392.6 L1910.9,1391.6 L1912.9,1390.5 L1914.9,1389.5 L1916.9,1388.4 L1918.9,1387.4 L1920.9,1386.4 L1922.9,1385.3 L1924.9,1384.3 L1926.9,1383.2 L1928.9,1382.2 L1930.9,1381.3 L1932.9,1380.3 L1934.9,1379.5 L1936.9,1378.6 L1938.9,1377.9 L1940.9,1377.2 L1942.9,1376.7 L1944.9,1376.2 L1946.9,1375.9 L1948.9,1375.7 L1950.9,1375.7 L1952.9,1375.8 L1954.9,1376.1 L1956.9,1376.5 L1958.9,1377.1 L1960.9,1377.8 L1962.9,1378.7 L1964.9,1379.7 L1966.9,1380.9 L1968.9,1382.2 L1970.9,1383.6 L1972.9,1385.1 L1974.9,1386.7 L1976.9,1388.4 L1978.9,1390.2 L1980.9,1392.0 L1982.9,1393.9 L1984.9,1395.8 L1986.9,1397.7 L1988.9,1399.6 L1990.9,1401.5 L1992.9,1403.5 L1994.9,1405.4 L1996.9,1407.2 L1998.9,1409.1 L2000.9,1410.9 L2002.9,1412.7 L2004.9,1414.4 L2006.9,1416.0 L2008.9,1417.7 L2010.9,1419.2 L2012.9,1420.7 L2014.9,1422.1 L2016.9,1423.5 L2018.9,1424.8 L2020.9,1426.0 L2022.9,1427.2 L2024.9,1428.3 L2026.9,1429.3 L2028.9,1430.3 L2030.9,1431.2 L2032.9,1432.0 L2034.9,1432.8 L2036.9,1433.5 L2038.9,1434.2 L2040.9,1434.8 L2042.9,1435.4 L2044.9,1436.0 L2046.9,1436.5 L2048.9,1436.9 L2050.9,1437.3 L2052.9,1437.7 L2054.9,1438.1 L2056.9,1438.4 L2058.9,1438.7 L2060.9,1439.0 L2062.9,1439.2 L2064.9,1439.4 L2066.9,1439.7 L2068.9,1439.8 L2070.9,1440.0 L2072.9,1440.2 L2074.9,1440.3 L2076.9,1440.5 L2078.9,1440.6 L2080.9,1440.7 L2082.9,1440.8 L2084.9,1440.9 L2086.9,1441.0 L2088.9,1441.1 L2090.9,1441.2 L2092.9,1441.2 L2094.9,1441.3 L2096.9,1441.4 L2098.9,1441.4 L2100.9,1441.5 L2102.9,1441.5 L2104.9,1441.6" fill="none" stroke="#000" stroke-width="3.4" stroke-linejoin="round"/>
<path d="M1658.9,1443.0 L1660.9,1443.0 L1662.9,1443.0 L1664.9,1443.0 L1666.9,1442.9 L1668.9,1442.9 L1670.9,1442.9 L1672.9,1442.9 L1674.9,1442.9 L1676.9,1442.9 L1678.9,1442.8 L1680.9,1442.8 L1682.9,1442.8 L1684.9,1442.8 L1686.9,1442.8 L1688.9,1442.7 L1690.9,1442.7 L1692.9,1442.7 L1694.9,1442.7 L1696.9,1442.6 L1698.9,1442.6 L1700.9,1442.6 L1702.9,1442.5 L1704.9,1442.5 L1706.9,1442.5 L1708.9,1442.4 L1710.9,1442.4 L1712.9,1442.4 L1714.9,1442.3 L1716.9,1442.3 L1718.9,1442.2 L1720.9,1442.2 L1722.9,1442.1 L1724.9,1442.0 L1726.9,1441.9 L1728.9,1441.9 L1730.9,1441.8 L1732.9,1441.7 L1734.9,1441.6 L1736.9,1441.4 L1738.9,1441.3 L1740.9,1441.1 L1742.9,1441.0 L1744.9,1440.8 L1746.9,1440.5 L1748.9,1440.3 L1750.9,1440.0 L1752.9,1439.7 L1754.9,1439.4 L1756.9,1439.0 L1758.9,1438.6 L1760.9,1438.1 L1762.9,1437.6 L1764.9,1437.1 L1766.9,1436.4 L1768.9,1435.8 L1770.9,1435.1 L1772.9,1434.3 L1774.9,1433.4 L1776.9,1432.5 L1778.9,1431.5 L1780.9,1430.5 L1782.9,1429.4 L1784.9,1428.2 L1786.9,1427.0 L1788.9,1425.7 L1790.9,1424.3 L1792.9,1422.9 L1794.9,1421.5 L1796.9,1420.0 L1798.9,1418.4 L1800.9,1416.9 L1802.9,1415.3 L1804.9,1413.7 L1806.9,1412.2 L1808.9,1410.7 L1810.9,1409.2 L1812.9,1407.7 L1814.9,1406.3 L1816.9,1405.0 L1818.9,1403.8 L1820.9,1402.8 L1822.9,1401.8 L1824.9,1401.0 L1826.9,1400.4 L1828.9,1399.9 L1830.9,1399.7 L1832.9,1399.6 L1834.9,1399.7 L1836.9,1400.0 L1838.9,1400.5 L1840.9,1401.2 L1842.9,1402.0 L1844.9,1403.0 L1846.9,1404.1 L1848.9,1405.3 L1850.9,1406.6 L1852.9,1408.0 L1854.9,1409.4 L1856.9,1411.0 L1858.9,1412.5 L1860.9,1414.1 L1862.9,1415.6 L1864.9,1417.2 L1866.9,1418.7 L1868.9,1420.3 L1870.9,1421.7 L1872.9,1423.2 L1874.9,1424.6 L1876.9,1425.9 L1878.9,1427.2 L1880.9,1428.4 L1882.9,1429.6 L1884.9,1430.7 L1886.9,1431.7 L1888.9,1432.7 L1890.9,1433.6 L1892.9,1434.4 L1894.9,1435.2 L1896.9,1435.9 L1898.9,1436.6 L1900.9,1437.2 L1902.9,1437.7 L1904.9,1438.2 L1906.9,1438.7 L1908.9,1439.1 L1910.9,1439.4 L1912.9,1439.8 L1914.9,1440.1 L1916.9,1440.3 L1918.9,1440.6 L1920.9,1440.8 L1922.9,1441.0 L1924.9,1441.2 L1926.9,1441.3 L1928.9,1441.5 L1930.9,1441.6 L1932.9,1441.7 L1934.9,1441.8 L1936.9,1441.9 L1938.9,1442.0 L1940.9,1442.0 L1942.9,1442.1 L1944.9,1442.2 L1946.9,1442.2 L1948.9,1442.3 L1950.9,1442.3 L1952.9,1442.4 L1954.9,1442.4 L1956.9,1442.5 L1958.9,1442.5 L1960.9,1442.5 L1962.9,1442.6 L1964.9,1442.6 L1966.9,1442.6 L1968.9,1442.6 L1970.9,1442.7 L1972.9,1442.7 L1974.9,1442.7 L1976.9,1442.7 L1978.9,1442.8 L1980.9,1442.8 L1982.9,1442.8 L1984.9,1442.8 L1986.9,1442.8 L1988.9,1442.9 L1990.9,1442.9 L1992.9,1442.9 L1994.9,1442.9 L1996.9,1442.9 L1998.9,1442.9 L2000.9,1443.0 L2002.9,1443.0 L2004.9,1443.0" fill="none" stroke="#0000ff" stroke-width="4.3" stroke-linejoin="round"/>
<path d="M1698.9,1443.0 L1700.9,1443.0 L1702.9,1443.0 L1704.9,1443.0 L1706.9,1443.0 L1708.9,1442.9 L1710.9,1442.9 L1712.9,1442.9 L1714.9,1442.9 L1716.9,1442.9 L1718.9,1442.9 L1720.9,1442.9 L1722.9,1442.9 L1724.9,1442.9 L1726.9,1442.8 L1728.9,1442.8 L1730.9,1442.8 L1732.9,1442.8 L1734.9,1442.8 L1736.9,1442.8 L1738.9,1442.8 L1740.9,1442.7 L1742.9,1442.7 L1744.9,1442.7 L1746.9,1442.7 L1748.9,1442.7 L1750.9,1442.7 L1752.9,1442.7 L1754.9,1442.6 L1756.9,1442.6 L1758.9,1442.6 L1760.9,1442.6 L1762.9,1442.6 L1764.9,1442.5 L1766.9,1442.5 L1768.9,1442.5 L1770.9,1442.5 L1772.9,1442.4 L1774.9,1442.4 L1776.9,1442.4 L1778.9,1442.4 L1780.9,1442.3 L1782.9,1442.3 L1784.9,1442.3 L1786.9,1442.3 L1788.9,1442.2 L1790.9,1442.2 L1792.9,1442.2 L1794.9,1442.1 L1796.9,1442.1 L1798.9,1442.0 L1800.9,1442.0 L1802.9,1442.0 L1804.9,1441.9 L1806.9,1441.9 L1808.9,1441.8 L1810.9,1441.8 L1812.9,1441.7 L1814.9,1441.6 L1816.9,1441.6 L1818.9,1441.5 L1820.9,1441.4 L1822.9,1441.4 L1824.9,1441.3 L1826.9,1441.2 L1828.9,1441.1 L1830.9,1441.0 L1832.9,1440.8 L1834.9,1440.7 L1836.9,1440.6 L1838.9,1440.4 L1840.9,1440.3 L1842.9,1440.1 L1844.9,1439.9 L1846.9,1439.6 L1848.9,1439.4 L1850.9,1439.1 L1852.9,1438.8 L1854.9,1438.5 L1856.9,1438.2 L1858.9,1437.8 L1860.9,1437.3 L1862.9,1436.9 L1864.9,1436.4 L1866.9,1435.9 L1868.9,1435.3 L1870.9,1434.6 L1872.9,1433.9 L1874.9,1433.2 L1876.9,1432.4 L1878.9,1431.6 L1880.9,1430.7 L1882.9,1429.7 L1884.9,1428.7 L1886.9,1427.6 L1888.9,1426.4 L1890.9,1425.2 L1892.9,1423.9 L1894.9,1422.5 L1896.9,1421.1 L1898.9,1419.6 L1900.9,1418.1 L1902.9,1416.5 L1904.9,1414.8 L1906.9,1413.1 L1908.9,1411.3 L1910.9,1409.5 L1912.9,1407.7 L1914.9,1405.9 L1916.9,1404.0 L1918.9,1402.1 L1920.9,1400.2 L1922.9,1398.3 L1924.9,1396.5 L1926.9,1394.7 L1928.9,1392.9 L1930.9,1391.2 L1932.9,1389.5 L1934.9,1387.9 L1936.9,1386.4 L1938.9,1385.1 L1940.9,1383.8 L1942.9,1382.7 L1944.9,1381.8 L1946.9,1381.0 L1948.9,1380.4 L1950.9,1379.9 L1952.9,1379.7 L1954.9,1379.6 L1956.9,1379.7 L1958.9,1380.0 L1960.9,1380.5 L1962.9,1381.2 L1964.9,1382.0 L1966.9,1383.0 L1968.9,1384.2 L1970.9,1385.5 L1972.9,1386.9 L1974.9,1388.4 L1976.9,1390.0 L1978.9,1391.7 L1980.9,1393.4 L1982.9,1395.2 L1984.9,1397.0 L1986.9,1398.9 L1988.9,1400.8 L1990.9,1402.7 L1992.9,1404.6 L1994.9,1406.4 L1996.9,1408.3 L1998.9,1410.1 L2000.9,1411.9 L2002.9,1413.6 L2004.9,1415.3 L2006.9,1416.9 L2008.9,1418.5 L2010.9,1420.1 L2012.9,1421.5 L2014.9,1422.9 L2016.9,1424.3 L2018.9,1425.5 L2020.9,1426.7 L2022.9,1427.9 L2024.9,1429.0 L2026.9,1430.0 L2028.9,1430.9 L2030.9,1431.8 L2032.9,1432.7 L2034.9,1433.4 L2036.9,1434.2 L2038.9,1434.8 L2040.9,1435.4 L2042.9,1436.0 L2044.9,1436.5 L2046.9,1437.0 L2048.9,1437.5 L2050.9,1437.9 L2052.9,1438.3 L2054.9,1438.6 L2056.9,1438.9 L2058.9,1439.2 L2060.9,1439.5 L2062.9,1439.7 L2064.9,1439.9 L2066.9,1440.1 L2068.9,1440.3 L2070.9,1440.5 L2072.9,1440.6 L2074.9,1440.8 L2076.9,1440.9 L2078.9,1441.0 L2080.9,1441.1 L2082.9,1441.2 L2084.9,1441.3 L2086.9,1441.4 L2088.9,1441.5 L2090.9,1441.5 L2092.9,1441.6 L2094.9,1441.7 L2096.9,1441.7 L2098.9,1441.8 L2100.9,1441.8 L2102.9,1441.9 L2104.9,1441.9" fill="none" stroke="#0000ff" stroke-width="4.3" stroke-linejoin="round"/>
<path d="M1716.9,1442.9 L1718.9,1442.8 L1720.9,1442.7 L1722.9,1442.6 L1724.9,1442.5 L1726.9,1442.3 L1728.9,1442.2 L1730.9,1442.0 L1732.9,1441.8 L1734.9,1441.5 L1736.9,1441.3 L1738.9,1441.0 L1740.9,1440.6 L1742.9,1440.3 L1744.9,1439.9 L1746.9,1439.5 L1748.9,1439.1 L1750.9,1438.6 L1752.9,1438.2 L1754.9,1437.7 L1756.9,1437.2 L1758.9,1436.7 L1760.9,1436.2 L1762.9,1435.7 L1764.9,1435.2 L1766.9,1434.7 L1768.9,1434.3 L1770.9,1433.9 L1772.9,1433.5 L1774.9,1433.2 L1776.9,1433.0 L1778.9,1432.8 L1780.9,1432.6 L1782.9,1432.6 L1784.9,1432.6 L1786.9,1432.7 L1788.9,1432.9 L1790.9,1433.1 L1792.9,1433.4 L1794.9,1433.8 L1796.9,1434.2 L1798.9,1434.6 L1800.9,1435.1 L1802.9,1435.5 L1804.9,1436.0 L1806.9,1436.5 L1808.9,1437.0 L1810.9,1437.5 L1812.9,1438.0 L1814.9,1438.5 L1816.9,1439.0 L1818.9,1439.4 L1820.9,1439.8 L1822.9,1440.2 L1824.9,1440.5 L1826.9,1440.9 L1828.9,1441.2 L1830.9,1441.5 L1832.9,1441.7 L1834.9,1441.9 L1836.9,1442.1 L1838.9,1442.3 L1840.9,1442.5 L1842.9,1442.6 L1844.9,1442.7 L1846.9,1442.8 L1848.9,1442.9 L1850.9,1443.0" fill="none" stroke="#ff0000" stroke-width="4.3" stroke-linejoin="round"/>
<path d="M1820.9,1443.0 L1822.9,1442.9 L1824.9,1442.9 L1826.9,1442.8 L1828.9,1442.7 L1830.9,1442.6 L1832.9,1442.5 L1834.9,1442.3 L1836.9,1442.2 L1838.9,1442.0 L1840.9,1441.8 L1842.9,1441.5 L1844.9,1441.3 L1846.9,1441.0 L1848.9,1440.7 L1850.9,1440.3 L1852.9,1439.9 L1854.9,1439.5 L1856.9,1439.1 L1858.9,1438.6 L1860.9,1438.1 L1862.9,1437.5 L1864.9,1437.0 L1866.9,1436.4 L1868.9,1435.8 L1870.9,1435.1 L1872.9,1434.5 L1874.9,1433.8 L1876.9,1433.2 L1878.9,1432.6 L1880.9,1432.0 L1882.9,1431.4 L1884.9,1430.8 L1886.9,1430.3 L1888.9,1429.8 L1890.9,1429.4 L1892.9,1429.1 L1894.9,1428.9 L1896.9,1428.7 L1898.9,1428.6 L1900.9,1428.6 L1902.9,1428.7 L1904.9,1428.9 L1906.9,1429.1 L1908.9,1429.5 L1910.9,1429.9 L1912.9,1430.3 L1914.9,1430.9 L1916.9,1431.4 L1918.9,1432.0 L1920.9,1432.6 L1922.9,1433.3 L1924.9,1433.9 L1926.9,1434.6 L1928.9,1435.2 L1930.9,1435.8 L1932.9,1436.4 L1934.9,1437.0 L1936.9,1437.6 L1938.9,1438.1 L1940.9,1438.6 L1942.9,1439.1 L1944.9,1439.6 L1946.9,1440.0 L1948.9,1440.4 L1950.9,1440.7 L1952.9,1441.0 L1954.9,1441.3 L1956.9,1441.6 L1958.9,1441.8 L1960.9,1442.0 L1962.9,1442.2 L1964.9,1442.3 L1966.9,1442.5 L1968.9,1442.6 L1970.9,1442.7 L1972.9,1442.8 L1974.9,1442.9 L1976.9,1442.9" fill="none" stroke="#ff0000" stroke-width="4.3" stroke-linejoin="round"/>
<line x1="1474.9" y1="1443.6" x2="2105.2" y2="1443.6" stroke="#ff0000" stroke-width="6.5"/>
<path d="M1536.9,1577.9 L1538.9,1577.9 L1540.9,1577.9 L1542.9,1577.9 L1544.9,1577.9 L1546.9,1577.8 L1548.9,1577.8 L1550.9,1577.8 L1552.9,1577.8 L1554.9,1577.8 L1556.9,1577.8 L1558.9,1577.8 L1560.9,1577.8 L1562.9,1577.8 L1564.9,1577.8 L1566.9,1577.7 L1568.9,1577.7 L1570.9,1577.7 L1572.9,1577.7 L1574.9,1577.7 L1576.9,1577.7 L1578.9,1577.7 L1580.9,1577.6 L1582.9,1577.6 L1584.9,1577.6 L1586.9,1577.6 L1588.9,1577.6 L1590.9,1577.6 L1592.9,1577.6 L1594.9,1577.5 L1596.9,1577.5 L1598.9,1577.5 L1600.9,1577.5 L1602.9,1577.5 L1604.9,1577.4 L1606.9,1577.4 L1608.9,1577.4 L1610.9,1577.4 L1612.9,1577.4 L1614.9,1577.3 L1616.9,1577.3 L1618.9,1577.3 L1620.9,1577.3 L1622.9,1577.2 L1624.9,1577.2 L1626.9,1577.2 L1628.9,1577.2 L1630.9,1577.1 L1632.9,1577.1 L1634.9,1577.1 L1636.9,1577.0 L1638.9,1577.0 L1640.9,1577.0 L1642.9,1576.9 L1644.9,1576.9 L1646.9,1576.9 L1648.9,1576.8 L1650.9,1576.8 L1652.9,1576.7 L1654.9,1576.7 L1656.9,1576.7 L1658.9,1576.6 L1660.9,1576.6 L1662.9,1576.5 L1664.9,1576.4 L1666.9,1576.4 L1668.9,1576.3 L1670.9,1576.3 L1672.9,1576.2 L1674.9,1576.1 L1676.9,1576.0 L1678.9,1575.9 L1680.9,1575.8 L1682.9,1575.7 L1684.9,1575.6 L1686.9,1575.5 L1688.9,1575.3 L1690.9,1575.2 L1692.9,1575.0 L1694.9,1574.9 L1696.9,1574.7 L1698.9,1574.5 L1700.9,1574.2 L1702.9,1574.0 L1704.9,1573.7 L1706.9,1573.4 L1708.9,1573.0 L1710.9,1572.7 L1712.9,1572.3 L1714.9,1571.8 L1716.9,1571.3 L1718.9,1570.8 L1720.9,1570.2 L1722.9,1569.6 L1724.9,1568.9 L1726.9,1568.1 L1728.9,1567.3 L1730.9,1566.5 L1732.9,1565.5 L1734.9,1564.5 L1736.9,1563.4 L1738.9,1562.3 L1740.9,1561.0 L1742.9,1559.7 L1744.9,1558.3 L1746.9,1556.8 L1748.9,1555.3 L1750.9,1553.6 L1752.9,1551.9 L1754.9,1550.1 L1756.9,1548.2 L1758.9,1546.3 L1760.9,1544.3 L1762.9,1542.2 L1764.9,1540.1 L1766.9,1537.9 L1768.9,1535.7 L1770.9,1533.4 L1772.9,1531.1 L1774.9,1528.9 L1776.9,1526.6 L1778.9,1524.3 L1780.9,1522.1 L1782.9,1519.8 L1784.9,1517.7 L1786.9,1515.6 L1788.9,1513.6 L1790.9,1511.8 L1792.9,1510.0 L1794.9,1508.4 L1796.9,1507.0 L1798.9,1505.7 L1800.9,1504.6 L1802.9,1503.8 L1804.9,1503.1 L1806.9,1502.7 L1808.9,1502.5 L1810.9,1502.6 L1812.9,1502.8 L1814.9,1503.4 L1816.9,1504.1 L1818.9,1505.0 L1820.9,1506.2 L1822.9,1507.5 L1824.9,1509.0 L1826.9,1510.7 L1828.9,1512.5 L1830.9,1514.4 L1832.9,1516.4 L1834.9,1518.6 L1836.9,1520.7 L1838.9,1522.9 L1840.9,1525.2 L1842.9,1527.5 L1844.9,1529.8 L1846.9,1532.1 L1848.9,1534.3 L1850.9,1536.6 L1852.9,1538.8 L1854.9,1540.9 L1856.9,1543.0 L1858.9,1545.1 L1860.9,1547.1 L1862.9,1549.0 L1864.9,1550.8 L1866.9,1552.6 L1868.9,1554.3 L1870.9,1555.9 L1872.9,1557.4 L1874.9,1558.9 L1876.9,1560.2 L1878.9,1561.5 L1880.9,1562.7 L1882.9,1563.9 L1884.9,1564.9 L1886.9,1565.9 L1888.9,1566.8 L1890.9,1567.7 L1892.9,1568.4 L1894.9,1569.2 L1896.9,1569.8 L1898.9,1570.4 L1900.9,1571.0 L1902.9,1571.5 L1904.9,1572.0 L1906.9,1572.4 L1908.9,1572.8 L1910.9,1573.2 L1912.9,1573.5 L1914.9,1573.8 L1916.9,1574.1 L1918.9,1574.3 L1920.9,1574.5 L1922.9,1574.7 L1924.9,1574.9 L1926.9,1575.1 L1928.9,1575.3 L1930.9,1575.4 L1932.9,1575.5 L1934.9,1575.7 L1936.9,1575.8 L1938.9,1575.9 L1940.9,1576.0 L1942.9,1576.1 L1944.9,1576.1 L1946.9,1576.2 L1948.9,1576.3 L1950.9,1576.3 L1952.9,1576.4 L1954.9,1576.5 L1956.9,1576.5 L1958.9,1576.6 L1960.9,1576.6 L1962.9,1576.7 L1964.9,1576.7 L1966.9,1576.8 L1968.9,1576.8 L1970.9,1576.8 L1972.9,1576.9 L1974.9,1576.9 L1976.9,1577.0 L1978.9,1577.0 L1980.9,1577.0 L1982.9,1577.1 L1984.9,1577.1 L1986.9,1577.1 L1988.9,1577.1 L1990.9,1577.2 L1992.9,1577.2 L1994.9,1577.2 L1996.9,1577.3 L1998.9,1577.3 L2000.9,1577.3 L2002.9,1577.3 L2004.9,1577.4 L2006.9,1577.4 L2008.9,1577.4 L2010.9,1577.4 L2012.9,1577.4 L2014.9,1577.5 L2016.9,1577.5 L2018.9,1577.5 L2020.9,1577.5 L2022.9,1577.5 L2024.9,1577.5 L2026.9,1577.6 L2028.9,1577.6 L2030.9,1577.6 L2032.9,1577.6 L2034.9,1577.6 L2036.9,1577.6 L2038.9,1577.7 L2040.9,1577.7 L2042.9,1577.7 L2044.9,1577.7 L2046.9,1577.7 L2048.9,1577.7 L2050.9,1577.7 L2052.9,1577.7 L2054.9,1577.8 L2056.9,1577.8 L2058.9,1577.8 L2060.9,1577.8 L2062.9,1577.8 L2064.9,1577.8 L2066.9,1577.8 L2068.9,1577.8 L2070.9,1577.8 L2072.9,1577.9 L2074.9,1577.9 L2076.9,1577.9 L2078.9,1577.9 L2080.9,1577.9 L2082.9,1577.9 L2082.9,1578.5 L1536.9,1578.5 Z" fill="url(#gB)" stroke="none"/>
<path d="M1702.9,1577.9 L1704.9,1577.9 L1706.9,1577.9 L1708.9,1577.9 L1710.9,1577.9 L1712.9,1577.8 L1714.9,1577.8 L1716.9,1577.8 L1718.9,1577.8 L1720.9,1577.8 L1722.9,1577.8 L1724.9,1577.8 L1726.9,1577.8 L1728.9,1577.7 L1730.9,1577.7 L1732.9,1577.7 L1734.9,1577.7 L1736.9,1577.7 L1738.9,1577.7 L1740.9,1577.6 L1742.9,1577.6 L1744.9,1577.6 L1746.9,1577.6 L1748.9,1577.6 L1750.9,1577.6 L1752.9,1577.5 L1754.9,1577.5 L1756.9,1577.5 L1758.9,1577.5 L1760.9,1577.5 L1762.9,1577.4 L1764.9,1577.4 L1766.9,1577.4 L1768.9,1577.4 L1770.9,1577.3 L1772.9,1577.3 L1774.9,1577.3 L1776.9,1577.3 L1778.9,1577.2 L1780.9,1577.2 L1782.9,1577.2 L1784.9,1577.1 L1786.9,1577.1 L1788.9,1577.1 L1790.9,1577.0 L1792.9,1577.0 L1794.9,1576.9 L1796.9,1576.9 L1798.9,1576.9 L1800.9,1576.8 L1802.9,1576.8 L1804.9,1576.7 L1806.9,1576.7 L1808.9,1576.6 L1810.9,1576.5 L1812.9,1576.5 L1814.9,1576.4 L1816.9,1576.3 L1818.9,1576.2 L1820.9,1576.2 L1822.9,1576.1 L1824.9,1576.0 L1826.9,1575.9 L1828.9,1575.7 L1830.9,1575.6 L1832.9,1575.5 L1834.9,1575.3 L1836.9,1575.1 L1838.9,1574.9 L1840.9,1574.7 L1842.9,1574.5 L1844.9,1574.2 L1846.9,1573.9 L1848.9,1573.6 L1850.9,1573.2 L1852.9,1572.8 L1854.9,1572.3 L1856.9,1571.8 L1858.9,1571.2 L1860.9,1570.6 L1862.9,1569.9 L1864.9,1569.2 L1866.9,1568.3 L1868.9,1567.4 L1870.9,1566.4 L1872.9,1565.3 L1874.9,1564.1 L1876.9,1562.8 L1878.9,1561.4 L1880.9,1559.9 L1882.9,1558.3 L1884.9,1556.6 L1886.9,1554.8 L1888.9,1552.8 L1890.9,1550.8 L1892.9,1548.7 L1894.9,1546.5 L1896.9,1544.1 L1898.9,1541.7 L1900.9,1539.3 L1902.9,1536.7 L1904.9,1534.1 L1906.9,1531.5 L1908.9,1528.9 L1910.9,1526.2 L1912.9,1523.6 L1914.9,1521.0 L1916.9,1518.5 L1918.9,1516.1 L1920.9,1513.8 L1922.9,1511.6 L1924.9,1509.6 L1926.9,1507.9 L1928.9,1506.3 L1930.9,1504.9 L1932.9,1503.9 L1934.9,1503.1 L1936.9,1502.7 L1938.9,1502.5 L1940.9,1502.7 L1942.9,1503.1 L1944.9,1503.9 L1946.9,1504.9 L1948.9,1506.3 L1950.9,1507.9 L1952.9,1509.6 L1954.9,1511.6 L1956.9,1513.8 L1958.9,1516.1 L1960.9,1518.5 L1962.9,1521.0 L1964.9,1523.6 L1966.9,1526.2 L1968.9,1528.9 L1970.9,1531.5 L1972.9,1534.1 L1974.9,1536.7 L1976.9,1539.3 L1978.9,1541.7 L1980.9,1544.1 L1982.9,1546.5 L1984.9,1548.7 L1986.9,1550.8 L1988.9,1552.8 L1990.9,1554.8 L1992.9,1556.6 L1994.9,1558.3 L1996.9,1559.9 L1998.9,1561.4 L2000.9,1562.8 L2002.9,1564.1 L2004.9,1565.3 L2006.9,1566.4 L2008.9,1567.4 L2010.9,1568.3 L2012.9,1569.2 L2014.9,1569.9 L2016.9,1570.6 L2018.9,1571.2 L2020.9,1571.8 L2022.9,1572.3 L2024.9,1572.8 L2026.9,1573.2 L2028.9,1573.6 L2030.9,1573.9 L2032.9,1574.2 L2034.9,1574.5 L2036.9,1574.7 L2038.9,1574.9 L2040.9,1575.1 L2042.9,1575.3 L2044.9,1575.5 L2046.9,1575.6 L2048.9,1575.7 L2050.9,1575.9 L2052.9,1576.0 L2054.9,1576.1 L2056.9,1576.2 L2058.9,1576.2 L2060.9,1576.3 L2062.9,1576.4 L2064.9,1576.5 L2066.9,1576.5 L2068.9,1576.6 L2070.9,1576.7 L2072.9,1576.7 L2074.9,1576.8 L2076.9,1576.8 L2078.9,1576.9 L2080.9,1576.9 L2082.9,1576.9 L2084.9,1577.0 L2086.9,1577.0 L2088.9,1577.1 L2090.9,1577.1 L2092.9,1577.1 L2094.9,1577.2 L2096.9,1577.2 L2098.9,1577.2 L2100.9,1577.3 L2102.9,1577.3 L2104.9,1577.3 L2104.9,1578.5 L1702.9,1578.5 Z" fill="url(#gB)" stroke="none"/>
<path d="M1582.9,1577.9 L1584.9,1577.9 L1586.9,1577.8 L1588.9,1577.8 L1590.9,1577.7 L1592.9,1577.7 L1594.9,1577.6 L1596.9,1577.6 L1598.9,1577.5 L1600.9,1577.5 L1602.9,1577.4 L1604.9,1577.3 L1606.9,1577.2 L1608.9,1577.2 L1610.9,1577.1 L1612.9,1577.0 L1614.9,1576.9 L1616.9,1576.7 L1618.9,1576.6 L1620.9,1576.5 L1622.9,1576.3 L1624.9,1576.2 L1626.9,1576.0 L1628.9,1575.8 L1630.9,1575.6 L1632.9,1575.4 L1634.9,1575.2 L1636.9,1575.0 L1638.9,1574.8 L1640.9,1574.5 L1642.9,1574.3 L1644.9,1574.0 L1646.9,1573.7 L1648.9,1573.4 L1650.9,1573.1 L1652.9,1572.8 L1654.9,1572.4 L1656.9,1572.1 L1658.9,1571.7 L1660.9,1571.3 L1662.9,1571.0 L1664.9,1570.6 L1666.9,1570.2 L1668.9,1569.8 L1670.9,1569.4 L1672.9,1568.9 L1674.9,1568.5 L1676.9,1568.1 L1678.9,1567.7 L1680.9,1567.3 L1682.9,1566.8 L1684.9,1566.4 L1686.9,1566.0 L1688.9,1565.6 L1690.9,1565.2 L1692.9,1564.8 L1694.9,1564.4 L1696.9,1564.1 L1698.9,1563.7 L1700.9,1563.4 L1702.9,1563.1 L1704.9,1562.8 L1706.9,1562.5 L1708.9,1562.3 L1710.9,1562.1 L1712.9,1561.9 L1714.9,1561.8 L1716.9,1561.6 L1718.9,1561.6 L1720.9,1561.5 L1722.9,1561.5 L1724.9,1561.5 L1726.9,1561.6 L1728.9,1561.7 L1730.9,1561.8 L1732.9,1561.9 L1734.9,1562.1 L1736.9,1562.3 L1738.9,1562.6 L1740.9,1562.8 L1742.9,1563.1 L1744.9,1563.4 L1746.9,1563.7 L1748.9,1564.1 L1750.9,1564.5 L1752.9,1564.8 L1754.9,1565.2 L1756.9,1565.6 L1758.9,1566.0 L1760.9,1566.5 L1762.9,1566.9 L1764.9,1567.3 L1766.9,1567.7 L1768.9,1568.1 L1770.9,1568.6 L1772.9,1569.0 L1774.9,1569.4 L1776.9,1569.8 L1778.9,1570.2 L1780.9,1570.6 L1782.9,1571.0 L1784.9,1571.4 L1786.9,1571.8 L1788.9,1572.1 L1790.9,1572.5 L1792.9,1572.8 L1794.9,1573.1 L1796.9,1573.4 L1798.9,1573.7 L1800.9,1574.0 L1802.9,1574.3 L1804.9,1574.5 L1806.9,1574.8 L1808.9,1575.0 L1810.9,1575.2 L1812.9,1575.5 L1814.9,1575.7 L1816.9,1575.8 L1818.9,1576.0 L1820.9,1576.2 L1822.9,1576.3 L1824.9,1576.5 L1826.9,1576.6 L1828.9,1576.7 L1830.9,1576.9 L1832.9,1577.0 L1834.9,1577.1 L1836.9,1577.2 L1838.9,1577.3 L1840.9,1577.3 L1842.9,1577.4 L1844.9,1577.5 L1846.9,1577.5 L1848.9,1577.6 L1850.9,1577.7 L1852.9,1577.7 L1854.9,1577.7 L1856.9,1577.8 L1858.9,1577.8 L1860.9,1577.9 L1862.9,1577.9 L1862.9,1578.5 L1582.9,1578.5 Z" fill="url(#gR)" stroke="none"/>
<path d="M1770.9,1577.9 L1772.9,1577.8 L1774.9,1577.8 L1776.9,1577.8 L1778.9,1577.7 L1780.9,1577.7 L1782.9,1577.6 L1784.9,1577.5 L1786.9,1577.5 L1788.9,1577.4 L1790.9,1577.3 L1792.9,1577.2 L1794.9,1577.1 L1796.9,1577.0 L1798.9,1576.9 L1800.9,1576.7 L1802.9,1576.6 L1804.9,1576.4 L1806.9,1576.2 L1808.9,1576.0 L1810.9,1575.8 L1812.9,1575.5 L1814.9,1575.3 L1816.9,1575.0 L1818.9,1574.7 L1820.9,1574.4 L1822.9,1574.0 L1824.9,1573.6 L1826.9,1573.2 L1828.9,1572.8 L1830.9,1572.4 L1832.9,1571.9 L1834.9,1571.4 L1836.9,1570.9 L1838.9,1570.4 L1840.9,1569.8 L1842.9,1569.3 L1844.9,1568.7 L1846.9,1568.1 L1848.9,1567.5 L1850.9,1566.9 L1852.9,1566.2 L1854.9,1565.6 L1856.9,1564.9 L1858.9,1564.3 L1860.9,1563.7 L1862.9,1563.0 L1864.9,1562.4 L1866.9,1561.8 L1868.9,1561.2 L1870.9,1560.7 L1872.9,1560.2 L1874.9,1559.7 L1876.9,1559.2 L1878.9,1558.8 L1880.9,1558.5 L1882.9,1558.2 L1884.9,1557.9 L1886.9,1557.7 L1888.9,1557.6 L1890.9,1557.5 L1892.9,1557.5 L1894.9,1557.6 L1896.9,1557.7 L1898.9,1557.8 L1900.9,1558.1 L1902.9,1558.4 L1904.9,1558.7 L1906.9,1559.1 L1908.9,1559.5 L1910.9,1560.0 L1912.9,1560.5 L1914.9,1561.1 L1916.9,1561.6 L1918.9,1562.2 L1920.9,1562.8 L1922.9,1563.5 L1924.9,1564.1 L1926.9,1564.7 L1928.9,1565.4 L1930.9,1566.0 L1932.9,1566.7 L1934.9,1567.3 L1936.9,1567.9 L1938.9,1568.5 L1940.9,1569.1 L1942.9,1569.7 L1944.9,1570.2 L1946.9,1570.8 L1948.9,1571.3 L1950.9,1571.8 L1952.9,1572.3 L1954.9,1572.7 L1956.9,1573.1 L1958.9,1573.5 L1960.9,1573.9 L1962.9,1574.3 L1964.9,1574.6 L1966.9,1574.9 L1968.9,1575.2 L1970.9,1575.4 L1972.9,1575.7 L1974.9,1575.9 L1976.9,1576.1 L1978.9,1576.3 L1980.9,1576.5 L1982.9,1576.7 L1984.9,1576.8 L1986.9,1576.9 L1988.9,1577.1 L1990.9,1577.2 L1992.9,1577.3 L1994.9,1577.4 L1996.9,1577.5 L1998.9,1577.5 L2000.9,1577.6 L2002.9,1577.7 L2004.9,1577.7 L2006.9,1577.8 L2008.9,1577.8 L2010.9,1577.8 L2012.9,1577.9 L2012.9,1578.5 L1770.9,1578.5 Z" fill="url(#gR)" stroke="none"/>
<path d="M1474.9,1577.7 L1476.9,1577.7 L1478.9,1577.7 L1480.9,1577.6 L1482.9,1577.6 L1484.9,1577.6 L1486.9,1577.6 L1488.9,1577.6 L1490.9,1577.6 L1492.9,1577.5 L1494.9,1577.5 L1496.9,1577.5 L1498.9,1577.5 L1500.9,1577.4 L1502.9,1577.4 L1504.9,1577.4 L1506.9,1577.3 L1508.9,1577.3 L1510.9,1577.3 L1512.9,1577.2 L1514.9,1577.2 L1516.9,1577.2 L1518.9,1577.1 L1520.9,1577.1 L1522.9,1577.0 L1524.9,1577.0 L1526.9,1576.9 L1528.9,1576.8 L1530.9,1576.8 L1532.9,1576.7 L1534.9,1576.6 L1536.9,1576.5 L1538.9,1576.5 L1540.9,1576.4 L1542.9,1576.3 L1544.9,1576.2 L1546.9,1576.1 L1548.9,1576.0 L1550.9,1575.9 L1552.9,1575.8 L1554.9,1575.6 L1556.9,1575.5 L1558.9,1575.4 L1560.9,1575.2 L1562.9,1575.1 L1564.9,1574.9 L1566.9,1574.8 L1568.9,1574.6 L1570.9,1574.4 L1572.9,1574.2 L1574.9,1574.0 L1576.9,1573.9 L1578.9,1573.6 L1580.9,1573.4 L1582.9,1573.2 L1584.9,1573.0 L1586.9,1572.8 L1588.9,1572.5 L1590.9,1572.3 L1592.9,1572.0 L1594.9,1571.7 L1596.9,1571.5 L1598.9,1571.2 L1600.9,1570.9 L1602.9,1570.6 L1604.9,1570.3 L1606.9,1570.0 L1608.9,1569.6 L1610.9,1569.3 L1612.9,1569.0 L1614.9,1568.6 L1616.9,1568.3 L1618.9,1567.9 L1620.9,1567.6 L1622.9,1567.2 L1624.9,1566.8 L1626.9,1566.4 L1628.9,1566.0 L1630.9,1565.6 L1632.9,1565.2 L1634.9,1564.8 L1636.9,1564.3 L1638.9,1563.9 L1640.9,1563.5 L1642.9,1563.0 L1644.9,1562.6 L1646.9,1562.1 L1648.9,1561.7 L1650.9,1561.2 L1652.9,1560.7 L1654.9,1560.3 L1656.9,1559.8 L1658.9,1559.3 L1660.9,1558.8 L1662.9,1558.4 L1664.9,1557.9 L1666.9,1557.4 L1668.9,1556.9 L1670.9,1556.4 L1672.9,1556.0 L1674.9,1555.5 L1676.9,1555.0 L1678.9,1554.5 L1680.9,1554.1 L1682.9,1553.6 L1684.9,1553.1 L1686.9,1552.7 L1688.9,1552.2 L1690.9,1551.8 L1692.9,1551.3 L1694.9,1550.9 L1696.9,1550.5 L1698.9,1550.0 L1700.9,1549.6 L1702.9,1549.2 L1704.9,1548.8 L1706.9,1548.4 L1708.9,1548.0 L1710.9,1547.6 L1712.9,1547.2 L1714.9,1546.7 L1716.9,1546.3 L1718.9,1545.9 L1720.9,1545.4 L1722.9,1545.0 L1724.9,1544.5 L1726.9,1544.0 L1728.9,1543.4 L1730.9,1542.8 L1732.9,1542.2 L1734.9,1541.6 L1736.9,1540.9 L1738.9,1540.1 L1740.9,1539.3 L1742.9,1538.5 L1744.9,1537.5 L1746.9,1536.5 L1748.9,1535.5 L1750.9,1534.4 L1752.9,1533.2 L1754.9,1531.9 L1756.9,1530.6 L1758.9,1529.1 L1760.9,1527.7 L1762.9,1526.1 L1764.9,1524.5 L1766.9,1522.9 L1768.9,1521.1 L1770.9,1519.4 L1772.9,1517.6 L1774.9,1515.8 L1776.9,1514.0 L1778.9,1512.1 L1780.9,1510.3 L1782.9,1508.5 L1784.9,1506.7 L1786.9,1505.0 L1788.9,1503.4 L1790.9,1501.8 L1792.9,1500.3 L1794.9,1499.0 L1796.9,1497.8 L1798.9,1496.7 L1800.9,1495.8 L1802.9,1495.1 L1804.9,1494.5 L1806.9,1494.1 L1808.9,1494.0 L1810.9,1494.0 L1812.9,1494.2 L1814.9,1494.7 L1816.9,1495.3 L1818.9,1496.1 L1820.9,1497.0 L1822.9,1498.1 L1824.9,1499.3 L1826.9,1500.6 L1828.9,1502.0 L1830.9,1503.5 L1832.9,1505.1 L1834.9,1506.7 L1836.9,1508.3 L1838.9,1509.9 L1840.9,1511.4 L1842.9,1513.0 L1844.9,1514.5 L1846.9,1516.0 L1848.9,1517.4 L1850.9,1518.7 L1852.9,1519.9 L1854.9,1521.0 L1856.9,1522.0 L1858.9,1522.9 L1860.9,1523.6 L1862.9,1524.3 L1864.9,1524.8 L1866.9,1525.1 L1868.9,1525.4 L1870.9,1525.4 L1872.9,1525.4 L1874.9,1525.2 L1876.9,1524.8 L1878.9,1524.3 L1880.9,1523.7 L1882.9,1522.9 L1884.9,1522.0 L1886.9,1521.0 L1888.9,1519.9 L1890.9,1518.6 L1892.9,1517.3 L1894.9,1515.8 L1896.9,1514.3 L1898.9,1512.7 L1900.9,1511.0 L1902.9,1509.3 L1904.9,1507.5 L1906.9,1505.7 L1908.9,1503.9 L1910.9,1502.1 L1912.9,1500.4 L1914.9,1498.6 L1916.9,1496.9 L1918.9,1495.3 L1920.9,1493.9 L1922.9,1492.5 L1924.9,1491.3 L1926.9,1490.2 L1928.9,1489.4 L1930.9,1488.8 L1932.9,1488.3 L1934.9,1488.2 L1936.9,1488.2 L1938.9,1488.6 L1940.9,1489.1 L1942.9,1489.9 L1944.9,1491.0 L1946.9,1492.2 L1948.9,1493.6 L1950.9,1495.2 L1952.9,1497.0 L1954.9,1498.9 L1956.9,1500.9 L1958.9,1503.1 L1960.9,1505.3 L1962.9,1507.7 L1964.9,1510.1 L1966.9,1512.6 L1968.9,1515.2 L1970.9,1517.9 L1972.9,1520.6 L1974.9,1523.4 L1976.9,1526.2 L1978.9,1529.1 L1980.9,1532.0 L1982.9,1534.9 L1984.9,1537.7 L1986.9,1540.6 L1988.9,1543.3 L1990.9,1546.0 L1992.9,1548.6 L1994.9,1551.0 L1996.9,1553.3 L1998.9,1555.5 L2000.9,1557.5 L2002.9,1559.4 L2004.9,1561.1 L2006.9,1562.6 L2008.9,1564.0 L2010.9,1565.3 L2012.9,1566.4 L2014.9,1567.5 L2016.9,1568.4 L2018.9,1569.2 L2020.9,1569.9 L2022.9,1570.5 L2024.9,1571.1 L2026.9,1571.6 L2028.9,1572.0 L2030.9,1574.4 L2032.9,1574.8 L2034.9,1575.1 L2036.9,1575.4 L2038.9,1575.6 L2040.9,1575.8 L2042.9,1576.0 L2044.9,1576.2 L2046.9,1576.4 L2048.9,1576.5 L2050.9,1576.7 L2052.9,1576.8 L2054.9,1576.9 L2056.9,1577.0 L2058.9,1577.2 L2060.9,1577.3 L2062.9,1577.3 L2064.9,1577.4 L2066.9,1577.5 L2068.9,1577.6 L2070.9,1577.7 L2072.9,1577.7 L2074.9,1577.8 L2076.9,1577.9 L2078.9,1577.9 L2080.9,1578.0 L2082.9,1578.0 L2084.9,1578.1 L2086.9,1578.1 L2088.9,1578.2 L2090.9,1578.2 L2092.9,1578.3 L2094.9,1578.3 L2096.9,1578.4 L2098.9,1578.4 L2100.9,1578.5 L2102.9,1578.5 L2104.9,1578.5" fill="none" stroke="#6e1470" stroke-width="4" stroke-dasharray="5,7" stroke-linecap="round"/>
<path d="M1474.9,1577.7 L1476.9,1577.7 L1478.9,1577.7 L1480.9,1577.7 L1482.9,1577.7 L1484.9,1577.7 L1486.9,1577.7 L1488.9,1577.7 L1490.9,1577.6 L1492.9,1577.6 L1494.9,1577.6 L1496.9,1577.6 L1498.9,1577.6 L1500.9,1577.6 L1502.9,1577.6 L1504.9,1577.6 L1506.9,1577.6 L1508.9,1577.5 L1510.9,1577.5 L1512.9,1577.5 L1514.9,1577.5 L1516.9,1577.5 L1518.9,1577.5 L1520.9,1577.4 L1522.9,1577.4 L1524.9,1577.4 L1526.9,1577.4 L1528.9,1577.4 L1530.9,1577.4 L1532.9,1577.3 L1534.9,1577.3 L1536.9,1577.3 L1538.9,1577.3 L1540.9,1577.3 L1542.9,1577.2 L1544.9,1577.2 L1546.9,1577.2 L1548.9,1577.2 L1550.9,1577.1 L1552.9,1577.1 L1554.9,1577.1 L1556.9,1577.0 L1558.9,1577.0 L1560.9,1577.0 L1562.9,1576.9 L1564.9,1576.9 L1566.9,1576.8 L1568.9,1576.8 L1570.9,1576.7 L1572.9,1576.7 L1574.9,1576.6 L1576.9,1576.6 L1578.9,1576.5 L1580.9,1576.4 L1582.9,1576.4 L1584.9,1576.3 L1586.9,1576.2 L1588.9,1576.1 L1590.9,1576.1 L1592.9,1576.0 L1594.9,1575.9 L1596.9,1575.8 L1598.9,1575.6 L1600.9,1575.5 L1602.9,1575.4 L1604.9,1575.3 L1606.9,1575.1 L1608.9,1575.0 L1610.9,1574.8 L1612.9,1574.6 L1614.9,1574.5 L1616.9,1574.3 L1618.9,1574.1 L1620.9,1573.9 L1622.9,1573.6 L1624.9,1573.4 L1626.9,1573.1 L1628.9,1572.9 L1630.9,1572.6 L1632.9,1572.3 L1634.9,1572.0 L1636.9,1571.7 L1638.9,1571.4 L1640.9,1571.0 L1642.9,1570.7 L1644.9,1570.3 L1646.9,1569.9 L1648.9,1569.5 L1650.9,1569.1 L1652.9,1568.7 L1654.9,1568.2 L1656.9,1567.8 L1658.9,1567.3 L1660.9,1566.8 L1662.9,1566.4 L1664.9,1565.9 L1666.9,1565.3 L1668.9,1564.8 L1670.9,1564.3 L1672.9,1563.7 L1674.9,1563.2 L1676.9,1562.6 L1678.9,1562.1 L1680.9,1561.5 L1682.9,1561.0 L1684.9,1560.4 L1686.9,1559.8 L1688.9,1559.2 L1690.9,1558.7 L1692.9,1558.1 L1694.9,1557.5 L1696.9,1556.9 L1698.9,1556.4 L1700.9,1555.8 L1702.9,1555.2 L1704.9,1554.6 L1706.9,1554.1 L1708.9,1553.5 L1710.9,1552.9 L1712.9,1552.3 L1714.9,1551.7 L1716.9,1551.1 L1718.9,1550.5 L1720.9,1549.9 L1722.9,1549.3 L1724.9,1548.6 L1726.9,1547.9 L1728.9,1547.2 L1730.9,1546.5 L1732.9,1545.7 L1734.9,1544.9 L1736.9,1544.1 L1738.9,1543.2 L1740.9,1542.2 L1742.9,1541.2 L1744.9,1540.1 L1746.9,1539.0 L1748.9,1537.8 L1750.9,1536.6 L1752.9,1535.2 L1754.9,1533.9 L1756.9,1532.4 L1758.9,1530.9 L1760.9,1529.3 L1762.9,1527.6 L1764.9,1525.9 L1766.9,1524.2 L1768.9,1522.4 L1770.9,1520.6 L1772.9,1518.7 L1774.9,1516.8 L1776.9,1514.9 L1778.9,1513.0 L1780.9,1511.1 L1782.9,1509.3 L1784.9,1507.4 L1786.9,1505.7 L1788.9,1504.0 L1790.9,1502.4 L1792.9,1500.9 L1794.9,1499.5 L1796.9,1498.2 L1798.9,1497.1 L1800.9,1496.2 L1802.9,1495.4 L1804.9,1494.8 L1806.9,1494.4 L1808.9,1494.2 L1810.9,1494.2 L1812.9,1494.5 L1814.9,1494.9 L1816.9,1495.4 L1818.9,1496.2 L1820.9,1497.1 L1822.9,1498.2 L1824.9,1499.4 L1826.9,1500.7 L1828.9,1502.1 L1830.9,1503.6 L1832.9,1505.1 L1834.9,1506.7 L1836.9,1508.3 L1838.9,1509.9 L1840.9,1511.5 L1842.9,1513.0 L1844.9,1514.6 L1846.9,1516.0 L1848.9,1517.4 L1850.9,1518.7 L1852.9,1519.9 L1854.9,1521.0 L1856.9,1522.0 L1858.9,1522.9 L1860.9,1523.7 L1862.9,1524.3 L1864.9,1524.8 L1866.9,1525.1 L1868.9,1525.4 L1870.9,1525.4 L1872.9,1525.4 L1874.9,1525.2 L1876.9,1524.8 L1878.9,1524.3 L1880.9,1523.7 L1882.9,1522.9 L1884.9,1522.0 L1886.9,1521.0 L1888.9,1519.9 L1890.9,1518.6 L1892.9,1517.3 L1894.9,1515.8 L1896.9,1514.3 L1898.9,1512.7 L1900.9,1511.0 L1902.9,1509.3 L1904.9,1507.5 L1906.9,1505.7 L1908.9,1503.9 L1910.9,1502.1 L1912.9,1500.4 L1914.9,1498.6 L1916.9,1497.0 L1918.9,1495.4 L1920.9,1493.9 L1922.9,1492.6 L1924.9,1491.4 L1926.9,1490.5 L1928.9,1489.7 L1930.9,1489.2 L1932.9,1488.9 L1934.9,1488.9 L1936.9,1489.1 L1938.9,1489.7 L1940.9,1490.5 L1942.9,1491.7 L1944.9,1493.1 L1946.9,1494.7 L1948.9,1496.7 L1950.9,1498.8 L1952.9,1501.1 L1954.9,1503.6 L1956.9,1506.3 L1958.9,1509.0 L1960.9,1511.9 L1962.9,1514.8 L1964.9,1517.8 L1966.9,1520.7 L1968.9,1523.7 L1970.9,1526.7 L1972.9,1529.6 L1974.9,1532.4 L1976.9,1535.2 L1978.9,1537.9 L1980.9,1540.5 L1982.9,1543.0 L1984.9,1545.4 L1986.9,1547.7 L1988.9,1549.9 L1990.9,1552.0 L1992.9,1553.9 L1994.9,1555.8 L1996.9,1557.5 L1998.9,1559.1 L2000.9,1560.6 L2002.9,1562.0 L2004.9,1563.2 L2006.9,1564.4 L2008.9,1565.5 L2010.9,1566.5 L2012.9,1567.3 L2014.9,1568.2 L2016.9,1568.9 L2018.9,1569.6 L2020.9,1570.2 L2022.9,1570.7 L2024.9,1571.2 L2026.9,1571.7 L2028.9,1572.1 L2030.9,1572.5 L2032.9,1572.8 L2034.9,1573.1 L2036.9,1573.4 L2038.9,1573.6 L2040.9,1573.8 L2042.9,1574.0 L2044.9,1574.2 L2046.9,1574.4 L2048.9,1574.5 L2050.9,1574.7 L2052.9,1574.8 L2054.9,1574.9 L2056.9,1575.0 L2058.9,1575.2 L2060.9,1575.3 L2062.9,1575.3 L2064.9,1575.4 L2066.9,1575.5 L2068.9,1575.6 L2070.9,1575.7 L2072.9,1575.7 L2074.9,1575.8 L2076.9,1575.9 L2078.9,1575.9 L2080.9,1576.0 L2082.9,1576.0 L2084.9,1576.1 L2086.9,1576.1 L2088.9,1576.2 L2090.9,1576.2 L2092.9,1576.3 L2094.9,1576.3 L2096.9,1576.4 L2098.9,1576.4 L2100.9,1576.5 L2102.9,1576.5 L2104.9,1576.5" fill="none" stroke="#000" stroke-width="3.4" stroke-linejoin="round"/>
<path d="M1536.9,1577.9 L1538.9,1577.9 L1540.9,1577.9 L1542.9,1577.9 L1544.9,1577.9 L1546.9,1577.8 L1548.9,1577.8 L1550.9,1577.8 L1552.9,1577.8 L1554.9,1577.8 L1556.9,1577.8 L1558.9,1577.8 L1560.9,1577.8 L1562.9,1577.8 L1564.9,1577.8 L1566.9,1577.7 L1568.9,1577.7 L1570.9,1577.7 L1572.9,1577.7 L1574.9,1577.7 L1576.9,1577.7 L1578.9,1577.7 L1580.9,1577.6 L1582.9,1577.6 L1584.9,1577.6 L1586.9,1577.6 L1588.9,1577.6 L1590.9,1577.6 L1592.9,1577.6 L1594.9,1577.5 L1596.9,1577.5 L1598.9,1577.5 L1600.9,1577.5 L1602.9,1577.5 L1604.9,1577.4 L1606.9,1577.4 L1608.9,1577.4 L1610.9,1577.4 L1612.9,1577.4 L1614.9,1577.3 L1616.9,1577.3 L1618.9,1577.3 L1620.9,1577.3 L1622.9,1577.2 L1624.9,1577.2 L1626.9,1577.2 L1628.9,1577.2 L1630.9,1577.1 L1632.9,1577.1 L1634.9,1577.1 L1636.9,1577.0 L1638.9,1577.0 L1640.9,1577.0 L1642.9,1576.9 L1644.9,1576.9 L1646.9,1576.9 L1648.9,1576.8 L1650.9,1576.8 L1652.9,1576.7 L1654.9,1576.7 L1656.9,1576.7 L1658.9,1576.6 L1660.9,1576.6 L1662.9,1576.5 L1664.9,1576.4 L1666.9,1576.4 L1668.9,1576.3 L1670.9,1576.3 L1672.9,1576.2 L1674.9,1576.1 L1676.9,1576.0 L1678.9,1575.9 L1680.9,1575.8 L1682.9,1575.7 L1684.9,1575.6 L1686.9,1575.5 L1688.9,1575.3 L1690.9,1575.2 L1692.9,1575.0 L1694.9,1574.9 L1696.9,1574.7 L1698.9,1574.5 L1700.9,1574.2 L1702.9,1574.0 L1704.9,1573.7 L1706.9,1573.4 L1708.9,1573.0 L1710.9,1572.7 L1712.9,1572.3 L1714.9,1571.8 L1716.9,1571.3 L1718.9,1570.8 L1720.9,1570.2 L1722.9,1569.6 L1724.9,1568.9 L1726.9,1568.1 L1728.9,1567.3 L1730.9,1566.5 L1732.9,1565.5 L1734.9,1564.5 L1736.9,1563.4 L1738.9,1562.3 L1740.9,1561.0 L1742.9,1559.7 L1744.9,1558.3 L1746.9,1556.8 L1748.9,1555.3 L1750.9,1553.6 L1752.9,1551.9 L1754.9,1550.1 L1756.9,1548.2 L1758.9,1546.3 L1760.9,1544.3 L1762.9,1542.2 L1764.9,1540.1 L1766.9,1537.9 L1768.9,1535.7 L1770.9,1533.4 L1772.9,1531.1 L1774.9,1528.9 L1776.9,1526.6 L1778.9,1524.3 L1780.9,1522.1 L1782.9,1519.8 L1784.9,1517.7 L1786.9,1515.6 L1788.9,1513.6 L1790.9,1511.8 L1792.9,1510.0 L1794.9,1508.4 L1796.9,1507.0 L1798.9,1505.7 L1800.9,1504.6 L1802.9,1503.8 L1804.9,1503.1 L1806.9,1502.7 L1808.9,1502.5 L1810.9,1502.6 L1812.9,1502.8 L1814.9,1503.4 L1816.9,1504.1 L1818.9,1505.0 L1820.9,1506.2 L1822.9,1507.5 L1824.9,1509.0 L1826.9,1510.7 L1828.9,1512.5 L1830.9,1514.4 L1832.9,1516.4 L1834.9,1518.6 L1836.9,1520.7 L1838.9,1522.9 L1840.9,1525.2 L1842.9,1527.5 L1844.9,1529.8 L1846.9,1532.1 L1848.9,1534.3 L1850.9,1536.6 L1852.9,1538.8 L1854.9,1540.9 L1856.9,1543.0 L1858.9,1545.1 L1860.9,1547.1 L1862.9,1549.0 L1864.9,1550.8 L1866.9,1552.6 L1868.9,1554.3 L1870.9,1555.9 L1872.9,1557.4 L1874.9,1558.9 L1876.9,1560.2 L1878.9,1561.5 L1880.9,1562.7 L1882.9,1563.9 L1884.9,1564.9 L1886.9,1565.9 L1888.9,1566.8 L1890.9,1567.7 L1892.9,1568.4 L1894.9,1569.2 L1896.9,1569.8 L1898.9,1570.4 L1900.9,1571.0 L1902.9,1571.5 L1904.9,1572.0 L1906.9,1572.4 L1908.9,1572.8 L1910.9,1573.2 L1912.9,1573.5 L1914.9,1573.8 L1916.9,1574.1 L1918.9,1574.3 L1920.9,1574.5 L1922.9,1574.7 L1924.9,1574.9 L1926.9,1575.1 L1928.9,1575.3 L1930.9,1575.4 L1932.9,1575.5 L1934.9,1575.7 L1936.9,1575.8 L1938.9,1575.9 L1940.9,1576.0 L1942.9,1576.1 L1944.9,1576.1 L1946.9,1576.2 L1948.9,1576.3 L1950.9,1576.3 L1952.9,1576.4 L1954.9,1576.5 L1956.9,1576.5 L1958.9,1576.6 L1960.9,1576.6 L1962.9,1576.7 L1964.9,1576.7 L1966.9,1576.8 L1968.9,1576.8 L1970.9,1576.8 L1972.9,1576.9 L1974.9,1576.9 L1976.9,1577.0 L1978.9,1577.0 L1980.9,1577.0 L1982.9,1577.1 L1984.9,1577.1 L1986.9,1577.1 L1988.9,1577.1 L1990.9,1577.2 L1992.9,1577.2 L1994.9,1577.2 L1996.9,1577.3 L1998.9,1577.3 L2000.9,1577.3 L2002.9,1577.3 L2004.9,1577.4 L2006.9,1577.4 L2008.9,1577.4 L2010.9,1577.4 L2012.9,1577.4 L2014.9,1577.5 L2016.9,1577.5 L2018.9,1577.5 L2020.9,1577.5 L2022.9,1577.5 L2024.9,1577.5 L2026.9,1577.6 L2028.9,1577.6 L2030.9,1577.6 L2032.9,1577.6 L2034.9,1577.6 L2036.9,1577.6 L2038.9,1577.7 L2040.9,1577.7 L2042.9,1577.7 L2044.9,1577.7 L2046.9,1577.7 L2048.9,1577.7 L2050.9,1577.7 L2052.9,1577.7 L2054.9,1577.8 L2056.9,1577.8 L2058.9,1577.8 L2060.9,1577.8 L2062.9,1577.8 L2064.9,1577.8 L2066.9,1577.8 L2068.9,1577.8 L2070.9,1577.8 L2072.9,1577.9 L2074.9,1577.9 L2076.9,1577.9 L2078.9,1577.9 L2080.9,1577.9 L2082.9,1577.9" fill="none" stroke="#0000ff" stroke-width="4.3" stroke-linejoin="round"/>
<path d="M1702.9,1577.9 L1704.9,1577.9 L1706.9,1577.9 L1708.9,1577.9 L1710.9,1577.9 L1712.9,1577.8 L1714.9,1577.8 L1716.9,1577.8 L1718.9,1577.8 L1720.9,1577.8 L1722.9,1577.8 L1724.9,1577.8 L1726.9,1577.8 L1728.9,1577.7 L1730.9,1577.7 L1732.9,1577.7 L1734.9,1577.7 L1736.9,1577.7 L1738.9,1577.7 L1740.9,1577.6 L1742.9,1577.6 L1744.9,1577.6 L1746.9,1577.6 L1748.9,1577.6 L1750.9,1577.6 L1752.9,1577.5 L1754.9,1577.5 L1756.9,1577.5 L1758.9,1577.5 L1760.9,1577.5 L1762.9,1577.4 L1764.9,1577.4 L1766.9,1577.4 L1768.9,1577.4 L1770.9,1577.3 L1772.9,1577.3 L1774.9,1577.3 L1776.9,1577.3 L1778.9,1577.2 L1780.9,1577.2 L1782.9,1577.2 L1784.9,1577.1 L1786.9,1577.1 L1788.9,1577.1 L1790.9,1577.0 L1792.9,1577.0 L1794.9,1576.9 L1796.9,1576.9 L1798.9,1576.9 L1800.9,1576.8 L1802.9,1576.8 L1804.9,1576.7 L1806.9,1576.7 L1808.9,1576.6 L1810.9,1576.5 L1812.9,1576.5 L1814.9,1576.4 L1816.9,1576.3 L1818.9,1576.2 L1820.9,1576.2 L1822.9,1576.1 L1824.9,1576.0 L1826.9,1575.9 L1828.9,1575.7 L1830.9,1575.6 L1832.9,1575.5 L1834.9,1575.3 L1836.9,1575.1 L1838.9,1574.9 L1840.9,1574.7 L1842.9,1574.5 L1844.9,1574.2 L1846.9,1573.9 L1848.9,1573.6 L1850.9,1573.2 L1852.9,1572.8 L1854.9,1572.3 L1856.9,1571.8 L1858.9,1571.2 L1860.9,1570.6 L1862.9,1569.9 L1864.9,1569.2 L1866.9,1568.3 L1868.9,1567.4 L1870.9,1566.4 L1872.9,1565.3 L1874.9,1564.1 L1876.9,1562.8 L1878.9,1561.4 L1880.9,1559.9 L1882.9,1558.3 L1884.9,1556.6 L1886.9,1554.8 L1888.9,1552.8 L1890.9,1550.8 L1892.9,1548.7 L1894.9,1546.5 L1896.9,1544.1 L1898.9,1541.7 L1900.9,1539.3 L1902.9,1536.7 L1904.9,1534.1 L1906.9,1531.5 L1908.9,1528.9 L1910.9,1526.2 L1912.9,1523.6 L1914.9,1521.0 L1916.9,1518.5 L1918.9,1516.1 L1920.9,1513.8 L1922.9,1511.6 L1924.9,1509.6 L1926.9,1507.9 L1928.9,1506.3 L1930.9,1504.9 L1932.9,1503.9 L1934.9,1503.1 L1936.9,1502.7 L1938.9,1502.5 L1940.9,1502.7 L1942.9,1503.1 L1944.9,1503.9 L1946.9,1504.9 L1948.9,1506.3 L1950.9,1507.9 L1952.9,1509.6 L1954.9,1511.6 L1956.9,1513.8 L1958.9,1516.1 L1960.9,1518.5 L1962.9,1521.0 L1964.9,1523.6 L1966.9,1526.2 L1968.9,1528.9 L1970.9,1531.5 L1972.9,1534.1 L1974.9,1536.7 L1976.9,1539.3 L1978.9,1541.7 L1980.9,1544.1 L1982.9,1546.5 L1984.9,1548.7 L1986.9,1550.8 L1988.9,1552.8 L1990.9,1554.8 L1992.9,1556.6 L1994.9,1558.3 L1996.9,1559.9 L1998.9,1561.4 L2000.9,1562.8 L2002.9,1564.1 L2004.9,1565.3 L2006.9,1566.4 L2008.9,1567.4 L2010.9,1568.3 L2012.9,1569.2 L2014.9,1569.9 L2016.9,1570.6 L2018.9,1571.2 L2020.9,1571.8 L2022.9,1572.3 L2024.9,1572.8 L2026.9,1573.2 L2028.9,1573.6 L2030.9,1573.9 L2032.9,1574.2 L2034.9,1574.5 L2036.9,1574.7 L2038.9,1574.9 L2040.9,1575.1 L2042.9,1575.3 L2044.9,1575.5 L2046.9,1575.6 L2048.9,1575.7 L2050.9,1575.9 L2052.9,1576.0 L2054.9,1576.1 L2056.9,1576.2 L2058.9,1576.2 L2060.9,1576.3 L2062.9,1576.4 L2064.9,1576.5 L2066.9,1576.5 L2068.9,1576.6 L2070.9,1576.7 L2072.9,1576.7 L2074.9,1576.8 L2076.9,1576.8 L2078.9,1576.9 L2080.9,1576.9 L2082.9,1576.9 L2084.9,1577.0 L2086.9,1577.0 L2088.9,1577.1 L2090.9,1577.1 L2092.9,1577.1 L2094.9,1577.2 L2096.9,1577.2 L2098.9,1577.2 L2100.9,1577.3 L2102.9,1577.3 L2104.9,1577.3" fill="none" stroke="#0000ff" stroke-width="4.3" stroke-linejoin="round"/>
<path d="M1582.9,1577.9 L1584.9,1577.9 L1586.9,1577.8 L1588.9,1577.8 L1590.9,1577.7 L1592.9,1577.7 L1594.9,1577.6 L1596.9,1577.6 L1598.9,1577.5 L1600.9,1577.5 L1602.9,1577.4 L1604.9,1577.3 L1606.9,1577.2 L1608.9,1577.2 L1610.9,1577.1 L1612.9,1577.0 L1614.9,1576.9 L1616.9,1576.7 L1618.9,1576.6 L1620.9,1576.5 L1622.9,1576.3 L1624.9,1576.2 L1626.9,1576.0 L1628.9,1575.8 L1630.9,1575.6 L1632.9,1575.4 L1634.9,1575.2 L1636.9,1575.0 L1638.9,1574.8 L1640.9,1574.5 L1642.9,1574.3 L1644.9,1574.0 L1646.9,1573.7 L1648.9,1573.4 L1650.9,1573.1 L1652.9,1572.8 L1654.9,1572.4 L1656.9,1572.1 L1658.9,1571.7 L1660.9,1571.3 L1662.9,1571.0 L1664.9,1570.6 L1666.9,1570.2 L1668.9,1569.8 L1670.9,1569.4 L1672.9,1568.9 L1674.9,1568.5 L1676.9,1568.1 L1678.9,1567.7 L1680.9,1567.3 L1682.9,1566.8 L1684.9,1566.4 L1686.9,1566.0 L1688.9,1565.6 L1690.9,1565.2 L1692.9,1564.8 L1694.9,1564.4 L1696.9,1564.1 L1698.9,1563.7 L1700.9,1563.4 L1702.9,1563.1 L1704.9,1562.8 L1706.9,1562.5 L1708.9,1562.3 L1710.9,1562.1 L1712.9,1561.9 L1714.9,1561.8 L1716.9,1561.6 L1718.9,1561.6 L1720.9,1561.5 L1722.9,1561.5 L1724.9,1561.5 L1726.9,1561.6 L1728.9,1561.7 L1730.9,1561.8 L1732.9,1561.9 L1734.9,1562.1 L1736.9,1562.3 L1738.9,1562.6 L1740.9,1562.8 L1742.9,1563.1 L1744.9,1563.4 L1746.9,1563.7 L1748.9,1564.1 L1750.9,1564.5 L1752.9,1564.8 L1754.9,1565.2 L1756.9,1565.6 L1758.9,1566.0 L1760.9,1566.5 L1762.9,1566.9 L1764.9,1567.3 L1766.9,1567.7 L1768.9,1568.1 L1770.9,1568.6 L1772.9,1569.0 L1774.9,1569.4 L1776.9,1569.8 L1778.9,1570.2 L1780.9,1570.6 L1782.9,1571.0 L1784.9,1571.4 L1786.9,1571.8 L1788.9,1572.1 L1790.9,1572.5 L1792.9,1572.8 L1794.9,1573.1 L1796.9,1573.4 L1798.9,1573.7 L1800.9,1574.0 L1802.9,1574.3 L1804.9,1574.5 L1806.9,1574.8 L1808.9,1575.0 L1810.9,1575.2 L1812.9,1575.5 L1814.9,1575.7 L1816.9,1575.8 L1818.9,1576.0 L1820.9,1576.2 L1822.9,1576.3 L1824.9,1576.5 L1826.9,1576.6 L1828.9,1576.7 L1830.9,1576.9 L1832.9,1577.0 L1834.9,1577.1 L1836.9,1577.2 L1838.9,1577.3 L1840.9,1577.3 L1842.9,1577.4 L1844.9,1577.5 L1846.9,1577.5 L1848.9,1577.6 L1850.9,1577.7 L1852.9,1577.7 L1854.9,1577.7 L1856.9,1577.8 L1858.9,1577.8 L1860.9,1577.9 L1862.9,1577.9" fill="none" stroke="#ff0000" stroke-width="4.3" stroke-linejoin="round"/>
<path d="M1770.9,1577.9 L1772.9,1577.8 L1774.9,1577.8 L1776.9,1577.8 L1778.9,1577.7 L1780.9,1577.7 L1782.9,1577.6 L1784.9,1577.5 L1786.9,1577.5 L1788.9,1577.4 L1790.9,1577.3 L1792.9,1577.2 L1794.9,1577.1 L1796.9,1577.0 L1798.9,1576.9 L1800.9,1576.7 L1802.9,1576.6 L1804.9,1576.4 L1806.9,1576.2 L1808.9,1576.0 L1810.9,1575.8 L1812.9,1575.5 L1814.9,1575.3 L1816.9,1575.0 L1818.9,1574.7 L1820.9,1574.4 L1822.9,1574.0 L1824.9,1573.6 L1826.9,1573.2 L1828.9,1572.8 L1830.9,1572.4 L1832.9,1571.9 L1834.9,1571.4 L1836.9,1570.9 L1838.9,1570.4 L1840.9,1569.8 L1842.9,1569.3 L1844.9,1568.7 L1846.9,1568.1 L1848.9,1567.5 L1850.9,1566.9 L1852.9,1566.2 L1854.9,1565.6 L1856.9,1564.9 L1858.9,1564.3 L1860.9,1563.7 L1862.9,1563.0 L1864.9,1562.4 L1866.9,1561.8 L1868.9,1561.2 L1870.9,1560.7 L1872.9,1560.2 L1874.9,1559.7 L1876.9,1559.2 L1878.9,1558.8 L1880.9,1558.5 L1882.9,1558.2 L1884.9,1557.9 L1886.9,1557.7 L1888.9,1557.6 L1890.9,1557.5 L1892.9,1557.5 L1894.9,1557.6 L1896.9,1557.7 L1898.9,1557.8 L1900.9,1558.1 L1902.9,1558.4 L1904.9,1558.7 L1906.9,1559.1 L1908.9,1559.5 L1910.9,1560.0 L1912.9,1560.5 L1914.9,1561.1 L1916.9,1561.6 L1918.9,1562.2 L1920.9,1562.8 L1922.9,1563.5 L1924.9,1564.1 L1926.9,1564.7 L1928.9,1565.4 L1930.9,1566.0 L1932.9,1566.7 L1934.9,1567.3 L1936.9,1567.9 L1938.9,1568.5 L1940.9,1569.1 L1942.9,1569.7 L1944.9,1570.2 L1946.9,1570.8 L1948.9,1571.3 L1950.9,1571.8 L1952.9,1572.3 L1954.9,1572.7 L1956.9,1573.1 L1958.9,1573.5 L1960.9,1573.9 L1962.9,1574.3 L1964.9,1574.6 L1966.9,1574.9 L1968.9,1575.2 L1970.9,1575.4 L1972.9,1575.7 L1974.9,1575.9 L1976.9,1576.1 L1978.9,1576.3 L1980.9,1576.5 L1982.9,1576.7 L1984.9,1576.8 L1986.9,1576.9 L1988.9,1577.1 L1990.9,1577.2 L1992.9,1577.3 L1994.9,1577.4 L1996.9,1577.5 L1998.9,1577.5 L2000.9,1577.6 L2002.9,1577.7 L2004.9,1577.7 L2006.9,1577.8 L2008.9,1577.8 L2010.9,1577.8 L2012.9,1577.9" fill="none" stroke="#ff0000" stroke-width="4.3" stroke-linejoin="round"/>
<line x1="1474.9" y1="1578.5" x2="2105.2" y2="1578.5" stroke="#ff0000" stroke-width="6.5"/>
</g>
<rect x="1494" y="903.3" width="54" height="35" rx="2" fill="#0000ff"/>
<rect x="1640.6" y="905.2" width="55.6" height="35" rx="2" fill="#ff0000"/>
<rect x="1477.9" y="889.3" width="624.3" height="706.1" rx="4" ry="4" fill="none" stroke="#000" stroke-width="3.8"/>
<text x="421.20" y="52.60" font-size="40" font-family='"Liberation Serif", serif' fill="#000" stroke="#000" stroke-width="0.0" textLength="61.75" lengthAdjust="spacingAndGlyphs">(A)</text>
<text x="511.20" y="78.00" font-size="38" font-family='"Liberation Sans", sans-serif' fill="#ff0000" stroke="#ff0000" stroke-width="0.4" textLength="137.43" lengthAdjust="spacingAndGlyphs">11568.9</text>
<text x="511.30" y="119.40" font-size="38" font-family='"Liberation Sans", sans-serif' fill="#000" stroke="#000" stroke-width="0.4" textLength="137.32" lengthAdjust="spacingAndGlyphs">11568.7</text>
<text x="512.90" y="183.20" font-size="38" font-family='"Liberation Sans", sans-serif' fill="#ff00ff" stroke="#ff00ff" stroke-width="0.4" textLength="129.18" lengthAdjust="spacingAndGlyphs">11568.7</text>
<text x="512.90" y="218.80" font-size="38" font-family='"Liberation Sans", sans-serif' fill="#0000ff" stroke="#0000ff" stroke-width="0.4" textLength="134.34" lengthAdjust="spacingAndGlyphs">11568.8</text>
<text x="511.10" y="295.90" font-size="38" font-family='"Liberation Sans", sans-serif' fill="#008000" stroke="#008000" stroke-width="0.4" textLength="133.61" lengthAdjust="spacingAndGlyphs">11567.9</text>
<text x="512.00" y="394.50" font-size="38" font-family='"Liberation Sans", sans-serif' fill="#ff7f00" stroke="#ff7f00" stroke-width="0.4" textLength="131.34" lengthAdjust="spacingAndGlyphs">11566.8</text>
<text x="829.40" y="89.00" font-size="37.5" font-family='"Liberation Sans", sans-serif' fill="#000" stroke="#000" stroke-width="0.4" textLength="95.42" lengthAdjust="spacingAndGlyphs">Pt foil</text>
<text x="829.40" y="132.90" font-size="37.5" font-family='"Liberation Sans", sans-serif' fill="#000" stroke="#000" stroke-width="0.4" textLength="79.56" lengthAdjust="spacingAndGlyphs">PtO<tspan dy="11" font-size="27">2</tspan></text>
<text x="829.40" y="184.90" font-size="37.5" font-family='"Liberation Sans", sans-serif' fill="#000" stroke="#000" stroke-width="0.4" textLength="164.94" lengthAdjust="spacingAndGlyphs">Pt<tspan dy="11" font-size="27">1</tspan><tspan dy="-11">/Co</tspan><tspan dy="11" font-size="27">3</tspan><tspan dy="-11">O</tspan><tspan dy="11" font-size="27">4</tspan></text>
<text x="829.40" y="237.00" font-size="37.5" font-family='"Liberation Sans", sans-serif' fill="#000" stroke="#000" stroke-width="0.4" textLength="151.44" lengthAdjust="spacingAndGlyphs">Pt<tspan dy="11" font-size="27">1</tspan><tspan dy="-11">/CeO</tspan><tspan dy="11" font-size="27">2</tspan></text>
<text x="829.40" y="288.00" font-size="37.5" font-family='"Liberation Sans", sans-serif' fill="#000" stroke="#000" stroke-width="0.4" textLength="139.72" lengthAdjust="spacingAndGlyphs">Pt<tspan dy="11" font-size="27">1</tspan><tspan dy="-11">/ZrO</tspan><tspan dy="11" font-size="27">2</tspan></text>
<text x="829.40" y="340.00" font-size="37.5" font-family='"Liberation Sans", sans-serif' fill="#000" stroke="#000" stroke-width="0.4" textLength="219.22" lengthAdjust="spacingAndGlyphs">Pt<tspan dy="11" font-size="27">1</tspan><tspan dy="-11">/graphene</tspan></text>
<text x="487.50" y="788.50" font-size="38" font-family='"Liberation Sans", sans-serif' fill="#000" stroke="#000" stroke-width="0.4" textLength="110.05" lengthAdjust="spacingAndGlyphs">11550</text>
<text x="665.00" y="788.50" font-size="38" font-family='"Liberation Sans", sans-serif' fill="#000" stroke="#000" stroke-width="0.4" textLength="110.02" lengthAdjust="spacingAndGlyphs">11575</text>
<text x="842.50" y="788.50" font-size="38" font-family='"Liberation Sans", sans-serif' fill="#000" stroke="#000" stroke-width="0.4" textLength="110.05" lengthAdjust="spacingAndGlyphs">11600</text>
<text x="1020.00" y="788.50" font-size="38" font-family='"Liberation Sans", sans-serif' fill="#000" stroke="#000" stroke-width="0.4" textLength="110.02" lengthAdjust="spacingAndGlyphs">11625</text>
<text x="714.20" y="840.50" font-size="40.5" font-family='"Liberation Sans", sans-serif' fill="#000" stroke="#000" stroke-width="0.4" textLength="128.06" lengthAdjust="spacingAndGlyphs"><tspan font-style="italic">E</tspan> (eV)</text>
<text x="470.60" y="591.00" font-size="36" font-family='"Liberation Sans", sans-serif' fill="#000" stroke="#000" stroke-width="0.4" textLength="407.03" lengthAdjust="spacingAndGlyphs" transform="rotate(-90 470.60 591.00)">Normalized XANES (a.u.)</text>
<text x="1400.00" y="52.60" font-size="40" font-family='"Liberation Serif", serif' fill="#000" stroke="#000" stroke-width="0.0" textLength="60.83" lengthAdjust="spacingAndGlyphs">(B)</text>
<text x="1468.70" y="790.30" font-size="40.5" font-family='"Liberation Sans", sans-serif' fill="#000" stroke="#000" stroke-width="0.4" textLength="24.66" lengthAdjust="spacingAndGlyphs">0</text>
<text x="1566.35" y="790.30" font-size="40.5" font-family='"Liberation Sans", sans-serif' fill="#000" stroke="#000" stroke-width="0.4" textLength="15.52" lengthAdjust="spacingAndGlyphs">1</text>
<text x="1656.90" y="790.30" font-size="40.5" font-family='"Liberation Sans", sans-serif' fill="#000" stroke="#000" stroke-width="0.4" textLength="25.93" lengthAdjust="spacingAndGlyphs">2</text>
<text x="1752.05" y="790.30" font-size="40.5" font-family='"Liberation Sans", sans-serif' fill="#000" stroke="#000" stroke-width="0.4" textLength="23.63" lengthAdjust="spacingAndGlyphs">3</text>
<text x="1847.60" y="790.30" font-size="40.5" font-family='"Liberation Sans", sans-serif' fill="#000" stroke="#000" stroke-width="0.4" textLength="23.56" lengthAdjust="spacingAndGlyphs">4</text>
<text x="1941.25" y="790.30" font-size="40.5" font-family='"Liberation Sans", sans-serif' fill="#000" stroke="#000" stroke-width="0.4" textLength="24.92" lengthAdjust="spacingAndGlyphs">5</text>
<text x="2035.60" y="790.30" font-size="40.5" font-family='"Liberation Sans", sans-serif' fill="#000" stroke="#000" stroke-width="0.4" textLength="24.71" lengthAdjust="spacingAndGlyphs">6</text>
<text x="1727.50" y="846.00" font-size="40.5" font-family='"Liberation Sans", sans-serif' fill="#000" stroke="#000" stroke-width="0.4" textLength="112.91" lengthAdjust="spacingAndGlyphs"><tspan font-style="italic">R</tspan> (<tspan font-family='"Liberation Serif", serif'>Å</tspan>)</text>
<text x="1451.60" y="440.00" font-size="48" font-family='"Liberation Serif", serif' fill="#000" stroke="#000" stroke-width="0.0" textLength="209.92" lengthAdjust="spacingAndGlyphs" transform="rotate(-90 1451.60 440.00)">|FT(<tspan font-style="italic">k</tspan><tspan dy="-21" font-size="30">2</tspan><tspan dy="21">c(</tspan><tspan font-style="italic">k</tspan>))|</text>
<text x="1651.10" y="80.70" font-size="40.5" font-family='"Liberation Sans", sans-serif' fill="#000" stroke="#000" stroke-width="0.4" textLength="219.62" lengthAdjust="spacingAndGlyphs">Pt-Pt (2.37)</text>
<text x="1972.80" y="137.20" font-size="40.5" font-family='"Liberation Sans", sans-serif' fill="#000" stroke="#000" stroke-width="0.4" textLength="108.32" lengthAdjust="spacingAndGlyphs">Pt foil</text>
<text x="1524.60" y="209.00" font-size="34" font-family='"Liberation Sans", sans-serif' fill="#000" stroke="#000" stroke-width="0.4" textLength="86.88" lengthAdjust="spacingAndGlyphs">Pt-O</text>
<text x="1695.30" y="232.40" font-size="37" font-family='"Liberation Sans", sans-serif' fill="#000" stroke="#000" stroke-width="0.4" textLength="216.12" lengthAdjust="spacingAndGlyphs">Pt-Pt (2.68)</text>
<text x="1983.90" y="279.20" font-size="40.5" font-family='"Liberation Sans", sans-serif' fill="#000" stroke="#000" stroke-width="0.4" textLength="89.13" lengthAdjust="spacingAndGlyphs">PtO<tspan dy="11" font-size="27">2</tspan></text>
<text x="1656.40" y="374.50" font-size="38" font-family='"Liberation Sans", sans-serif' fill="#000" stroke="#000" stroke-width="0.4" textLength="232.30" lengthAdjust="spacingAndGlyphs">Pt-Co (2.56)</text>
<text x="1898.40" y="413.00" font-size="40.5" font-family='"Liberation Sans", sans-serif' fill="#000" stroke="#000" stroke-width="0.4" textLength="185.56" lengthAdjust="spacingAndGlyphs">Pt<tspan dy="11" font-size="27">1</tspan><tspan dy="-11">/Co</tspan><tspan dy="11" font-size="27">3</tspan><tspan dy="-11">O</tspan><tspan dy="11" font-size="27">4</tspan></text>
<text x="1908.30" y="507.10" font-size="40.5" font-family='"Liberation Sans", sans-serif' fill="#000" stroke="#000" stroke-width="0.4" textLength="169.66" lengthAdjust="spacingAndGlyphs">Pt<tspan dy="11" font-size="27">1</tspan><tspan dy="-11">/CeO</tspan><tspan dy="11" font-size="27">2</tspan></text>
<text x="1924.00" y="613.60" font-size="40.5" font-family='"Liberation Sans", sans-serif' fill="#000" stroke="#000" stroke-width="0.4" textLength="156.68" lengthAdjust="spacingAndGlyphs">Pt<tspan dy="11" font-size="27">1</tspan><tspan dy="-11">/ZrO</tspan><tspan dy="11" font-size="27">2</tspan></text>
<text x="1841.90" y="704.00" font-size="40.5" font-family='"Liberation Sans", sans-serif' fill="#000" stroke="#000" stroke-width="0.4" textLength="249.42" lengthAdjust="spacingAndGlyphs">Pt<tspan dy="11" font-size="27">1</tspan><tspan dy="-11">/graphene</tspan></text>
<text x="420.00" y="923.00" font-size="40" font-family='"Liberation Serif", serif' fill="#000" stroke="#000" stroke-width="0.0" textLength="60.83" lengthAdjust="spacingAndGlyphs">(C)</text>
<text x="508.10" y="1097.50" font-size="40.5" font-family='"Liberation Sans", sans-serif' fill="#000" stroke="#000" stroke-width="0.4" textLength="203.68" lengthAdjust="spacingAndGlyphs">Pt<tspan dy="11" font-size="27">1</tspan><tspan dy="-11">/Co</tspan><tspan dy="11" font-size="27">3</tspan><tspan dy="-11">O</tspan><tspan dy="11" font-size="27">4</tspan></text>
<text x="821.20" y="975.00" font-size="40.5" font-family='"Liberation Sans", sans-serif' fill="#000" stroke="#000" stroke-width="0.4" textLength="95.00" lengthAdjust="spacingAndGlyphs">2105</text>
<text x="1046.00" y="976.80" font-size="44" font-family='"Liberation Sans", sans-serif' fill="#000" stroke="#000" stroke-width="0.4" textLength="57.70" lengthAdjust="spacingAndGlyphs">0.1</text>
<text x="830.80" y="1202.40" font-size="40.5" font-family='"Liberation Sans", sans-serif' fill="#000" stroke="#000" stroke-width="0.4" textLength="94.78" lengthAdjust="spacingAndGlyphs">2093</text>
<text x="511.20" y="1326.80" font-size="40.5" font-family='"Liberation Sans", sans-serif' fill="#000" stroke="#000" stroke-width="0.4" textLength="187.80" lengthAdjust="spacingAndGlyphs">Pt<tspan dy="11" font-size="27">1</tspan><tspan dy="-11">/CeO</tspan><tspan dy="11" font-size="27">2</tspan></text>
<text x="1001.50" y="1326.80" font-size="40.5" font-family='"Liberation Sans", sans-serif' fill="#000" stroke="#000" stroke-width="0.4" textLength="80.90" lengthAdjust="spacingAndGlyphs">×1/3</text>
<text x="829.60" y="1420.30" font-size="40.5" font-family='"Liberation Sans", sans-serif' fill="#000" stroke="#000" stroke-width="0.4" textLength="91.27" lengthAdjust="spacingAndGlyphs">2097</text>
<text x="521.40" y="1536.50" font-size="40.5" font-family='"Liberation Sans", sans-serif' fill="#000" stroke="#000" stroke-width="0.4" textLength="171.61" lengthAdjust="spacingAndGlyphs">Pt<tspan dy="11" font-size="27">1</tspan><tspan dy="-11">/ZrO</tspan><tspan dy="11" font-size="27">2</tspan></text>
<text x="496.80" y="1656.70" font-size="40.5" font-family='"Liberation Sans", sans-serif' fill="#000" stroke="#000" stroke-width="0.4" textLength="92.52" lengthAdjust="spacingAndGlyphs">2400</text>
<text x="673.10" y="1656.70" font-size="40.5" font-family='"Liberation Sans", sans-serif' fill="#000" stroke="#000" stroke-width="0.4" textLength="92.55" lengthAdjust="spacingAndGlyphs">2200</text>
<text x="847.50" y="1656.70" font-size="40.5" font-family='"Liberation Sans", sans-serif' fill="#000" stroke="#000" stroke-width="0.4" textLength="92.52" lengthAdjust="spacingAndGlyphs">2000</text>
<text x="1020.60" y="1656.70" font-size="40.5" font-family='"Liberation Sans", sans-serif' fill="#000" stroke="#000" stroke-width="0.4" textLength="93.55" lengthAdjust="spacingAndGlyphs">1800</text>
<text x="621.00" y="1712.40" font-size="40.5" font-family='"Liberation Sans", sans-serif' fill="#000" stroke="#000" stroke-width="0.4" textLength="373.11" lengthAdjust="spacingAndGlyphs">Wavenumber (cm<tspan dy="-13" font-size="24">-1</tspan><tspan dy="13">)</tspan></text>
<text x="476.10" y="1387.80" font-size="39" font-family='"Liberation Sans", sans-serif' fill="#000" stroke="#000" stroke-width="0.4" textLength="314.36" lengthAdjust="spacingAndGlyphs" transform="rotate(-90 476.10 1387.80)">Absorbance (a.u.)</text>
<text x="1401.00" y="923.00" font-size="40" font-family='"Liberation Serif", serif' fill="#000" stroke="#000" stroke-width="0.0" textLength="61.82" lengthAdjust="spacingAndGlyphs">(D)</text>
<text x="1560.10" y="934.50" font-size="40.5" font-family='"Liberation Sans", sans-serif' fill="#000" stroke="#000" stroke-width="0.4" textLength="71.09" lengthAdjust="spacingAndGlyphs">Pt<tspan dy="-13" font-size="27">2+</tspan></text>
<text x="1709.80" y="936.00" font-size="40.5" font-family='"Liberation Sans", sans-serif' fill="#000" stroke="#000" stroke-width="0.4" textLength="70.72" lengthAdjust="spacingAndGlyphs">Pt<tspan dy="-13" font-size="27">4+</tspan></text>
<text x="1847.00" y="929.80" font-size="40.5" font-family='"Liberation Sans", sans-serif' fill="#000" stroke="#000" stroke-width="0.4" textLength="77.88" lengthAdjust="spacingAndGlyphs">74.3</text>
<text x="2004.90" y="931.50" font-size="40.5" font-family='"Liberation Sans", sans-serif' fill="#000" stroke="#000" stroke-width="0.4" textLength="85.86" lengthAdjust="spacingAndGlyphs">Pt 4f</text>
<text x="1486.90" y="1013.60" font-size="40.5" font-family='"Liberation Sans", sans-serif' fill="#000" stroke="#000" stroke-width="0.4" textLength="89.13" lengthAdjust="spacingAndGlyphs">PtO<tspan dy="11" font-size="27">2</tspan></text>
<text x="1888.30" y="1113.70" font-size="40.5" font-family='"Liberation Sans", sans-serif' fill="#000" stroke="#000" stroke-width="0.4" textLength="82.10" lengthAdjust="spacingAndGlyphs">74.2</text>
<text x="1969.20" y="1164.50" font-size="40.5" font-family='"Liberation Sans", sans-serif' fill="#000" stroke="#000" stroke-width="0.4" textLength="79.13" lengthAdjust="spacingAndGlyphs">72.4</text>
<text x="1485.30" y="1168.00" font-size="40.5" font-family='"Liberation Sans", sans-serif' fill="#000" stroke="#000" stroke-width="0.4" textLength="182.72" lengthAdjust="spacingAndGlyphs">Pt<tspan dy="11" font-size="27">1</tspan><tspan dy="-11">/Co</tspan><tspan dy="11" font-size="27">3</tspan><tspan dy="-11">O</tspan><tspan dy="11" font-size="27">4</tspan></text>
<text x="1954.90" y="1256.50" font-size="40.5" font-family='"Liberation Sans", sans-serif' fill="#000" stroke="#000" stroke-width="0.4" textLength="80.47" lengthAdjust="spacingAndGlyphs">72.6</text>
<text x="1485.70" y="1290.00" font-size="40.5" font-family='"Liberation Sans", sans-serif' fill="#000" stroke="#000" stroke-width="0.4" textLength="169.37" lengthAdjust="spacingAndGlyphs">Pt<tspan dy="11" font-size="27">1</tspan><tspan dy="-11">/CeO</tspan><tspan dy="11" font-size="27">2</tspan></text>
<text x="1990.50" y="1389.70" font-size="40.5" font-family='"Liberation Sans", sans-serif' fill="#000" stroke="#000" stroke-width="0.4" textLength="78.83" lengthAdjust="spacingAndGlyphs">72.4</text>
<text x="1486.90" y="1426.80" font-size="40.5" font-family='"Liberation Sans", sans-serif' fill="#000" stroke="#000" stroke-width="0.4" textLength="153.20" lengthAdjust="spacingAndGlyphs">Pt<tspan dy="11" font-size="27">1</tspan><tspan dy="-11">/ZrO</tspan><tspan dy="11" font-size="27">2</tspan></text>
<text x="1976.00" y="1504.20" font-size="40.5" font-family='"Liberation Sans", sans-serif' fill="#000" stroke="#000" stroke-width="0.4" textLength="79.85" lengthAdjust="spacingAndGlyphs">72.6</text>
<text x="1481.50" y="1541.40" font-size="40.5" font-family='"Liberation Sans", sans-serif' fill="#000" stroke="#000" stroke-width="0.4" textLength="247.37" lengthAdjust="spacingAndGlyphs">Pt<tspan dy="11" font-size="27">1</tspan><tspan dy="-11">/graphene</tspan></text>
<text x="1456.10" y="1656.50" font-size="40.5" font-family='"Liberation Sans", sans-serif' fill="#000" stroke="#000" stroke-width="0.4" textLength="44.90" lengthAdjust="spacingAndGlyphs">84</text>
<text x="1576.30" y="1656.50" font-size="40.5" font-family='"Liberation Sans", sans-serif' fill="#000" stroke="#000" stroke-width="0.4" textLength="46.99" lengthAdjust="spacingAndGlyphs">81</text>
<text x="1697.50" y="1656.50" font-size="40.5" font-family='"Liberation Sans", sans-serif' fill="#000" stroke="#000" stroke-width="0.4" textLength="45.92" lengthAdjust="spacingAndGlyphs">78</text>
<text x="1817.70" y="1656.50" font-size="40.5" font-family='"Liberation Sans", sans-serif' fill="#000" stroke="#000" stroke-width="0.4" textLength="45.92" lengthAdjust="spacingAndGlyphs">75</text>
<text x="1937.90" y="1656.50" font-size="40.5" font-family='"Liberation Sans", sans-serif' fill="#000" stroke="#000" stroke-width="0.4" textLength="47.04" lengthAdjust="spacingAndGlyphs">72</text>
<text x="2059.10" y="1656.50" font-size="40.5" font-family='"Liberation Sans", sans-serif' fill="#000" stroke="#000" stroke-width="0.4" textLength="45.95" lengthAdjust="spacingAndGlyphs">69</text>
<text x="1603.00" y="1710.80" font-size="40.5" font-family='"Liberation Sans", sans-serif' fill="#000" stroke="#000" stroke-width="0.4" textLength="372.56" lengthAdjust="spacingAndGlyphs">Binding energy (eV)</text>
<text x="1450.70" y="1315.90" font-size="40" font-family='"Liberation Sans", sans-serif' fill="#000" stroke="#000" stroke-width="0.4" textLength="250.64" lengthAdjust="spacingAndGlyphs" transform="rotate(-90 1450.70 1315.90)">Intensity (a.u.)</text>
</svg></div></body></html>
